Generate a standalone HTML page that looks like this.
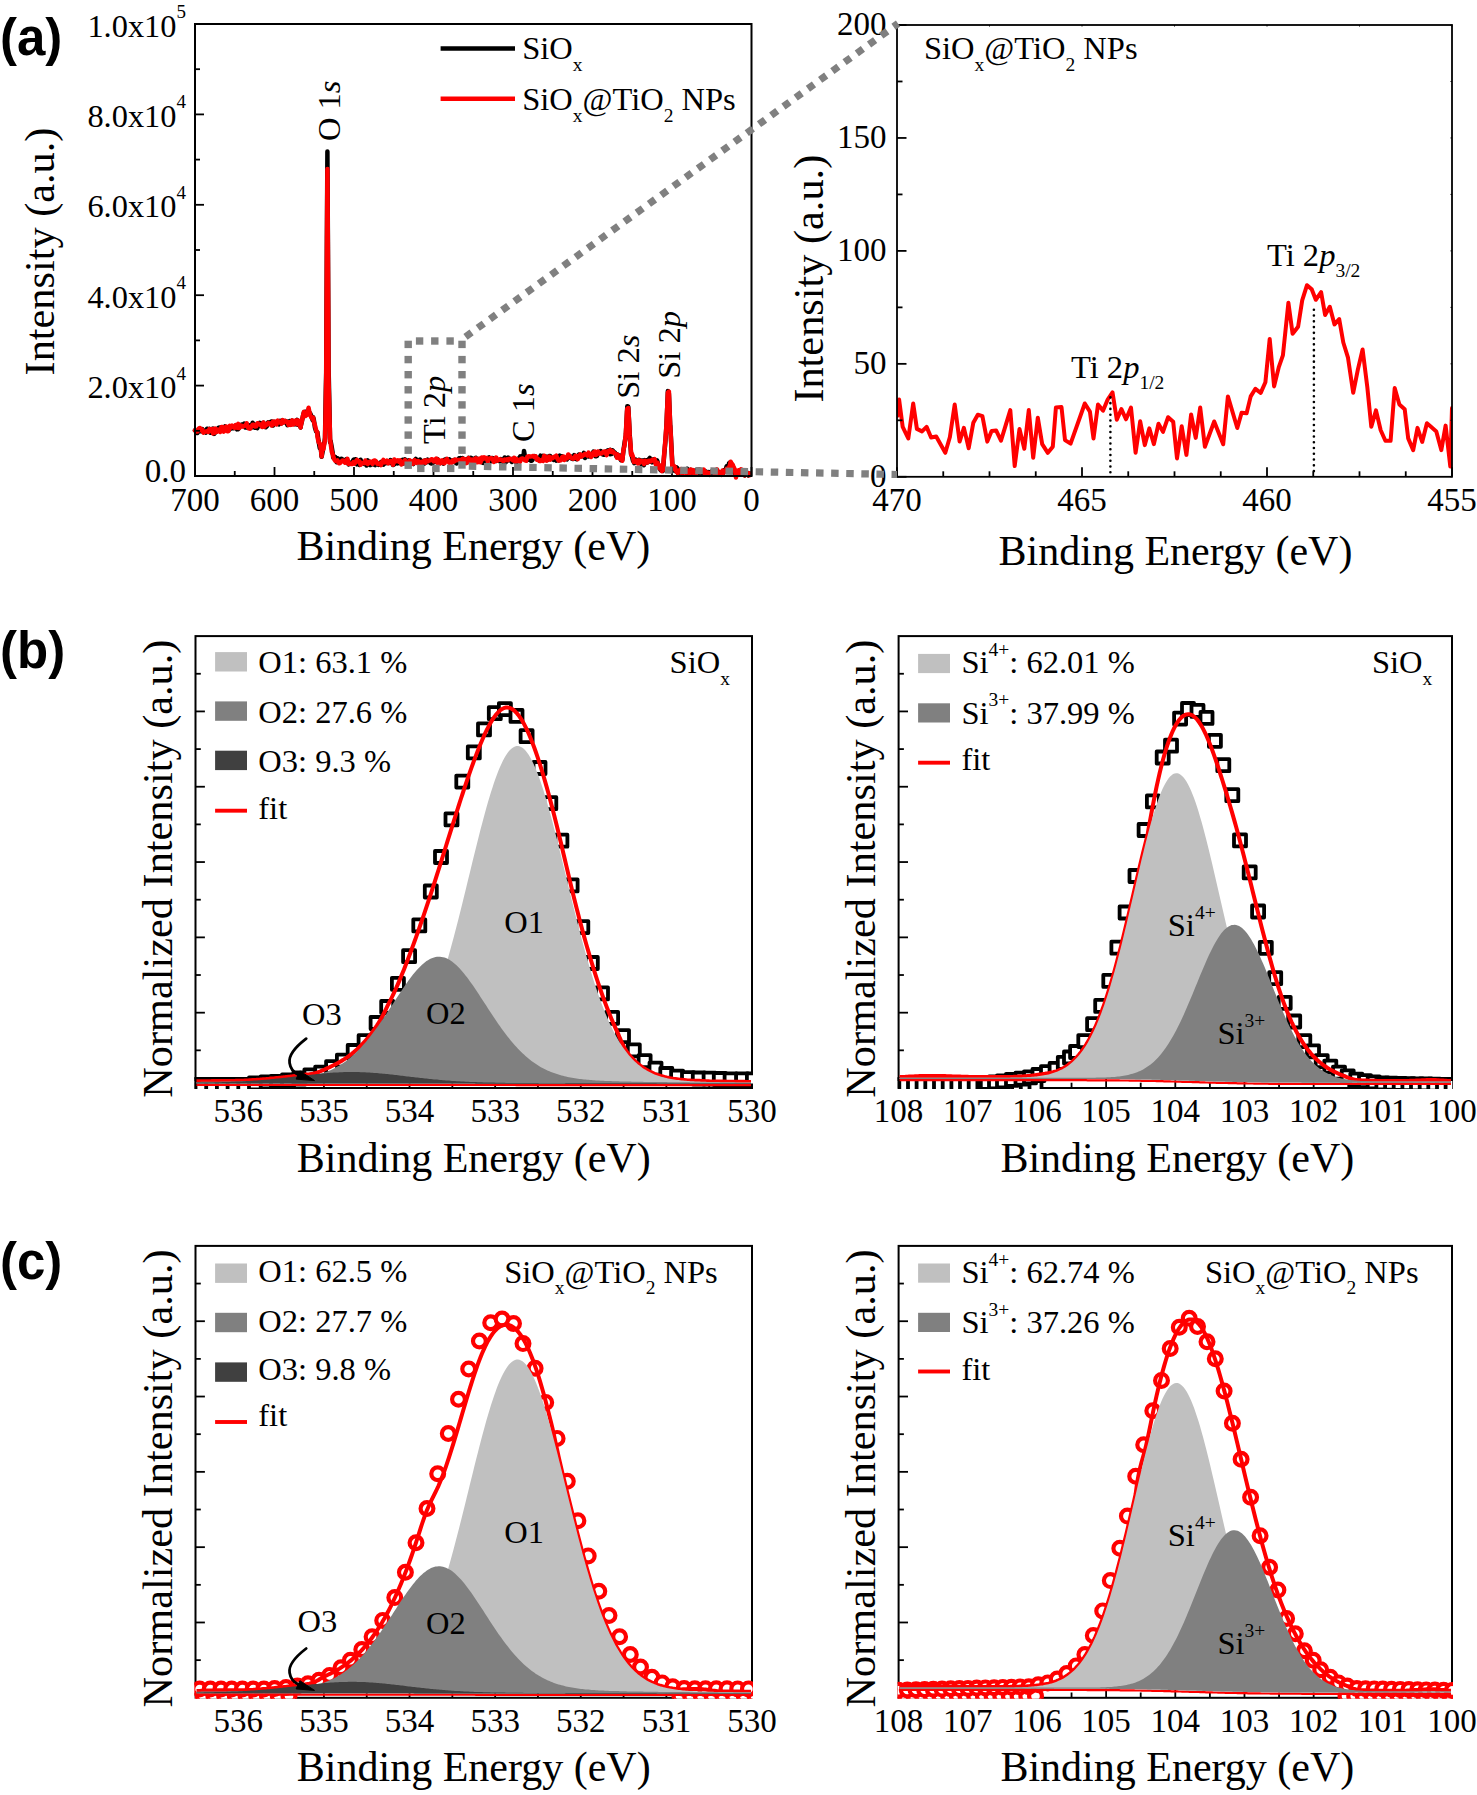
<!DOCTYPE html>
<html><head><meta charset="utf-8"><title>XPS figure</title>
<style>html,body{margin:0;padding:0;background:#fff;}svg{display:block;}.sq path{fill:#fff;stroke:#000;stroke-width:3.8px;stroke-linejoin:round}.ci circle{fill:#fff;stroke:#f00;stroke-width:4.2px}</style>
</head><body>
<svg xmlns="http://www.w3.org/2000/svg" width="1477" height="1795" viewBox="0 0 1477 1795" font-family="Liberation Serif" fill="#000">
<text x="0" y="54.6" font-family="Liberation Sans" font-weight="bold" font-size="51">(a)</text>
<text x="0" y="668.0" font-family="Liberation Sans" font-weight="bold" font-size="51">(b)</text>
<text x="0" y="1279.3" font-family="Liberation Sans" font-weight="bold" font-size="51">(c)</text>
<rect x="195.50" y="636.10" width="556.50" height="451.90" fill="none" stroke="#000" stroke-width="2"/>
<line x1="752.00" y1="1088.00" x2="752.00" y2="1078.60" stroke="#000" stroke-width="1.8" />
<line x1="709.19" y1="1088.00" x2="709.19" y2="1082.70" stroke="#000" stroke-width="1.8" />
<line x1="666.38" y1="1088.00" x2="666.38" y2="1078.60" stroke="#000" stroke-width="1.8" />
<line x1="623.58" y1="1088.00" x2="623.58" y2="1082.70" stroke="#000" stroke-width="1.8" />
<line x1="580.77" y1="1088.00" x2="580.77" y2="1078.60" stroke="#000" stroke-width="1.8" />
<line x1="537.96" y1="1088.00" x2="537.96" y2="1082.70" stroke="#000" stroke-width="1.8" />
<line x1="495.15" y1="1088.00" x2="495.15" y2="1078.60" stroke="#000" stroke-width="1.8" />
<line x1="452.35" y1="1088.00" x2="452.35" y2="1082.70" stroke="#000" stroke-width="1.8" />
<line x1="409.54" y1="1088.00" x2="409.54" y2="1078.60" stroke="#000" stroke-width="1.8" />
<line x1="366.73" y1="1088.00" x2="366.73" y2="1082.70" stroke="#000" stroke-width="1.8" />
<line x1="323.92" y1="1088.00" x2="323.92" y2="1078.60" stroke="#000" stroke-width="1.8" />
<line x1="281.12" y1="1088.00" x2="281.12" y2="1082.70" stroke="#000" stroke-width="1.8" />
<line x1="238.31" y1="1088.00" x2="238.31" y2="1078.60" stroke="#000" stroke-width="1.8" />
<line x1="195.50" y1="1088.00" x2="195.50" y2="1082.70" stroke="#000" stroke-width="1.8" />
<line x1="195.50" y1="1050.34" x2="200.80" y2="1050.34" stroke="#000" stroke-width="1.8" />
<line x1="195.50" y1="1012.68" x2="204.90" y2="1012.68" stroke="#000" stroke-width="1.8" />
<line x1="195.50" y1="975.02" x2="200.80" y2="975.02" stroke="#000" stroke-width="1.8" />
<line x1="195.50" y1="937.37" x2="204.90" y2="937.37" stroke="#000" stroke-width="1.8" />
<line x1="195.50" y1="899.71" x2="200.80" y2="899.71" stroke="#000" stroke-width="1.8" />
<line x1="195.50" y1="862.05" x2="204.90" y2="862.05" stroke="#000" stroke-width="1.8" />
<line x1="195.50" y1="824.39" x2="200.80" y2="824.39" stroke="#000" stroke-width="1.8" />
<line x1="195.50" y1="786.73" x2="204.90" y2="786.73" stroke="#000" stroke-width="1.8" />
<line x1="195.50" y1="749.08" x2="200.80" y2="749.08" stroke="#000" stroke-width="1.8" />
<line x1="195.50" y1="711.42" x2="204.90" y2="711.42" stroke="#000" stroke-width="1.8" />
<line x1="195.50" y1="673.76" x2="200.80" y2="673.76" stroke="#000" stroke-width="1.8" />
<rect x="898.60" y="636.10" width="553.40" height="451.90" fill="none" stroke="#000" stroke-width="2"/>
<line x1="1452.00" y1="1088.00" x2="1452.00" y2="1078.60" stroke="#000" stroke-width="1.8" />
<line x1="1417.41" y1="1088.00" x2="1417.41" y2="1082.70" stroke="#000" stroke-width="1.8" />
<line x1="1382.83" y1="1088.00" x2="1382.83" y2="1078.60" stroke="#000" stroke-width="1.8" />
<line x1="1348.24" y1="1088.00" x2="1348.24" y2="1082.70" stroke="#000" stroke-width="1.8" />
<line x1="1313.65" y1="1088.00" x2="1313.65" y2="1078.60" stroke="#000" stroke-width="1.8" />
<line x1="1279.06" y1="1088.00" x2="1279.06" y2="1082.70" stroke="#000" stroke-width="1.8" />
<line x1="1244.47" y1="1088.00" x2="1244.47" y2="1078.60" stroke="#000" stroke-width="1.8" />
<line x1="1209.89" y1="1088.00" x2="1209.89" y2="1082.70" stroke="#000" stroke-width="1.8" />
<line x1="1175.30" y1="1088.00" x2="1175.30" y2="1078.60" stroke="#000" stroke-width="1.8" />
<line x1="1140.71" y1="1088.00" x2="1140.71" y2="1082.70" stroke="#000" stroke-width="1.8" />
<line x1="1106.12" y1="1088.00" x2="1106.12" y2="1078.60" stroke="#000" stroke-width="1.8" />
<line x1="1071.54" y1="1088.00" x2="1071.54" y2="1082.70" stroke="#000" stroke-width="1.8" />
<line x1="1036.95" y1="1088.00" x2="1036.95" y2="1078.60" stroke="#000" stroke-width="1.8" />
<line x1="1002.36" y1="1088.00" x2="1002.36" y2="1082.70" stroke="#000" stroke-width="1.8" />
<line x1="967.77" y1="1088.00" x2="967.77" y2="1078.60" stroke="#000" stroke-width="1.8" />
<line x1="933.19" y1="1088.00" x2="933.19" y2="1082.70" stroke="#000" stroke-width="1.8" />
<line x1="898.60" y1="1088.00" x2="898.60" y2="1078.60" stroke="#000" stroke-width="1.8" />
<line x1="898.60" y1="1050.34" x2="903.90" y2="1050.34" stroke="#000" stroke-width="1.8" />
<line x1="898.60" y1="1012.68" x2="908.00" y2="1012.68" stroke="#000" stroke-width="1.8" />
<line x1="898.60" y1="975.02" x2="903.90" y2="975.02" stroke="#000" stroke-width="1.8" />
<line x1="898.60" y1="937.37" x2="908.00" y2="937.37" stroke="#000" stroke-width="1.8" />
<line x1="898.60" y1="899.71" x2="903.90" y2="899.71" stroke="#000" stroke-width="1.8" />
<line x1="898.60" y1="862.05" x2="908.00" y2="862.05" stroke="#000" stroke-width="1.8" />
<line x1="898.60" y1="824.39" x2="903.90" y2="824.39" stroke="#000" stroke-width="1.8" />
<line x1="898.60" y1="786.73" x2="908.00" y2="786.73" stroke="#000" stroke-width="1.8" />
<line x1="898.60" y1="749.08" x2="903.90" y2="749.08" stroke="#000" stroke-width="1.8" />
<line x1="898.60" y1="711.42" x2="908.00" y2="711.42" stroke="#000" stroke-width="1.8" />
<line x1="898.60" y1="673.76" x2="903.90" y2="673.76" stroke="#000" stroke-width="1.8" />
<rect x="195.50" y="1245.90" width="556.50" height="451.90" fill="none" stroke="#000" stroke-width="2"/>
<line x1="752.00" y1="1697.80" x2="752.00" y2="1688.40" stroke="#000" stroke-width="1.8" />
<line x1="709.19" y1="1697.80" x2="709.19" y2="1692.50" stroke="#000" stroke-width="1.8" />
<line x1="666.38" y1="1697.80" x2="666.38" y2="1688.40" stroke="#000" stroke-width="1.8" />
<line x1="623.58" y1="1697.80" x2="623.58" y2="1692.50" stroke="#000" stroke-width="1.8" />
<line x1="580.77" y1="1697.80" x2="580.77" y2="1688.40" stroke="#000" stroke-width="1.8" />
<line x1="537.96" y1="1697.80" x2="537.96" y2="1692.50" stroke="#000" stroke-width="1.8" />
<line x1="495.15" y1="1697.80" x2="495.15" y2="1688.40" stroke="#000" stroke-width="1.8" />
<line x1="452.35" y1="1697.80" x2="452.35" y2="1692.50" stroke="#000" stroke-width="1.8" />
<line x1="409.54" y1="1697.80" x2="409.54" y2="1688.40" stroke="#000" stroke-width="1.8" />
<line x1="366.73" y1="1697.80" x2="366.73" y2="1692.50" stroke="#000" stroke-width="1.8" />
<line x1="323.92" y1="1697.80" x2="323.92" y2="1688.40" stroke="#000" stroke-width="1.8" />
<line x1="281.12" y1="1697.80" x2="281.12" y2="1692.50" stroke="#000" stroke-width="1.8" />
<line x1="238.31" y1="1697.80" x2="238.31" y2="1688.40" stroke="#000" stroke-width="1.8" />
<line x1="195.50" y1="1697.80" x2="195.50" y2="1692.50" stroke="#000" stroke-width="1.8" />
<line x1="195.50" y1="1660.14" x2="200.80" y2="1660.14" stroke="#000" stroke-width="1.8" />
<line x1="195.50" y1="1622.48" x2="204.90" y2="1622.48" stroke="#000" stroke-width="1.8" />
<line x1="195.50" y1="1584.83" x2="200.80" y2="1584.83" stroke="#000" stroke-width="1.8" />
<line x1="195.50" y1="1547.17" x2="204.90" y2="1547.17" stroke="#000" stroke-width="1.8" />
<line x1="195.50" y1="1509.51" x2="200.80" y2="1509.51" stroke="#000" stroke-width="1.8" />
<line x1="195.50" y1="1471.85" x2="204.90" y2="1471.85" stroke="#000" stroke-width="1.8" />
<line x1="195.50" y1="1434.19" x2="200.80" y2="1434.19" stroke="#000" stroke-width="1.8" />
<line x1="195.50" y1="1396.53" x2="204.90" y2="1396.53" stroke="#000" stroke-width="1.8" />
<line x1="195.50" y1="1358.88" x2="200.80" y2="1358.88" stroke="#000" stroke-width="1.8" />
<line x1="195.50" y1="1321.22" x2="204.90" y2="1321.22" stroke="#000" stroke-width="1.8" />
<line x1="195.50" y1="1283.56" x2="200.80" y2="1283.56" stroke="#000" stroke-width="1.8" />
<rect x="898.60" y="1245.90" width="553.40" height="451.90" fill="none" stroke="#000" stroke-width="2"/>
<line x1="1452.00" y1="1697.80" x2="1452.00" y2="1688.40" stroke="#000" stroke-width="1.8" />
<line x1="1417.41" y1="1697.80" x2="1417.41" y2="1692.50" stroke="#000" stroke-width="1.8" />
<line x1="1382.83" y1="1697.80" x2="1382.83" y2="1688.40" stroke="#000" stroke-width="1.8" />
<line x1="1348.24" y1="1697.80" x2="1348.24" y2="1692.50" stroke="#000" stroke-width="1.8" />
<line x1="1313.65" y1="1697.80" x2="1313.65" y2="1688.40" stroke="#000" stroke-width="1.8" />
<line x1="1279.06" y1="1697.80" x2="1279.06" y2="1692.50" stroke="#000" stroke-width="1.8" />
<line x1="1244.47" y1="1697.80" x2="1244.47" y2="1688.40" stroke="#000" stroke-width="1.8" />
<line x1="1209.89" y1="1697.80" x2="1209.89" y2="1692.50" stroke="#000" stroke-width="1.8" />
<line x1="1175.30" y1="1697.80" x2="1175.30" y2="1688.40" stroke="#000" stroke-width="1.8" />
<line x1="1140.71" y1="1697.80" x2="1140.71" y2="1692.50" stroke="#000" stroke-width="1.8" />
<line x1="1106.12" y1="1697.80" x2="1106.12" y2="1688.40" stroke="#000" stroke-width="1.8" />
<line x1="1071.54" y1="1697.80" x2="1071.54" y2="1692.50" stroke="#000" stroke-width="1.8" />
<line x1="1036.95" y1="1697.80" x2="1036.95" y2="1688.40" stroke="#000" stroke-width="1.8" />
<line x1="1002.36" y1="1697.80" x2="1002.36" y2="1692.50" stroke="#000" stroke-width="1.8" />
<line x1="967.77" y1="1697.80" x2="967.77" y2="1688.40" stroke="#000" stroke-width="1.8" />
<line x1="933.19" y1="1697.80" x2="933.19" y2="1692.50" stroke="#000" stroke-width="1.8" />
<line x1="898.60" y1="1697.80" x2="898.60" y2="1688.40" stroke="#000" stroke-width="1.8" />
<line x1="898.60" y1="1660.14" x2="903.90" y2="1660.14" stroke="#000" stroke-width="1.8" />
<line x1="898.60" y1="1622.48" x2="908.00" y2="1622.48" stroke="#000" stroke-width="1.8" />
<line x1="898.60" y1="1584.83" x2="903.90" y2="1584.83" stroke="#000" stroke-width="1.8" />
<line x1="898.60" y1="1547.17" x2="908.00" y2="1547.17" stroke="#000" stroke-width="1.8" />
<line x1="898.60" y1="1509.51" x2="903.90" y2="1509.51" stroke="#000" stroke-width="1.8" />
<line x1="898.60" y1="1471.85" x2="908.00" y2="1471.85" stroke="#000" stroke-width="1.8" />
<line x1="898.60" y1="1434.19" x2="903.90" y2="1434.19" stroke="#000" stroke-width="1.8" />
<line x1="898.60" y1="1396.53" x2="908.00" y2="1396.53" stroke="#000" stroke-width="1.8" />
<line x1="898.60" y1="1358.88" x2="903.90" y2="1358.88" stroke="#000" stroke-width="1.8" />
<line x1="898.60" y1="1321.22" x2="908.00" y2="1321.22" stroke="#000" stroke-width="1.8" />
<line x1="898.60" y1="1283.56" x2="903.90" y2="1283.56" stroke="#000" stroke-width="1.8" />
<path d="M195.0,430.3 196.2,431.0 197.4,433.0 198.6,430.5 199.8,430.8 201.0,431.3 202.2,429.1 203.4,430.9 204.6,431.6 205.8,432.6 207.0,428.7 208.2,429.9 209.4,428.8 210.6,432.8 211.8,432.2 213.0,428.6 214.2,433.9 214.4,433.8 215.4,431.9 216.6,431.4 217.8,428.6 219.0,427.6 220.2,430.2 221.4,427.3 222.6,427.8 223.8,427.9 225.0,426.4 226.2,428.6 227.4,428.2 228.6,430.3 229.8,428.2 231.0,428.6 232.2,427.6 233.4,428.3 234.6,426.9 235.8,425.6 237.0,429.4 238.2,429.2 238.7,428.2 239.4,427.4 240.6,425.2 241.8,424.6 243.0,424.9 244.2,423.6 245.4,427.5 246.6,425.4 247.8,427.8 249.0,425.2 250.2,428.3 251.4,427.6 252.6,422.8 253.8,423.9 255.0,427.8 256.2,425.3 257.4,428.1 258.6,424.7 259.8,422.9 261.0,425.9 262.2,426.7 263.1,423.8 263.4,422.7 264.6,424.0 265.8,427.3 267.0,426.0 268.2,422.3 269.4,422.9 270.6,421.9 271.8,421.5 273.0,425.5 274.2,421.8 275.4,423.8 276.6,423.0 277.8,421.4 279.0,424.3 280.2,420.8 281.4,423.5 282.6,420.5 283.8,422.1 285.0,420.9 286.2,421.2 287.4,425.1 288.6,424.1 289.8,421.2 291.0,424.4 292.2,420.6 293.4,421.6 294.6,424.1 295.8,422.9 297.0,419.8 297.2,424.7 298.2,421.6 299.4,423.2 300.6,427.5 300.9,425.3 301.8,421.7 303.0,415.9 304.0,412.2 304.2,414.8 305.4,411.8 306.6,412.8 307.8,410.5 308.6,410.2 309.0,413.8 310.2,413.4 311.4,416.2 312.6,420.1 313.1,417.2 313.8,419.5 315.0,427.9 316.2,431.6 317.3,432.2 317.4,432.3 318.6,441.2 319.8,448.1 321.0,449.7 321.6,456.8 322.2,453.9 323.4,447.3 324.6,441.2 325.0,437.8 325.8,390.8 326.2,372.6 326.9,238.5 327.0,223.7 327.4,151.6 327.9,241.8 328.2,296.3 328.6,368.8 329.4,406.0 330.1,442.2 330.6,440.9 331.8,447.5 333.0,455.0 333.2,457.6 334.2,457.5 335.4,457.1 336.6,462.2 337.5,459.3 337.8,458.3 339.0,459.8 340.2,460.8 341.4,458.8 342.6,459.5 343.8,460.6 345.0,461.8 346.2,459.4 347.4,460.8 348.4,463.8 348.6,464.3 349.8,462.6 351.0,462.8 352.2,462.3 353.4,459.9 354.6,459.4 355.8,459.3 357.0,464.4 358.2,463.3 359.4,464.9 360.6,459.7 361.8,463.2 363.0,462.4 364.2,463.8 365.4,461.6 366.6,465.5 367.8,460.4 369.0,463.1 370.0,464.2 370.2,465.1 371.4,464.2 372.6,464.0 373.8,464.4 375.0,465.1 376.2,461.9 377.4,463.7 378.6,464.9 379.8,464.7 381.0,462.1 382.2,464.2 383.4,464.6 384.6,462.9 385.8,463.2 387.0,461.8 388.2,462.9 389.4,463.0 390.6,460.0 391.8,463.1 393.0,465.0 394.2,464.3 395.4,463.5 396.6,461.5 397.8,463.4 399.0,462.5 400.2,461.7 401.4,463.9 402.6,459.7 403.8,463.4 405.0,459.3 406.2,462.5 407.4,461.7 408.6,460.3 409.8,462.9 411.0,461.7 412.2,462.4 413.4,464.0 414.6,460.3 415.8,458.9 417.0,460.5 418.2,462.5 419.4,459.9 420.0,459.6 420.6,463.8 421.8,462.4 423.0,461.1 424.2,463.6 425.4,460.4 426.6,462.3 427.8,459.7 429.0,460.9 430.2,463.0 431.4,463.6 432.6,463.4 433.8,460.6 435.0,461.7 436.2,460.1 437.4,459.1 438.6,461.1 439.8,463.0 441.0,463.0 442.2,462.2 443.4,463.6 444.6,459.8 445.8,459.1 447.0,460.7 448.2,459.7 449.4,459.3 450.6,460.4 451.8,461.6 453.0,460.8 454.2,459.8 455.4,462.7 456.6,463.5 457.8,460.5 459.0,458.3 460.2,458.1 461.4,462.8 462.6,458.1 463.8,461.8 465.0,461.0 466.2,459.5 467.4,462.2 468.6,457.8 469.8,458.5 470.0,460.2 471.0,457.8 472.2,462.3 473.4,459.0 474.6,458.4 475.8,457.8 477.0,461.1 478.2,460.0 479.4,461.0 480.6,461.1 481.8,462.0 483.0,462.8 484.2,461.2 485.4,458.5 486.6,460.0 487.8,458.3 489.0,457.4 490.2,459.9 491.4,461.2 492.6,458.2 493.8,458.7 495.0,459.1 496.2,461.0 497.4,460.0 498.6,460.5 499.8,461.3 501.0,459.2 502.2,461.4 503.4,462.1 504.6,457.5 505.8,462.2 507.0,461.0 508.2,457.6 509.4,459.4 510.6,460.3 511.8,461.9 513.0,458.9 514.2,459.9 515.4,461.7 516.6,461.2 517.0,462.0 517.8,458.9 519.0,459.5 520.2,456.4 521.4,458.8 521.5,459.3 522.6,456.1 523.8,454.1 524.0,450.9 525.0,456.7 526.2,459.6 526.5,460.2 527.4,457.9 528.6,459.6 529.8,457.2 531.0,460.8 532.2,460.5 533.4,457.6 534.6,456.1 535.8,458.1 537.0,458.7 538.2,459.9 539.4,458.3 540.6,455.7 541.8,460.0 543.0,455.8 544.2,459.9 545.4,456.4 546.6,457.3 547.8,459.8 549.0,456.1 550.2,456.1 551.4,458.2 552.6,459.3 553.8,459.9 555.0,459.1 556.2,460.5 557.4,457.9 558.6,460.4 559.8,455.6 560.0,456.3 561.0,458.0 562.2,456.5 563.4,458.9 564.6,458.3 565.8,457.6 567.0,459.3 568.2,457.6 569.4,456.1 570.6,456.4 571.8,458.9 573.0,459.1 574.2,455.1 575.4,458.6 576.6,459.2 577.6,456.6 577.8,456.9 579.0,454.6 580.2,456.3 581.4,455.9 582.6,456.3 583.8,452.9 585.0,458.0 586.2,455.3 587.4,454.4 588.6,456.5 589.8,455.0 591.0,454.4 592.2,455.3 593.4,451.6 594.6,454.1 595.2,453.3 595.8,456.3 597.0,455.9 598.2,452.1 599.4,453.1 600.6,451.0 601.8,452.5 603.0,454.5 604.2,454.8 605.4,452.3 606.6,451.2 607.8,450.4 609.0,452.6 610.1,454.2 610.2,449.8 611.4,454.0 612.6,450.4 613.8,451.9 615.0,452.7 616.2,455.9 616.9,454.2 617.4,454.8 618.6,457.4 619.8,455.5 621.0,460.1 622.2,457.7 622.3,460.0 623.4,451.0 624.6,442.5 625.8,436.2 627.0,412.4 627.3,406.3 628.2,406.5 628.3,407.2 629.4,427.9 629.7,434.3 630.6,447.7 631.1,453.9 631.8,455.4 633.0,460.8 633.8,461.8 634.2,463.1 635.4,459.5 636.6,462.2 637.8,462.4 638.5,462.9 639.0,459.8 640.2,460.2 641.4,464.0 642.6,460.5 643.8,465.3 644.0,464.8 645.0,460.1 646.2,460.3 647.4,462.5 648.6,459.4 649.8,458.0 650.7,461.8 651.0,459.6 652.2,462.3 653.4,459.2 654.6,461.3 655.8,463.5 657.0,460.3 657.5,461.6 658.2,465.3 659.4,468.2 660.6,470.2 661.8,467.0 662.9,470.7 663.0,470.9 664.2,454.9 665.4,441.4 666.5,425.3 666.6,422.2 667.8,393.7 667.9,390.9 668.9,393.8 669.0,396.0 670.2,425.0 670.3,425.0 671.4,446.0 672.4,465.0 672.6,468.8 673.8,470.5 675.0,471.0 676.2,467.2 677.4,468.0 677.8,473.2 678.6,470.6 679.8,472.3 681.0,470.0 682.2,470.9 683.4,471.2 684.6,470.8 685.8,471.9 687.0,468.7 688.2,472.7 689.4,473.6 690.6,469.9 691.8,471.6 693.0,473.2 694.2,471.5 695.4,470.4 696.6,470.2 697.8,472.2 699.0,469.4 700.2,474.3 701.4,473.8 702.6,473.2 703.8,474.1 705.0,472.8 706.2,471.6 707.4,472.7 708.6,472.1 709.8,474.8 711.0,473.8 712.2,470.7 713.4,474.4 714.6,473.5 715.8,473.7 717.0,473.9 718.2,471.6 719.4,474.3 720.6,474.2 721.8,473.2 722.5,473.6 723.0,473.2 724.2,470.1 725.4,470.9 726.6,466.2 727.8,466.7 728.5,466.8 729.0,463.2 730.2,462.5 730.6,463.3 731.4,465.0 732.6,465.5 733.8,472.2 735.0,473.4 736.0,473.9 736.2,475.5 737.4,473.8 738.6,472.4 739.8,470.4 740.1,473.5 741.0,471.9 742.2,472.7 743.4,473.6 744.6,475.3 745.8,470.5 747.0,474.3 748.2,475.5 749.4,473.4 749.6,474.2" fill="none" stroke="#000" stroke-width="4.5" stroke-linejoin="round" stroke-linecap="round" />
<path d="M195.0,430.5 196.2,431.5 197.4,431.6 198.6,428.7 199.8,428.0 201.0,430.1 202.2,429.6 203.4,432.6 204.6,432.0 205.8,431.5 207.0,431.3 208.2,431.9 209.4,429.1 210.6,430.7 211.8,429.2 213.0,433.4 214.2,428.7 214.4,433.0 215.4,428.6 216.6,431.8 217.8,429.6 219.0,429.7 220.2,431.9 221.4,427.1 222.6,427.1 223.8,431.6 225.0,429.1 226.2,426.5 227.4,431.3 228.6,430.8 229.8,425.9 231.0,427.4 232.2,425.6 233.4,426.3 234.6,427.8 235.8,425.0 237.0,427.7 238.2,423.9 238.7,424.5 239.4,428.0 240.6,425.6 241.8,425.7 243.0,426.6 244.2,425.9 245.4,425.3 246.6,423.3 247.8,427.1 249.0,428.4 250.2,428.4 251.4,426.6 252.6,424.8 253.8,424.8 255.0,426.6 256.2,426.4 257.4,423.2 258.6,423.8 259.8,424.5 261.0,425.3 262.2,426.9 263.1,425.1 263.4,422.4 264.6,426.7 265.8,424.4 267.0,424.7 268.2,422.9 269.4,423.9 270.6,423.5 271.8,425.5 273.0,421.6 274.2,423.9 275.4,421.7 276.6,424.4 277.8,420.6 279.0,421.8 280.2,422.0 281.4,423.5 282.6,420.1 283.8,422.4 285.0,420.9 286.2,421.3 287.4,422.3 288.6,425.0 289.8,422.2 291.0,424.8 292.2,420.4 293.4,424.5 294.6,421.4 295.8,420.3 297.0,423.4 297.2,424.3 298.2,420.4 299.4,423.3 300.6,427.5 300.9,425.4 301.8,421.4 303.0,415.6 304.0,411.9 304.2,415.0 305.4,416.0 306.6,415.0 307.8,411.2 308.6,407.8 309.0,410.3 310.2,415.1 311.4,417.6 312.6,418.8 313.1,417.5 313.8,421.6 315.0,425.5 316.2,430.5 317.3,432.3 317.4,436.6 318.6,442.1 319.8,443.7 321.0,450.2 321.6,456.4 322.2,450.5 323.4,449.2 324.6,441.8 325.0,441.1 325.8,401.1 326.2,378.4 326.9,248.8 327.0,232.2 327.4,169.0 327.9,251.1 328.2,303.7 328.6,382.2 329.4,412.1 330.1,439.6 330.6,443.0 331.8,451.7 333.0,455.0 333.2,456.3 334.2,459.2 335.4,460.9 336.6,461.3 337.5,460.5 337.8,461.5 339.0,463.3 340.2,462.8 341.4,461.7 342.6,460.4 343.8,460.6 345.0,462.7 346.2,461.8 347.4,458.8 348.4,462.8 348.6,463.9 349.8,463.4 351.0,464.0 352.2,464.1 353.4,462.1 354.6,463.6 355.8,461.4 357.0,459.9 358.2,461.4 359.4,461.2 360.6,464.8 361.8,463.5 363.0,462.7 364.2,463.2 365.4,460.5 366.6,462.9 367.8,463.9 369.0,462.2 370.0,461.5 370.2,462.4 371.4,461.9 372.6,463.9 373.8,460.8 375.0,460.5 376.2,461.7 377.4,463.8 378.6,464.1 379.8,463.5 381.0,465.0 382.2,461.8 383.4,459.9 384.6,462.4 385.8,462.1 387.0,460.6 388.2,463.3 389.4,461.5 390.6,460.9 391.8,461.3 393.0,464.7 394.2,459.5 395.4,461.4 396.6,460.9 397.8,460.4 399.0,461.7 400.2,460.5 401.4,464.4 402.6,462.0 403.8,463.1 405.0,460.0 406.2,461.7 407.4,462.4 408.6,463.7 409.8,460.4 411.0,461.5 412.2,463.7 413.4,463.5 414.6,460.1 415.8,461.8 417.0,463.0 418.2,461.0 419.4,462.5 420.0,462.4 420.6,464.1 421.8,461.8 423.0,462.5 424.2,460.6 425.4,462.7 426.6,460.4 427.8,461.3 429.0,460.5 430.2,460.2 431.4,459.2 432.6,459.7 433.8,461.5 435.0,459.8 436.2,458.6 437.4,462.9 438.6,459.9 439.8,463.5 441.0,461.6 442.2,460.4 443.4,463.1 444.6,463.2 445.8,460.0 447.0,458.9 448.2,461.7 449.4,462.8 450.6,461.5 451.8,462.5 453.0,460.3 454.2,461.5 455.4,459.5 456.6,460.2 457.8,460.1 459.0,460.1 460.2,460.1 461.4,462.4 462.6,458.8 463.8,459.0 465.0,459.2 466.2,463.2 467.4,460.7 468.6,458.0 469.8,462.4 470.0,462.6 471.0,462.3 472.2,459.6 473.4,461.7 474.6,459.3 475.8,458.3 477.0,462.3 478.2,462.1 479.4,458.6 480.6,462.3 481.8,457.5 483.0,459.0 484.2,457.3 485.4,458.2 486.6,458.1 487.8,461.2 489.0,458.8 490.2,458.2 491.4,458.1 492.6,458.8 493.8,461.8 495.0,460.3 496.2,457.5 497.4,460.7 498.6,459.8 499.8,459.3 501.0,459.7 502.2,460.4 503.4,461.2 504.6,459.5 505.8,460.2 507.0,459.2 508.2,460.1 509.4,458.7 510.6,458.8 511.8,459.3 513.0,460.4 514.2,457.9 515.4,461.5 516.6,459.1 517.8,461.1 519.0,460.1 520.0,461.6 520.2,460.0 521.4,458.6 522.6,458.4 523.8,459.5 525.0,460.3 526.2,460.7 527.4,456.7 528.6,456.3 529.8,456.5 531.0,456.4 532.2,456.2 533.4,455.9 534.6,457.2 535.8,456.4 537.0,459.6 538.2,459.1 539.4,461.1 540.6,461.0 541.8,459.8 543.0,460.9 544.2,455.7 545.4,456.8 546.6,460.7 547.8,458.1 549.0,456.6 550.2,459.6 551.4,457.7 552.6,458.3 553.8,457.0 555.0,456.6 556.2,455.7 557.4,458.6 558.6,460.5 559.8,460.6 560.0,459.4 561.0,460.2 562.2,457.0 563.4,456.5 564.6,459.9 565.8,458.0 567.0,458.3 568.2,454.5 569.4,455.6 570.6,457.0 571.8,458.3 573.0,458.7 574.2,458.2 575.4,455.8 576.6,455.9 577.6,458.5 577.8,459.2 579.0,456.2 580.2,454.4 581.4,456.6 582.6,455.9 583.8,454.8 585.0,453.9 586.2,454.5 587.4,455.6 588.6,452.7 589.8,454.9 591.0,457.0 592.2,455.6 593.4,452.7 594.6,453.4 595.2,451.6 595.8,455.0 597.0,454.3 598.2,451.6 599.4,453.5 600.6,453.6 601.8,453.3 603.0,452.1 604.2,451.5 605.4,451.6 606.6,455.1 607.8,451.2 609.0,452.0 610.1,451.6 610.2,450.0 611.4,451.9 612.6,451.4 613.8,452.7 615.0,453.5 616.2,454.0 616.9,457.7 617.4,454.5 618.6,455.7 619.8,458.6 621.0,458.2 622.2,459.9 622.3,460.7 623.4,450.0 624.6,445.2 625.8,433.8 627.0,411.4 627.3,408.7 628.2,409.7 628.3,408.0 629.4,427.9 629.7,435.7 630.6,445.8 631.1,455.0 631.8,453.7 633.0,457.1 633.8,462.0 634.2,461.9 635.4,461.5 636.6,460.7 637.8,463.3 638.5,460.4 639.0,463.2 640.2,460.6 641.4,461.5 642.6,461.3 643.8,463.7 644.0,464.0 645.0,460.7 646.2,461.9 647.4,462.5 648.6,460.8 649.8,461.2 650.7,460.6 651.0,461.3 652.2,459.8 653.4,460.2 654.6,459.2 655.8,464.6 657.0,464.7 657.5,462.7 658.2,466.9 659.4,468.2 660.6,465.6 661.8,471.1 662.9,470.3 663.0,468.4 664.2,453.6 665.4,439.9 666.5,424.5 666.6,422.1 667.8,393.7 667.9,392.4 668.9,391.6 669.0,393.8 670.2,426.5 670.3,426.3 671.4,447.7 672.4,467.3 672.6,469.3 673.8,465.8 675.0,467.1 676.2,471.5 677.4,472.7 677.8,473.1 678.6,470.9 679.8,470.1 681.0,469.2 682.2,473.3 683.4,472.6 684.6,471.5 685.8,473.0 687.0,470.1 688.2,471.7 689.4,473.9 690.6,469.5 691.8,472.5 693.0,470.1 694.2,473.9 695.4,474.0 696.6,472.9 697.8,471.7 699.0,469.4 700.2,472.1 701.4,471.3 702.6,471.5 703.8,469.7 705.0,474.5 706.2,472.2 707.4,472.4 708.6,474.0 709.8,474.3 711.0,472.4 712.2,472.3 713.4,474.0 714.6,471.4 715.8,474.3 717.0,469.4 718.2,473.8 719.4,472.3 720.6,472.8 721.8,474.8 722.5,470.5 723.0,471.2 724.2,472.3 725.4,471.0 726.6,468.8 727.8,469.1 728.5,468.0 729.0,468.0 730.2,464.2 730.6,461.7 731.4,463.1 732.6,464.7 733.8,467.6 735.0,469.9 736.0,477.5 736.2,472.6 737.4,474.0 738.6,470.2 739.8,473.6 740.1,470.9 741.0,469.3 742.2,473.4 743.4,474.1 744.6,475.3 745.8,471.6 747.0,473.1 748.2,475.1 749.4,473.5 749.6,475.2" fill="none" stroke="#f00" stroke-width="4.5" stroke-linejoin="round" stroke-linecap="round" />
<clipPath id="cR"><rect x="897.00" y="25.00" width="555.00" height="451.80"/></clipPath>
<path d="M897.5,415.7 899.1,399.5 902.7,426.9 908.3,438.5 913.2,403.5 916.9,428.9 922.0,431.4 926.6,426.9 931.1,437.5 936.2,436.5 945.3,452.8 949.9,437.0 954.7,404.5 959.6,441.6 963.9,427.9 968.7,448.2 973.3,422.8 977.8,414.7 982.4,416.2 987.3,441.6 991.6,430.9 996.1,430.4 1001.0,440.6 1005.8,424.8 1010.3,410.1 1014.7,466.0 1019.5,428.9 1024.3,448.7 1028.8,410.1 1033.2,457.8 1037.8,417.7 1042.2,444.1 1047.8,452.8 1052.8,446.7 1055.9,407.6 1061.5,407.1 1065.0,440.1 1070.6,443.6 1084.8,403.5 1089.9,411.6 1093.5,438.5 1098.0,404.5 1103.1,410.6 1107.7,399.5 1112.5,392.3 1116.8,419.8 1121.4,409.1 1126.0,419.3 1131.0,407.6 1135.6,452.8 1140.2,421.3 1144.8,445.1 1149.3,428.4 1153.9,444.1 1158.5,423.8 1163.0,431.9 1168.1,417.2 1173.2,421.8 1177.0,458.4 1181.7,426.2 1186.4,454.9 1191.1,414.5 1195.7,437.9 1200.2,407.5 1204.9,446.7 1214.2,421.5 1223.2,444.3 1227.9,396.4 1237.3,428.0 1241.6,412.7 1246.6,413.3 1250.7,396.4 1255.4,388.8 1260.7,392.9 1265.4,382.3 1269.7,339.0 1274.1,386.4 1278.8,367.1 1282.9,355.4 1288.4,302.8 1292.6,333.8 1298.1,326.7 1302.2,300.4 1307.0,285.2 1311.7,289.3 1315.8,299.8 1321.1,292.2 1325.1,315.0 1329.8,306.8 1334.5,324.4 1339.2,319.1 1343.3,342.5 1348.0,357.7 1353.2,392.8 1357.9,369.4 1362.6,349.5 1367.3,387.0 1371.3,426.7 1376.0,410.4 1380.7,430.2 1385.4,440.8 1390.6,440.8 1394.7,388.1 1399.4,404.5 1404.7,409.2 1408.2,438.4 1413.2,450.1 1417.5,427.9 1422.2,441.9 1426.9,423.2 1431.0,426.7 1436.3,431.4 1441.3,450.1 1445.6,425.6 1450.3,466.5 1452.0,408.0" fill="none" stroke="#f00" stroke-width="4.0" stroke-linejoin="round" stroke-linecap="round" clip-path="url(#cR)"/>
<line x1="1110.4" y1="397.4" x2="1110.4" y2="473" stroke="#000" stroke-width="2.6" stroke-dasharray="0.01 5.75" stroke-linecap="round"/>
<line x1="1313.9" y1="309.8" x2="1313.9" y2="476" stroke="#000" stroke-width="2.6" stroke-dasharray="0.01 5.75" stroke-linecap="round"/>
<clipPath id="cbO"><rect x="196.50" y="637.10" width="554.50" height="449.90"/></clipPath>
<clipPath id="cbOo"><rect x="194.50" y="635.10" width="558.50" height="453.90"/></clipPath>
<g class="sq" clip-path="url(#cbOo)">
<path d="M184.8,1079.0h12.0v12.0h-12.0z"/>
<path d="M195.5,1079.0h12.0v12.0h-12.0z"/>
<path d="M206.2,1079.0h12.0v12.0h-12.0z"/>
<path d="M216.9,1079.0h12.0v12.0h-12.0z"/>
<path d="M227.6,1079.0h12.0v12.0h-12.0z"/>
<path d="M238.3,1079.0h12.0v12.0h-12.0z"/>
<path d="M249.0,1077.4h12.0v12.0h-12.0z"/>
<path d="M260.7,1076.5h12.0v12.0h-12.0z"/>
<path d="M271.0,1076.0h12.0v12.0h-12.0z"/>
<path d="M282.0,1074.5h12.0v12.0h-12.0z"/>
<path d="M293.4,1072.5h12.0v12.0h-12.0z"/>
<path d="M304.4,1069.3h12.0v12.0h-12.0z"/>
<path d="M315.2,1066.6h12.0v12.0h-12.0z"/>
<path d="M326.1,1061.2h12.0v12.0h-12.0z"/>
<path d="M336.9,1054.7h12.0v12.0h-12.0z"/>
<path d="M347.7,1045.0h12.0v12.0h-12.0z"/>
<path d="M358.6,1035.2h12.0v12.0h-12.0z"/>
<path d="M370.6,1017.0h12.0v12.0h-12.0z"/>
<path d="M381.2,1001.0h12.0v12.0h-12.0z"/>
<path d="M391.9,977.8h12.0v12.0h-12.0z"/>
<path d="M403.1,950.2h12.0v12.0h-12.0z"/>
<path d="M413.3,919.4h12.0v12.0h-12.0z"/>
<path d="M424.8,885.5h12.0v12.0h-12.0z"/>
<path d="M435.0,851.0h12.0v12.0h-12.0z"/>
<path d="M445.5,813.4h12.0v12.0h-12.0z"/>
<path d="M456.3,775.6h12.0v12.0h-12.0z"/>
<path d="M467.8,746.4h12.0v12.0h-12.0z"/>
<path d="M478.0,723.4h12.0v12.0h-12.0z"/>
<path d="M488.8,707.2h12.0v12.0h-12.0z"/>
<path d="M498.9,703.1h12.0v12.0h-12.0z"/>
<path d="M510.5,709.9h12.0v12.0h-12.0z"/>
<path d="M520.6,730.2h12.0v12.0h-12.0z"/>
<path d="M533.5,762.0h12.0v12.0h-12.0z"/>
<path d="M544.3,797.2h12.0v12.0h-12.0z"/>
<path d="M555.4,834.7h12.0v12.0h-12.0z"/>
<path d="M565.6,879.4h12.0v12.0h-12.0z"/>
<path d="M576.3,921.1h12.0v12.0h-12.0z"/>
<path d="M585.8,957.0h12.0v12.0h-12.0z"/>
<path d="M596.0,987.4h12.0v12.0h-12.0z"/>
<path d="M606.1,1011.8h12.0v12.0h-12.0z"/>
<path d="M617.0,1030.1h12.0v12.0h-12.0z"/>
<path d="M627.8,1044.3h12.0v12.0h-12.0z"/>
<path d="M638.6,1055.1h12.0v12.0h-12.0z"/>
<path d="M649.5,1062.6h12.0v12.0h-12.0z"/>
<path d="M660.3,1068.0h12.0v12.0h-12.0z"/>
<path d="M671.1,1070.7h12.0v12.0h-12.0z"/>
<path d="M682.0,1072.1h12.0v12.0h-12.0z"/>
<path d="M692.8,1072.5h12.0v12.0h-12.0z"/>
<path d="M703.6,1072.7h12.0v12.0h-12.0z"/>
<path d="M713.8,1073.0h12.0v12.0h-12.0z"/>
<path d="M724.6,1073.4h12.0v12.0h-12.0z"/>
<path d="M736.1,1073.4h12.0v12.0h-12.0z"/>
<path d="M746.9,1073.4h12.0v12.0h-12.0z"/>
</g>
<path d="M195.5,1084.8 197.0,1084.8 198.5,1084.8 200.0,1084.8 201.5,1084.8 203.0,1084.8 204.5,1084.8 206.0,1084.8 207.5,1084.8 209.0,1084.8 210.5,1084.8 212.0,1084.8 213.5,1084.8 215.0,1084.8 216.5,1084.8 218.0,1084.8 219.5,1084.8 221.0,1084.8 222.5,1084.8 224.0,1084.8 225.5,1084.8 227.0,1084.8 228.5,1084.8 230.0,1084.8 231.5,1084.8 233.0,1084.8 234.5,1084.8 236.0,1084.8 237.5,1084.8 239.0,1084.8 240.5,1084.8 242.0,1084.8 243.5,1084.8 245.0,1084.8 246.5,1084.8 248.0,1084.8 249.5,1084.8 251.0,1084.8 252.5,1084.8 254.0,1084.8 255.5,1084.8 257.0,1084.8 258.5,1084.8 260.0,1084.8 261.5,1084.8 263.0,1084.8 264.5,1084.8 266.0,1084.8 267.5,1084.8 269.0,1084.8 270.5,1084.8 272.0,1084.8 273.5,1084.8 275.0,1084.8 276.5,1084.8 278.0,1084.8 279.5,1084.8 281.0,1084.8 282.5,1084.8 284.0,1084.8 285.5,1084.8 287.0,1084.8 288.5,1084.8 290.0,1084.8 291.5,1084.8 293.0,1084.8 294.5,1084.8 296.0,1084.8 297.5,1084.8 299.0,1084.8 300.5,1084.8 302.0,1084.8 303.5,1084.8 305.0,1084.8 306.5,1084.8 308.0,1084.8 309.5,1084.8 311.0,1084.8 312.5,1084.8 314.0,1084.8 315.5,1084.8 317.0,1084.8 318.5,1084.8 320.0,1084.8 321.5,1084.8 323.0,1084.8 324.5,1084.8 326.0,1084.8 327.5,1084.8 329.0,1084.8 330.5,1084.8 332.0,1084.8 333.5,1084.8 335.0,1084.8 336.5,1084.8 338.0,1084.8 339.5,1084.8 341.0,1084.8 342.5,1084.8 344.0,1084.8 345.5,1084.8 347.0,1084.8 348.5,1084.8 350.0,1084.8 351.5,1084.8 353.0,1084.8 354.5,1084.8 356.0,1084.8 357.5,1084.8 359.0,1084.8 360.5,1084.8 362.0,1084.8 363.5,1084.8 365.0,1084.8 366.5,1084.8 368.0,1084.8 369.5,1084.8 371.0,1084.8 372.5,1084.8 374.0,1084.8 375.5,1084.8 377.0,1084.8 378.5,1084.8 380.0,1084.8 381.5,1084.8 383.0,1084.8 384.5,1084.8 386.0,1084.8 387.5,1084.8 389.0,1084.8 390.5,1084.8 392.0,1084.8 393.5,1084.8 395.0,1084.8 396.5,1084.8 398.0,1084.8 399.5,1084.8 401.0,1084.8 402.5,1084.8 404.0,1084.8 405.5,1084.8 407.0,1084.8 408.5,1084.8 410.0,1084.8 411.5,1084.8 413.0,1084.8 414.5,1084.9 416.0,1084.9 417.5,1084.9 419.0,1084.9 420.5,1084.9 422.0,1084.9 423.5,1084.9 425.0,1084.9 426.5,1084.9 428.0,1084.9 429.5,1084.9 431.0,1084.9 432.5,1084.9 434.0,1084.9 435.5,1084.9 437.0,1084.9 438.5,1084.9 440.0,1084.9 441.5,1084.9 443.0,1084.9 444.5,1084.9 446.0,1084.9 447.5,1084.9 449.0,1084.9 450.5,1084.9 452.0,1084.9 453.5,1084.9 455.0,1084.9 456.5,1084.9 458.0,1084.9 459.5,1084.9 461.0,1084.9 462.5,1084.9 464.0,1084.9 465.5,1084.9 467.0,1084.9 468.5,1084.9 470.0,1084.9 471.5,1084.9 473.0,1084.9 474.5,1084.9 476.0,1085.0 477.5,1085.0 479.0,1085.0 480.5,1085.0 482.0,1085.0 483.5,1085.0 485.0,1085.0 486.5,1085.0 488.0,1085.0 489.5,1085.0 491.0,1085.0 492.5,1085.0 494.0,1085.0 495.5,1085.0 497.0,1085.0 498.5,1085.0 500.0,1085.0 501.5,1085.0 503.0,1085.0 504.5,1085.0 506.0,1085.0 507.5,1085.0 509.0,1085.0 510.5,1085.0 512.0,1085.0 513.5,1085.0 515.0,1085.0 516.5,1085.1 518.0,1085.1 519.5,1085.1 521.0,1085.1 522.5,1085.1 524.0,1085.1 525.5,1085.1 527.0,1085.1 528.5,1085.1 530.0,1085.1 531.5,1085.1 533.0,1085.1 534.5,1085.1 536.0,1085.1 537.5,1085.1 539.0,1085.1 540.5,1085.1 542.0,1085.1 543.5,1085.1 545.0,1085.1 546.5,1085.1 548.0,1085.1 549.5,1085.1 551.0,1085.1 552.5,1085.1 554.0,1085.1 555.5,1085.1 557.0,1085.1 558.5,1085.1 560.0,1085.1 561.5,1085.1 563.0,1085.1 564.5,1085.1 566.0,1085.2 567.5,1085.2 569.0,1085.2 570.5,1085.2 572.0,1085.2 573.5,1085.2 575.0,1085.2 576.5,1085.2 578.0,1085.2 579.5,1085.2 581.0,1085.2 582.5,1085.2 584.0,1085.2 585.5,1085.2 587.0,1085.2 588.5,1085.2 590.0,1085.2 591.5,1085.2 593.0,1085.2 594.5,1085.2 596.0,1085.2 597.5,1085.2 599.0,1085.2 600.5,1085.2 602.0,1085.2 603.5,1085.2 605.0,1085.2 606.5,1085.2 608.0,1085.2 609.5,1085.2 611.0,1085.2 612.5,1085.2 614.0,1085.2 615.5,1085.2 617.0,1085.2 618.5,1085.2 620.0,1085.2 621.5,1085.2 623.0,1085.2 624.5,1085.2 626.0,1085.2 627.5,1085.2 629.0,1085.2 630.5,1085.2 632.0,1085.2 633.5,1085.2 635.0,1085.2 636.5,1085.2 638.0,1085.2 639.5,1085.2 641.0,1085.2 642.5,1085.2 644.0,1085.2 645.5,1085.2 647.0,1085.2 648.5,1085.2 650.0,1085.2 651.5,1085.2 653.0,1085.2 654.5,1085.2 656.0,1085.2 657.5,1085.2 659.0,1085.2 660.5,1085.2 662.0,1085.2 663.5,1085.2 665.0,1085.2 666.5,1085.2 668.0,1085.2 669.5,1085.2 671.0,1085.2 672.5,1085.2 674.0,1085.2 675.5,1085.2 677.0,1085.2 678.5,1085.2 680.0,1085.2 681.5,1085.2 683.0,1085.2 684.5,1085.2 686.0,1085.2 687.5,1085.2 689.0,1085.2 690.5,1085.2 692.0,1085.2 693.5,1085.2 695.0,1085.2 696.5,1085.2 698.0,1085.2 699.5,1085.2 701.0,1085.2 702.5,1085.2 704.0,1085.2 705.5,1085.2 707.0,1085.2 708.5,1085.2 710.0,1085.2 711.5,1085.2 713.0,1085.2 714.5,1085.2 716.0,1085.2 717.5,1085.2 719.0,1085.2 720.5,1085.2 722.0,1085.2 723.5,1085.2 725.0,1085.2 726.5,1085.2 728.0,1085.2 729.5,1085.2 731.0,1085.2 732.5,1085.2 734.0,1085.2 735.5,1085.2 737.0,1085.2 738.5,1085.2 740.0,1085.2 741.5,1085.2 743.0,1085.2 744.5,1085.2 746.0,1085.2 747.5,1085.2 749.0,1085.2 750.5,1085.2 752.0,1085.2" fill="none" stroke="#f00" stroke-width="2.2" stroke-linejoin="round" stroke-linecap="round" clip-path="url(#cbO)"/>
<path d="M195.5,1081.3 197.0,1081.3 198.5,1081.3 200.0,1081.3 201.5,1081.2 203.0,1081.2 204.5,1081.2 206.0,1081.2 207.5,1081.2 209.0,1081.2 210.5,1081.2 212.0,1081.1 213.5,1081.1 215.0,1081.1 216.5,1081.1 218.0,1081.1 219.5,1081.1 221.0,1081.0 222.5,1081.0 224.0,1081.0 225.5,1081.0 227.0,1081.0 228.5,1080.9 230.0,1080.9 231.5,1080.9 233.0,1080.9 234.5,1080.9 236.0,1080.8 237.5,1080.8 239.0,1080.8 240.5,1080.8 242.0,1080.7 243.5,1080.7 245.0,1080.6 246.5,1080.5 248.0,1080.4 249.5,1080.3 251.0,1080.2 252.5,1080.1 254.0,1080.0 255.5,1079.9 257.0,1079.8 258.5,1079.7 260.0,1079.6 261.5,1079.4 263.0,1079.3 264.5,1079.2 266.0,1079.1 267.5,1078.9 269.0,1078.8 270.5,1078.6 272.0,1078.5 273.5,1078.4 275.0,1078.2 276.5,1078.0 278.0,1077.9 279.5,1077.7 281.0,1077.6 282.5,1077.4 284.0,1077.2 285.5,1077.1 287.0,1076.9 288.5,1076.7 290.0,1076.6 291.5,1076.4 293.0,1076.2 294.5,1076.0 296.0,1075.9 297.5,1075.7 299.0,1075.5 300.5,1075.3 302.0,1075.1 303.5,1075.0 305.0,1074.8 306.5,1074.6 308.0,1074.4 309.5,1074.3 311.0,1074.1 312.5,1073.8 314.0,1073.5 315.5,1073.1 317.0,1072.7 318.5,1072.1 320.0,1071.5 321.5,1070.8 323.0,1070.1 324.5,1069.5 326.0,1068.8 327.5,1068.1 329.0,1067.5 330.5,1066.7 332.0,1066.0 333.5,1065.3 335.0,1064.5 336.5,1063.7 338.0,1062.9 339.5,1062.1 341.0,1061.2 342.5,1060.3 344.0,1059.4 345.5,1058.4 347.0,1057.4 348.5,1056.3 350.0,1055.2 351.5,1054.1 353.0,1052.9 354.5,1051.6 356.0,1050.3 357.5,1049.0 359.0,1047.5 360.5,1046.0 362.0,1044.5 363.5,1042.9 365.0,1041.2 366.5,1039.5 368.0,1037.7 369.5,1035.8 371.0,1033.9 372.5,1031.9 374.0,1029.8 375.5,1027.6 377.0,1025.4 378.5,1023.0 380.0,1020.5 381.5,1017.9 383.0,1015.2 384.5,1012.2 386.0,1009.1 387.5,1005.9 389.0,1003.0 390.5,1000.1 392.0,997.0 393.5,993.9 395.0,990.7 396.5,987.3 398.0,983.9 399.5,980.4 401.0,976.8 402.5,973.1 404.0,969.4 405.5,965.6 407.0,961.7 408.5,957.8 410.0,953.8 411.5,949.7 413.0,945.6 414.5,941.5 416.0,937.3 417.5,933.0 419.0,928.8 420.5,924.5 422.0,920.1 423.5,915.8 425.0,911.4 426.5,906.9 428.0,902.4 429.5,897.9 431.0,893.3 432.5,888.7 434.0,884.1 435.5,879.4 437.0,874.7 438.5,870.0 440.0,865.2 441.5,860.4 443.0,855.6 444.5,850.8 446.0,846.0 447.5,841.2 449.0,836.4 450.5,831.6 452.0,826.8 453.5,822.0 455.0,817.3 456.5,812.5 458.0,807.8 459.5,803.2 461.0,798.5 462.5,794.0 464.0,789.4 465.5,784.9 467.0,780.5 468.5,776.1 470.0,771.8 471.5,767.6 473.0,763.5 474.5,759.4 476.0,755.4 477.5,751.5 479.0,747.7 480.5,744.0 482.0,740.4 483.5,737.0 485.0,733.7 486.5,730.5 488.0,727.6 489.5,724.7 491.0,722.1 492.5,719.6 494.0,717.4 495.5,715.3 497.0,713.5 498.5,711.9 500.0,710.5 501.5,709.4 503.0,708.5 504.5,707.9 506.0,707.5 507.5,707.5 509.0,707.7 510.5,708.2 512.0,709.0 513.5,710.0 515.0,711.3 516.5,712.8 518.0,714.6 519.5,716.6 521.0,718.8 522.5,721.2 524.0,723.9 525.5,726.8 527.0,729.9 528.5,733.2 530.0,736.7 531.5,740.4 533.0,744.3 534.5,748.3 536.0,752.5 537.5,756.9 539.0,761.4 540.5,766.2 542.0,771.0 543.5,776.0 545.0,781.1 546.5,786.4 548.0,791.8 549.5,797.3 551.0,803.0 552.5,808.7 554.0,814.6 555.5,820.6 557.0,826.6 558.5,832.8 560.0,839.0 561.5,845.3 563.0,851.7 564.5,858.0 566.0,864.4 567.5,870.8 569.0,877.1 570.5,883.4 572.0,889.7 573.5,895.8 575.0,901.8 576.5,907.8 578.0,913.6 579.5,919.4 581.0,925.1 582.5,930.6 584.0,936.1 585.5,941.5 587.0,946.8 588.5,951.9 590.0,957.0 591.5,962.0 593.0,966.9 594.5,971.7 596.0,976.4 597.5,981.0 599.0,985.5 600.5,989.9 602.0,994.1 603.5,998.3 605.0,1002.4 606.5,1006.4 608.0,1010.3 609.5,1014.1 611.0,1017.7 612.5,1021.3 614.0,1024.8 615.5,1028.1 617.0,1031.4 618.5,1034.7 620.0,1038.4 621.5,1041.8 623.0,1045.0 624.5,1047.9 626.0,1050.5 627.5,1052.8 629.0,1054.8 630.5,1056.5 632.0,1058.1 633.5,1059.7 635.0,1061.1 636.5,1062.5 638.0,1063.8 639.5,1065.0 641.0,1066.2 642.5,1067.3 644.0,1068.3 645.5,1069.2 647.0,1070.1 648.5,1070.9 650.0,1071.7 651.5,1072.4 653.0,1073.1 654.5,1073.8 656.0,1074.4 657.5,1074.9 659.0,1075.4 660.5,1075.9 662.0,1076.3 663.5,1076.7 665.0,1077.1 666.5,1077.5 668.0,1077.8 669.5,1078.1 671.0,1078.4 672.5,1078.6 674.0,1078.9 675.5,1079.1 677.0,1079.3 678.5,1079.5 680.0,1079.7 681.5,1079.8 683.0,1080.0 684.5,1080.1 686.0,1080.2 687.5,1080.4 689.0,1080.5 690.5,1080.6 692.0,1080.7 693.5,1080.7 695.0,1080.7 696.5,1080.7 698.0,1080.8 699.5,1080.8 701.0,1080.9 702.5,1081.0 704.0,1081.1 705.5,1081.2 707.0,1081.3 708.5,1081.3 710.0,1081.4 711.5,1081.4 713.0,1081.4 714.5,1081.5 716.0,1081.5 717.5,1081.5 719.0,1081.5 720.5,1081.6 722.0,1081.6 723.5,1081.6 725.0,1081.6 726.5,1081.7 728.0,1081.7 729.5,1081.7 731.0,1081.7 732.5,1081.7 734.0,1081.7 735.5,1081.8 737.0,1081.8 738.5,1081.8 740.0,1081.8 741.5,1081.8 743.0,1081.8 744.5,1081.8 746.0,1081.9 747.5,1081.9 749.0,1081.9 750.5,1081.9 752.0,1081.9" fill="none" stroke="#f00" stroke-width="4.0" stroke-linejoin="round" stroke-linecap="round" clip-path="url(#cbO)"/>
<g clip-path="url(#cbO)">
<path d="M195.5,1082.5 197.0,1082.5 198.5,1082.5 200.0,1082.5 201.5,1082.5 203.0,1082.5 204.5,1082.5 206.0,1082.5 207.5,1082.5 209.0,1082.5 210.5,1082.5 212.0,1082.5 213.5,1082.5 215.0,1082.5 216.5,1082.4 218.0,1082.4 219.5,1082.4 221.0,1082.4 222.5,1082.4 224.0,1082.4 225.5,1082.4 227.0,1082.4 228.5,1082.4 230.0,1082.4 231.5,1082.4 233.0,1082.4 234.5,1082.4 236.0,1082.4 237.5,1082.4 239.0,1082.4 240.5,1082.4 242.0,1082.3 243.5,1082.3 245.0,1082.3 246.5,1082.3 248.0,1082.3 249.5,1082.3 251.0,1082.3 252.5,1082.3 254.0,1082.3 255.5,1082.3 257.0,1082.3 258.5,1082.3 260.0,1082.3 261.5,1082.2 263.0,1082.2 264.5,1082.2 266.0,1082.2 267.5,1082.2 269.0,1082.2 270.5,1082.2 272.0,1082.2 273.5,1082.2 275.0,1082.2 276.5,1082.2 278.0,1082.1 279.5,1082.1 281.0,1082.1 282.5,1082.1 284.0,1082.1 285.5,1082.1 287.0,1082.1 288.5,1082.1 290.0,1082.1 291.5,1082.0 293.0,1082.0 294.5,1082.0 296.0,1082.0 297.5,1082.0 299.0,1082.0 300.5,1082.0 302.0,1081.9 303.5,1081.9 305.0,1081.9 306.5,1081.9 308.0,1081.9 309.5,1081.8 311.0,1081.8 312.5,1081.8 314.0,1081.8 315.5,1081.8 317.0,1081.7 318.5,1081.7 320.0,1081.7 321.5,1081.6 323.0,1081.6 324.5,1081.6 326.0,1081.5 327.5,1081.5 329.0,1081.5 330.5,1081.4 332.0,1081.4 333.5,1081.3 335.0,1081.3 336.5,1081.2 338.0,1081.1 339.5,1081.1 341.0,1081.0 342.5,1080.9 344.0,1080.8 345.5,1080.7 347.0,1080.6 348.5,1080.5 350.0,1080.4 351.5,1080.2 353.0,1080.1 354.5,1079.9 356.0,1079.8 357.5,1079.6 359.0,1079.4 360.5,1079.2 362.0,1078.9 363.5,1078.7 365.0,1078.4 366.5,1078.1 368.0,1077.8 369.5,1077.5 371.0,1077.1 372.5,1076.7 374.0,1076.3 375.5,1075.8 377.0,1075.3 378.5,1074.8 380.0,1074.2 381.5,1073.6 383.0,1072.9 384.5,1072.2 386.0,1071.4 387.5,1070.6 389.0,1069.8 390.5,1068.8 392.0,1067.8 393.5,1066.8 395.0,1065.7 396.5,1064.5 398.0,1063.2 399.5,1061.9 401.0,1060.4 402.5,1058.9 404.0,1057.3 405.5,1055.6 407.0,1053.8 408.5,1051.9 410.0,1049.9 411.5,1047.8 413.0,1045.6 414.5,1043.3 416.0,1040.9 417.5,1038.3 419.0,1035.6 420.5,1032.8 422.0,1029.9 423.5,1026.9 425.0,1023.7 426.5,1020.4 428.0,1016.9 429.5,1013.3 431.0,1009.6 432.5,1005.7 434.0,1001.7 435.5,997.6 437.0,993.3 438.5,988.9 440.0,984.4 441.5,979.7 443.0,974.9 444.5,970.0 446.0,965.0 447.5,959.8 449.0,954.5 450.5,949.1 452.0,943.6 453.5,938.0 455.0,932.3 456.5,926.5 458.0,920.7 459.5,914.7 461.0,908.7 462.5,902.7 464.0,896.6 465.5,890.4 467.0,884.3 468.5,878.1 470.0,871.9 471.5,865.8 473.0,859.6 474.5,853.5 476.0,847.4 477.5,841.4 479.0,835.5 480.5,829.6 482.0,823.9 483.5,818.2 485.0,812.7 486.5,807.3 488.0,802.1 489.5,797.0 491.0,792.1 492.5,787.4 494.0,782.8 495.5,778.5 497.0,774.5 498.5,770.6 500.0,767.0 501.5,763.7 503.0,760.6 504.5,757.8 506.0,755.3 507.5,753.0 509.0,751.1 510.5,749.5 512.0,748.2 513.5,747.2 515.0,746.5 516.5,746.1 518.0,746.1 519.5,746.3 521.0,746.9 522.5,747.8 524.0,749.1 525.5,750.6 527.0,752.4 528.5,754.6 530.0,757.0 531.5,759.7 533.0,762.7 534.5,766.0 536.0,769.5 537.5,773.2 539.0,777.3 540.5,781.5 542.0,785.9 543.5,790.6 545.0,795.5 546.5,800.5 548.0,805.7 549.5,811.0 551.0,816.5 552.5,822.1 554.0,827.9 555.5,833.7 557.0,839.6 558.5,845.6 560.0,851.7 561.5,857.8 563.0,863.9 564.5,870.1 566.0,876.3 567.5,882.4 569.0,888.6 570.5,894.8 572.0,900.9 573.5,906.9 575.0,913.0 576.5,918.9 578.0,924.8 579.5,930.6 581.0,936.4 582.5,942.0 584.0,947.5 585.5,953.0 587.0,958.3 588.5,963.5 590.0,968.6 591.5,973.6 593.0,978.4 594.5,983.2 596.0,987.7 597.5,992.2 599.0,996.5 600.5,1000.7 602.0,1004.7 603.5,1008.6 605.0,1012.4 606.5,1016.1 608.0,1019.5 609.5,1022.9 611.0,1026.1 612.5,1029.2 614.0,1032.2 615.5,1035.1 617.0,1037.8 618.5,1040.4 620.0,1042.9 621.5,1045.2 623.0,1047.5 624.5,1049.6 626.0,1051.6 627.5,1053.6 629.0,1055.4 630.5,1057.1 632.0,1058.7 633.5,1060.3 635.0,1061.7 636.5,1063.1 638.0,1064.4 639.5,1065.6 641.0,1066.8 642.5,1067.9 644.0,1068.9 645.5,1069.8 647.0,1070.7 648.5,1071.5 650.0,1072.3 651.5,1073.0 653.0,1073.7 654.5,1074.4 656.0,1075.0 657.5,1075.5 659.0,1076.0 660.5,1076.5 662.0,1076.9 663.5,1077.3 665.0,1077.7 666.5,1078.1 668.0,1078.4 669.5,1078.7 671.0,1079.0 672.5,1079.2 674.0,1079.5 675.5,1079.7 677.0,1079.9 678.5,1080.1 680.0,1080.3 681.5,1080.4 683.0,1080.6 684.5,1080.7 686.0,1080.8 687.5,1081.0 689.0,1081.1 690.5,1081.2 692.0,1081.3 693.5,1081.3 695.0,1081.4 696.5,1081.5 698.0,1081.6 699.5,1081.6 701.0,1081.7 702.5,1081.7 704.0,1081.8 705.5,1081.8 707.0,1081.9 708.5,1081.9 710.0,1082.0 711.5,1082.0 713.0,1082.0 714.5,1082.1 716.0,1082.1 717.5,1082.1 719.0,1082.1 720.5,1082.2 722.0,1082.2 723.5,1082.2 725.0,1082.2 726.5,1082.3 728.0,1082.3 729.5,1082.3 731.0,1082.3 732.5,1082.3 734.0,1082.3 735.5,1082.4 737.0,1082.4 738.5,1082.4 740.0,1082.4 741.5,1082.4 743.0,1082.4 744.5,1082.4 746.0,1082.5 747.5,1082.5 749.0,1082.5 750.5,1082.5 752.0,1082.5 752.0,1083.9 750.5,1083.9 749.0,1083.9 747.5,1083.9 746.0,1083.9 744.5,1083.9 743.0,1083.9 741.5,1083.9 740.0,1083.9 738.5,1083.9 737.0,1083.9 735.5,1083.9 734.0,1083.9 732.5,1083.9 731.0,1083.9 729.5,1083.9 728.0,1083.9 726.5,1083.9 725.0,1083.9 723.5,1083.9 722.0,1083.9 720.5,1083.9 719.0,1083.9 717.5,1083.9 716.0,1083.9 714.5,1083.9 713.0,1083.9 711.5,1083.9 710.0,1083.9 708.5,1083.9 707.0,1083.9 705.5,1083.9 704.0,1083.9 702.5,1083.9 701.0,1083.9 699.5,1083.9 698.0,1083.9 696.5,1083.9 695.0,1083.9 693.5,1083.9 692.0,1083.9 690.5,1083.9 689.0,1083.9 687.5,1083.9 686.0,1083.9 684.5,1083.9 683.0,1083.9 681.5,1083.9 680.0,1083.9 678.5,1083.9 677.0,1083.9 675.5,1083.9 674.0,1083.9 672.5,1083.9 671.0,1083.9 669.5,1083.9 668.0,1083.9 666.5,1083.9 665.0,1083.9 663.5,1083.9 662.0,1083.9 660.5,1083.9 659.0,1083.9 657.5,1083.9 656.0,1083.9 654.5,1083.9 653.0,1083.9 651.5,1083.9 650.0,1083.9 648.5,1083.9 647.0,1083.9 645.5,1083.9 644.0,1083.9 642.5,1083.9 641.0,1083.9 639.5,1083.9 638.0,1083.9 636.5,1083.9 635.0,1083.9 633.5,1083.9 632.0,1083.9 630.5,1083.9 629.0,1083.9 627.5,1083.9 626.0,1083.9 624.5,1083.9 623.0,1083.9 621.5,1083.9 620.0,1083.9 618.5,1083.9 617.0,1083.9 615.5,1083.9 614.0,1083.9 612.5,1083.9 611.0,1083.9 609.5,1083.9 608.0,1083.9 606.5,1083.9 605.0,1083.9 603.5,1083.9 602.0,1083.9 600.5,1083.9 599.0,1083.9 597.5,1083.9 596.0,1083.9 594.5,1083.9 593.0,1083.9 591.5,1083.9 590.0,1083.9 588.5,1083.9 587.0,1083.9 585.5,1083.9 584.0,1083.9 582.5,1083.9 581.0,1083.9 579.5,1083.9 578.0,1083.9 576.5,1083.9 575.0,1083.9 573.5,1083.9 572.0,1083.9 570.5,1083.9 569.0,1083.9 567.5,1083.9 566.0,1083.9 564.5,1083.8 563.0,1083.8 561.5,1083.8 560.0,1083.8 558.5,1083.8 557.0,1083.8 555.5,1083.8 554.0,1083.8 552.5,1083.8 551.0,1083.8 549.5,1083.8 548.0,1083.8 546.5,1083.8 545.0,1083.8 543.5,1083.8 542.0,1083.8 540.5,1083.8 539.0,1083.8 537.5,1083.8 536.0,1083.8 534.5,1083.8 533.0,1083.8 531.5,1083.8 530.0,1083.8 528.5,1083.8 527.0,1083.8 525.5,1083.8 524.0,1083.8 522.5,1083.8 521.0,1083.8 519.5,1083.8 518.0,1083.8 516.5,1083.8 515.0,1083.7 513.5,1083.7 512.0,1083.7 510.5,1083.7 509.0,1083.7 507.5,1083.7 506.0,1083.7 504.5,1083.7 503.0,1083.7 501.5,1083.7 500.0,1083.7 498.5,1083.7 497.0,1083.7 495.5,1083.7 494.0,1083.7 492.5,1083.7 491.0,1083.7 489.5,1083.7 488.0,1083.7 486.5,1083.7 485.0,1083.7 483.5,1083.7 482.0,1083.7 480.5,1083.7 479.0,1083.7 477.5,1083.7 476.0,1083.7 474.5,1083.6 473.0,1083.6 471.5,1083.6 470.0,1083.6 468.5,1083.6 467.0,1083.6 465.5,1083.6 464.0,1083.6 462.5,1083.6 461.0,1083.6 459.5,1083.6 458.0,1083.6 456.5,1083.6 455.0,1083.6 453.5,1083.6 452.0,1083.6 450.5,1083.6 449.0,1083.6 447.5,1083.6 446.0,1083.6 444.5,1083.6 443.0,1083.6 441.5,1083.6 440.0,1083.6 438.5,1083.6 437.0,1083.6 435.5,1083.6 434.0,1083.6 432.5,1083.6 431.0,1083.6 429.5,1083.6 428.0,1083.6 426.5,1083.6 425.0,1083.6 423.5,1083.6 422.0,1083.6 420.5,1083.6 419.0,1083.6 417.5,1083.6 416.0,1083.6 414.5,1083.6 413.0,1083.5 411.5,1083.5 410.0,1083.5 408.5,1083.5 407.0,1083.5 405.5,1083.5 404.0,1083.5 402.5,1083.5 401.0,1083.5 399.5,1083.5 398.0,1083.5 396.5,1083.5 395.0,1083.5 393.5,1083.5 392.0,1083.5 390.5,1083.5 389.0,1083.5 387.5,1083.5 386.0,1083.5 384.5,1083.5 383.0,1083.5 381.5,1083.5 380.0,1083.5 378.5,1083.5 377.0,1083.5 375.5,1083.5 374.0,1083.5 372.5,1083.5 371.0,1083.5 369.5,1083.5 368.0,1083.5 366.5,1083.5 365.0,1083.5 363.5,1083.5 362.0,1083.5 360.5,1083.5 359.0,1083.5 357.5,1083.5 356.0,1083.5 354.5,1083.5 353.0,1083.5 351.5,1083.5 350.0,1083.5 348.5,1083.5 347.0,1083.5 345.5,1083.5 344.0,1083.5 342.5,1083.5 341.0,1083.5 339.5,1083.5 338.0,1083.5 336.5,1083.5 335.0,1083.5 333.5,1083.5 332.0,1083.5 330.5,1083.5 329.0,1083.5 327.5,1083.5 326.0,1083.5 324.5,1083.5 323.0,1083.5 321.5,1083.5 320.0,1083.5 318.5,1083.5 317.0,1083.5 315.5,1083.5 314.0,1083.5 312.5,1083.5 311.0,1083.5 309.5,1083.5 308.0,1083.5 306.5,1083.5 305.0,1083.5 303.5,1083.5 302.0,1083.5 300.5,1083.5 299.0,1083.5 297.5,1083.5 296.0,1083.5 294.5,1083.5 293.0,1083.5 291.5,1083.5 290.0,1083.5 288.5,1083.5 287.0,1083.5 285.5,1083.5 284.0,1083.5 282.5,1083.5 281.0,1083.5 279.5,1083.5 278.0,1083.5 276.5,1083.5 275.0,1083.5 273.5,1083.5 272.0,1083.5 270.5,1083.5 269.0,1083.5 267.5,1083.5 266.0,1083.5 264.5,1083.5 263.0,1083.5 261.5,1083.5 260.0,1083.5 258.5,1083.5 257.0,1083.5 255.5,1083.5 254.0,1083.5 252.5,1083.5 251.0,1083.5 249.5,1083.5 248.0,1083.5 246.5,1083.5 245.0,1083.5 243.5,1083.5 242.0,1083.5 240.5,1083.5 239.0,1083.5 237.5,1083.5 236.0,1083.5 234.5,1083.5 233.0,1083.5 231.5,1083.5 230.0,1083.5 228.5,1083.5 227.0,1083.5 225.5,1083.5 224.0,1083.5 222.5,1083.5 221.0,1083.5 219.5,1083.5 218.0,1083.5 216.5,1083.5 215.0,1083.5 213.5,1083.5 212.0,1083.5 210.5,1083.5 209.0,1083.5 207.5,1083.5 206.0,1083.5 204.5,1083.5 203.0,1083.5 201.5,1083.5 200.0,1083.5 198.5,1083.5 197.0,1083.5 195.5,1083.5Z" fill="#c0c0c0"/>
<path d="M195.5,1081.9 197.0,1081.9 198.5,1081.9 200.0,1081.9 201.5,1081.8 203.0,1081.8 204.5,1081.8 206.0,1081.8 207.5,1081.8 209.0,1081.8 210.5,1081.8 212.0,1081.7 213.5,1081.7 215.0,1081.7 216.5,1081.7 218.0,1081.7 219.5,1081.7 221.0,1081.6 222.5,1081.6 224.0,1081.6 225.5,1081.6 227.0,1081.6 228.5,1081.5 230.0,1081.5 231.5,1081.5 233.0,1081.5 234.5,1081.5 236.0,1081.4 237.5,1081.4 239.0,1081.4 240.5,1081.4 242.0,1081.3 243.5,1081.3 245.0,1081.3 246.5,1081.3 248.0,1081.2 249.5,1081.2 251.0,1081.2 252.5,1081.1 254.0,1081.1 255.5,1081.1 257.0,1081.0 258.5,1081.0 260.0,1080.9 261.5,1080.9 263.0,1080.9 264.5,1080.8 266.0,1080.8 267.5,1080.7 269.0,1080.7 270.5,1080.6 272.0,1080.5 273.5,1080.5 275.0,1080.4 276.5,1080.3 278.0,1080.2 279.5,1080.2 281.0,1080.1 282.5,1080.0 284.0,1079.9 285.5,1079.8 287.0,1079.7 288.5,1079.5 290.0,1079.4 291.5,1079.3 293.0,1079.1 294.5,1079.0 296.0,1078.8 297.5,1078.6 299.0,1078.5 300.5,1078.3 302.0,1078.0 303.5,1077.8 305.0,1077.6 306.5,1077.3 308.0,1077.0 309.5,1076.7 311.0,1076.4 312.5,1076.1 314.0,1075.8 315.5,1075.4 317.0,1075.0 318.5,1074.6 320.0,1074.1 321.5,1073.6 323.0,1073.1 324.5,1072.6 326.0,1072.0 327.5,1071.4 329.0,1070.8 330.5,1070.2 332.0,1069.5 333.5,1068.7 335.0,1067.9 336.5,1067.1 338.0,1066.3 339.5,1065.4 341.0,1064.4 342.5,1063.5 344.0,1062.4 345.5,1061.4 347.0,1060.2 348.5,1059.1 350.0,1057.9 351.5,1056.6 353.0,1055.3 354.5,1053.9 356.0,1052.5 357.5,1051.0 359.0,1049.5 360.5,1047.9 362.0,1046.3 363.5,1044.6 365.0,1042.9 366.5,1041.2 368.0,1039.3 369.5,1037.5 371.0,1035.6 372.5,1033.6 374.0,1031.6 375.5,1029.6 377.0,1027.5 378.5,1025.4 380.0,1023.3 381.5,1021.1 383.0,1018.9 384.5,1016.6 386.0,1014.4 387.5,1012.1 389.0,1009.8 390.5,1007.5 392.0,1005.2 393.5,1002.9 395.0,1000.6 396.5,998.3 398.0,996.0 399.5,993.7 401.0,991.4 402.5,989.2 404.0,987.0 405.5,984.8 407.0,982.7 408.5,980.6 410.0,978.5 411.5,976.6 413.0,974.6 414.5,972.8 416.0,971.0 417.5,969.3 419.0,967.7 420.5,966.2 422.0,964.8 423.5,963.5 425.0,962.2 426.5,961.1 428.0,960.2 429.5,959.3 431.0,958.5 432.5,957.9 434.0,957.4 435.5,957.0 437.0,956.8 438.5,956.7 440.0,956.7 441.5,956.9 443.0,957.2 444.5,957.6 446.0,958.1 447.5,958.8 449.0,959.6 450.5,960.5 452.0,961.5 453.5,962.7 455.0,963.9 456.5,965.3 458.0,966.8 459.5,968.3 461.0,969.9 462.5,971.7 464.0,973.5 465.5,975.4 467.0,977.3 468.5,979.3 470.0,981.4 471.5,983.5 473.0,985.6 474.5,987.8 476.0,990.0 477.5,992.3 479.0,994.6 480.5,996.9 482.0,999.2 483.5,1001.5 485.0,1003.8 486.5,1006.1 488.0,1008.4 489.5,1010.7 491.0,1013.0 492.5,1015.3 494.0,1017.5 495.5,1019.8 497.0,1022.0 498.5,1024.2 500.0,1026.3 501.5,1028.4 503.0,1030.5 504.5,1032.5 506.0,1034.5 507.5,1036.4 509.0,1038.3 510.5,1040.2 512.0,1042.0 513.5,1043.7 515.0,1045.4 516.5,1047.1 518.0,1048.7 519.5,1050.3 521.0,1051.8 522.5,1053.2 524.0,1054.6 525.5,1056.0 527.0,1057.3 528.5,1058.5 530.0,1059.7 531.5,1060.9 533.0,1062.0 534.5,1063.1 536.0,1064.1 537.5,1065.1 539.0,1066.0 540.5,1066.9 542.0,1067.7 543.5,1068.5 545.0,1069.3 546.5,1070.0 548.0,1070.7 549.5,1071.3 551.0,1072.0 552.5,1072.6 554.0,1073.1 555.5,1073.6 557.0,1074.1 558.5,1074.6 560.0,1075.0 561.5,1075.5 563.0,1075.8 564.5,1076.2 566.0,1076.6 567.5,1076.9 569.0,1077.2 570.5,1077.5 572.0,1077.8 573.5,1078.0 575.0,1078.3 576.5,1078.5 578.0,1078.7 579.5,1078.9 581.0,1079.1 582.5,1079.2 584.0,1079.4 585.5,1079.6 587.0,1079.7 588.5,1079.8 590.0,1080.0 591.5,1080.1 593.0,1080.2 594.5,1080.3 596.0,1080.4 597.5,1080.5 599.0,1080.6 600.5,1080.7 602.0,1080.7 603.5,1080.8 605.0,1080.9 606.5,1080.9 608.0,1081.0 609.5,1081.1 611.0,1081.1 612.5,1081.2 614.0,1081.2 615.5,1081.3 617.0,1081.3 618.5,1081.3 620.0,1081.4 621.5,1081.4 623.0,1081.5 624.5,1081.5 626.0,1081.5 627.5,1081.6 629.0,1081.6 630.5,1081.6 632.0,1081.7 633.5,1081.7 635.0,1081.7 636.5,1081.7 638.0,1081.8 639.5,1081.8 641.0,1081.8 642.5,1081.8 644.0,1081.9 645.5,1081.9 647.0,1081.9 648.5,1081.9 650.0,1081.9 651.5,1082.0 653.0,1082.0 654.5,1082.0 656.0,1082.0 657.5,1082.0 659.0,1082.1 660.5,1082.1 662.0,1082.1 663.5,1082.1 665.0,1082.1 666.5,1082.1 668.0,1082.2 669.5,1082.2 671.0,1082.2 672.5,1082.2 674.0,1082.2 675.5,1082.2 677.0,1082.2 678.5,1082.3 680.0,1082.3 681.5,1082.3 683.0,1082.3 684.5,1082.3 686.0,1082.3 687.5,1082.3 689.0,1082.3 690.5,1082.4 692.0,1082.4 693.5,1082.4 695.0,1082.4 696.5,1082.4 698.0,1082.4 699.5,1082.4 701.0,1082.4 702.5,1082.4 704.0,1082.5 705.5,1082.5 707.0,1082.5 708.5,1082.5 710.0,1082.5 711.5,1082.5 713.0,1082.5 714.5,1082.5 716.0,1082.5 717.5,1082.5 719.0,1082.6 720.5,1082.6 722.0,1082.6 723.5,1082.6 725.0,1082.6 726.5,1082.6 728.0,1082.6 729.5,1082.6 731.0,1082.6 732.5,1082.6 734.0,1082.6 735.5,1082.6 737.0,1082.7 738.5,1082.7 740.0,1082.7 741.5,1082.7 743.0,1082.7 744.5,1082.7 746.0,1082.7 747.5,1082.7 749.0,1082.7 750.5,1082.7 752.0,1082.7 752.0,1083.9 750.5,1083.9 749.0,1083.9 747.5,1083.9 746.0,1083.9 744.5,1083.9 743.0,1083.9 741.5,1083.9 740.0,1083.9 738.5,1083.9 737.0,1083.9 735.5,1083.9 734.0,1083.9 732.5,1083.9 731.0,1083.9 729.5,1083.9 728.0,1083.9 726.5,1083.9 725.0,1083.9 723.5,1083.9 722.0,1083.9 720.5,1083.9 719.0,1083.9 717.5,1083.9 716.0,1083.9 714.5,1083.9 713.0,1083.9 711.5,1083.9 710.0,1083.9 708.5,1083.9 707.0,1083.9 705.5,1083.9 704.0,1083.9 702.5,1083.9 701.0,1083.9 699.5,1083.9 698.0,1083.9 696.5,1083.9 695.0,1083.9 693.5,1083.9 692.0,1083.9 690.5,1083.9 689.0,1083.9 687.5,1083.9 686.0,1083.9 684.5,1083.9 683.0,1083.9 681.5,1083.9 680.0,1083.9 678.5,1083.9 677.0,1083.9 675.5,1083.9 674.0,1083.9 672.5,1083.9 671.0,1083.9 669.5,1083.9 668.0,1083.9 666.5,1083.9 665.0,1083.9 663.5,1083.9 662.0,1083.9 660.5,1083.9 659.0,1083.9 657.5,1083.9 656.0,1083.9 654.5,1083.9 653.0,1083.9 651.5,1083.9 650.0,1083.9 648.5,1083.9 647.0,1083.9 645.5,1083.9 644.0,1083.9 642.5,1083.9 641.0,1083.9 639.5,1083.9 638.0,1083.9 636.5,1083.9 635.0,1083.9 633.5,1083.9 632.0,1083.9 630.5,1083.9 629.0,1083.9 627.5,1083.9 626.0,1083.9 624.5,1083.9 623.0,1083.9 621.5,1083.9 620.0,1083.9 618.5,1083.9 617.0,1083.9 615.5,1083.9 614.0,1083.9 612.5,1083.9 611.0,1083.9 609.5,1083.9 608.0,1083.9 606.5,1083.9 605.0,1083.9 603.5,1083.9 602.0,1083.9 600.5,1083.9 599.0,1083.9 597.5,1083.9 596.0,1083.9 594.5,1083.9 593.0,1083.9 591.5,1083.9 590.0,1083.9 588.5,1083.9 587.0,1083.9 585.5,1083.9 584.0,1083.9 582.5,1083.9 581.0,1083.9 579.5,1083.9 578.0,1083.9 576.5,1083.9 575.0,1083.9 573.5,1083.9 572.0,1083.9 570.5,1083.9 569.0,1083.9 567.5,1083.9 566.0,1083.9 564.5,1083.8 563.0,1083.8 561.5,1083.8 560.0,1083.8 558.5,1083.8 557.0,1083.8 555.5,1083.8 554.0,1083.8 552.5,1083.8 551.0,1083.8 549.5,1083.8 548.0,1083.8 546.5,1083.8 545.0,1083.8 543.5,1083.8 542.0,1083.8 540.5,1083.8 539.0,1083.8 537.5,1083.8 536.0,1083.8 534.5,1083.8 533.0,1083.8 531.5,1083.8 530.0,1083.8 528.5,1083.8 527.0,1083.8 525.5,1083.8 524.0,1083.8 522.5,1083.8 521.0,1083.8 519.5,1083.8 518.0,1083.8 516.5,1083.8 515.0,1083.7 513.5,1083.7 512.0,1083.7 510.5,1083.7 509.0,1083.7 507.5,1083.7 506.0,1083.7 504.5,1083.7 503.0,1083.7 501.5,1083.7 500.0,1083.7 498.5,1083.7 497.0,1083.7 495.5,1083.7 494.0,1083.7 492.5,1083.7 491.0,1083.7 489.5,1083.7 488.0,1083.7 486.5,1083.7 485.0,1083.7 483.5,1083.7 482.0,1083.7 480.5,1083.7 479.0,1083.7 477.5,1083.7 476.0,1083.7 474.5,1083.6 473.0,1083.6 471.5,1083.6 470.0,1083.6 468.5,1083.6 467.0,1083.6 465.5,1083.6 464.0,1083.6 462.5,1083.6 461.0,1083.6 459.5,1083.6 458.0,1083.6 456.5,1083.6 455.0,1083.6 453.5,1083.6 452.0,1083.6 450.5,1083.6 449.0,1083.6 447.5,1083.6 446.0,1083.6 444.5,1083.6 443.0,1083.6 441.5,1083.6 440.0,1083.6 438.5,1083.6 437.0,1083.6 435.5,1083.6 434.0,1083.6 432.5,1083.6 431.0,1083.6 429.5,1083.6 428.0,1083.6 426.5,1083.6 425.0,1083.6 423.5,1083.6 422.0,1083.6 420.5,1083.6 419.0,1083.6 417.5,1083.6 416.0,1083.6 414.5,1083.6 413.0,1083.5 411.5,1083.5 410.0,1083.5 408.5,1083.5 407.0,1083.5 405.5,1083.5 404.0,1083.5 402.5,1083.5 401.0,1083.5 399.5,1083.5 398.0,1083.5 396.5,1083.5 395.0,1083.5 393.5,1083.5 392.0,1083.5 390.5,1083.5 389.0,1083.5 387.5,1083.5 386.0,1083.5 384.5,1083.5 383.0,1083.5 381.5,1083.5 380.0,1083.5 378.5,1083.5 377.0,1083.5 375.5,1083.5 374.0,1083.5 372.5,1083.5 371.0,1083.5 369.5,1083.5 368.0,1083.5 366.5,1083.5 365.0,1083.5 363.5,1083.5 362.0,1083.5 360.5,1083.5 359.0,1083.5 357.5,1083.5 356.0,1083.5 354.5,1083.5 353.0,1083.5 351.5,1083.5 350.0,1083.5 348.5,1083.5 347.0,1083.5 345.5,1083.5 344.0,1083.5 342.5,1083.5 341.0,1083.5 339.5,1083.5 338.0,1083.5 336.5,1083.5 335.0,1083.5 333.5,1083.5 332.0,1083.5 330.5,1083.5 329.0,1083.5 327.5,1083.5 326.0,1083.5 324.5,1083.5 323.0,1083.5 321.5,1083.5 320.0,1083.5 318.5,1083.5 317.0,1083.5 315.5,1083.5 314.0,1083.5 312.5,1083.5 311.0,1083.5 309.5,1083.5 308.0,1083.5 306.5,1083.5 305.0,1083.5 303.5,1083.5 302.0,1083.5 300.5,1083.5 299.0,1083.5 297.5,1083.5 296.0,1083.5 294.5,1083.5 293.0,1083.5 291.5,1083.5 290.0,1083.5 288.5,1083.5 287.0,1083.5 285.5,1083.5 284.0,1083.5 282.5,1083.5 281.0,1083.5 279.5,1083.5 278.0,1083.5 276.5,1083.5 275.0,1083.5 273.5,1083.5 272.0,1083.5 270.5,1083.5 269.0,1083.5 267.5,1083.5 266.0,1083.5 264.5,1083.5 263.0,1083.5 261.5,1083.5 260.0,1083.5 258.5,1083.5 257.0,1083.5 255.5,1083.5 254.0,1083.5 252.5,1083.5 251.0,1083.5 249.5,1083.5 248.0,1083.5 246.5,1083.5 245.0,1083.5 243.5,1083.5 242.0,1083.5 240.5,1083.5 239.0,1083.5 237.5,1083.5 236.0,1083.5 234.5,1083.5 233.0,1083.5 231.5,1083.5 230.0,1083.5 228.5,1083.5 227.0,1083.5 225.5,1083.5 224.0,1083.5 222.5,1083.5 221.0,1083.5 219.5,1083.5 218.0,1083.5 216.5,1083.5 215.0,1083.5 213.5,1083.5 212.0,1083.5 210.5,1083.5 209.0,1083.5 207.5,1083.5 206.0,1083.5 204.5,1083.5 203.0,1083.5 201.5,1083.5 200.0,1083.5 198.5,1083.5 197.0,1083.5 195.5,1083.5Z" fill="#808080"/>
<path d="M195.5,1082.7 197.0,1082.6 198.5,1082.6 200.0,1082.6 201.5,1082.6 203.0,1082.6 204.5,1082.5 206.0,1082.5 207.5,1082.5 209.0,1082.5 210.5,1082.4 212.0,1082.4 213.5,1082.4 215.0,1082.3 216.5,1082.3 218.0,1082.3 219.5,1082.2 221.0,1082.2 222.5,1082.1 224.0,1082.1 225.5,1082.1 227.0,1082.0 228.5,1082.0 230.0,1081.9 231.5,1081.8 233.0,1081.8 234.5,1081.7 236.0,1081.6 237.5,1081.6 239.0,1081.5 240.5,1081.4 242.0,1081.4 243.5,1081.3 245.0,1081.2 246.5,1081.1 248.0,1081.0 249.5,1080.9 251.0,1080.8 252.5,1080.7 254.0,1080.6 255.5,1080.5 257.0,1080.4 258.5,1080.3 260.0,1080.2 261.5,1080.0 263.0,1079.9 264.5,1079.8 266.0,1079.7 267.5,1079.5 269.0,1079.4 270.5,1079.2 272.0,1079.1 273.5,1079.0 275.0,1078.8 276.5,1078.6 278.0,1078.5 279.5,1078.3 281.0,1078.2 282.5,1078.0 284.0,1077.8 285.5,1077.7 287.0,1077.5 288.5,1077.3 290.0,1077.2 291.5,1077.0 293.0,1076.8 294.5,1076.6 296.0,1076.5 297.5,1076.3 299.0,1076.1 300.5,1075.9 302.0,1075.7 303.5,1075.6 305.0,1075.4 306.5,1075.2 308.0,1075.0 309.5,1074.9 311.0,1074.7 312.5,1074.5 314.0,1074.4 315.5,1074.2 317.0,1074.1 318.5,1073.9 320.0,1073.8 321.5,1073.6 323.0,1073.5 324.5,1073.3 326.0,1073.2 327.5,1073.1 329.0,1073.0 330.5,1072.8 332.0,1072.7 333.5,1072.6 335.0,1072.5 336.5,1072.5 338.0,1072.4 339.5,1072.3 341.0,1072.2 342.5,1072.2 344.0,1072.1 345.5,1072.1 347.0,1072.1 348.5,1072.0 350.0,1072.0 351.5,1072.0 353.0,1072.0 354.5,1072.0 356.0,1072.0 357.5,1072.1 359.0,1072.1 360.5,1072.2 362.0,1072.2 363.5,1072.3 365.0,1072.3 366.5,1072.4 368.0,1072.5 369.5,1072.6 371.0,1072.7 372.5,1072.8 374.0,1072.9 375.5,1073.0 377.0,1073.1 378.5,1073.3 380.0,1073.4 381.5,1073.5 383.0,1073.7 384.5,1073.8 386.0,1074.0 387.5,1074.1 389.0,1074.3 390.5,1074.5 392.0,1074.6 393.5,1074.8 395.0,1075.0 396.5,1075.1 398.0,1075.3 399.5,1075.5 401.0,1075.7 402.5,1075.8 404.0,1076.0 405.5,1076.2 407.0,1076.4 408.5,1076.6 410.0,1076.7 411.5,1076.9 413.0,1077.1 414.5,1077.3 416.0,1077.4 417.5,1077.6 419.0,1077.8 420.5,1078.0 422.0,1078.1 423.5,1078.3 425.0,1078.4 426.5,1078.6 428.0,1078.8 429.5,1078.9 431.0,1079.1 432.5,1079.2 434.0,1079.4 435.5,1079.5 437.0,1079.6 438.5,1079.8 440.0,1079.9 441.5,1080.0 443.0,1080.2 444.5,1080.3 446.0,1080.4 447.5,1080.5 449.0,1080.6 450.5,1080.8 452.0,1080.9 453.5,1081.0 455.0,1081.1 456.5,1081.2 458.0,1081.2 459.5,1081.3 461.0,1081.4 462.5,1081.5 464.0,1081.6 465.5,1081.7 467.0,1081.7 468.5,1081.8 470.0,1081.9 471.5,1081.9 473.0,1082.0 474.5,1082.1 476.0,1082.1 477.5,1082.2 479.0,1082.2 480.5,1082.3 482.0,1082.3 483.5,1082.4 485.0,1082.4 486.5,1082.5 488.0,1082.5 489.5,1082.5 491.0,1082.6 492.5,1082.6 494.0,1082.6 495.5,1082.7 497.0,1082.7 498.5,1082.7 500.0,1082.8 501.5,1082.8 503.0,1082.8 504.5,1082.8 506.0,1082.9 507.5,1082.9 509.0,1082.9 510.5,1082.9 512.0,1082.9 513.5,1083.0 515.0,1083.0 516.5,1083.0 518.0,1083.0 519.5,1083.0 521.0,1083.0 522.5,1083.0 524.0,1083.1 525.5,1083.1 527.0,1083.1 528.5,1083.1 530.0,1083.1 531.5,1083.1 533.0,1083.1 534.5,1083.1 536.0,1083.1 537.5,1083.1 539.0,1083.2 540.5,1083.2 542.0,1083.2 543.5,1083.2 545.0,1083.2 546.5,1083.2 548.0,1083.2 549.5,1083.2 551.0,1083.2 552.5,1083.2 554.0,1083.2 555.5,1083.2 557.0,1083.2 558.5,1083.2 560.0,1083.2 561.5,1083.2 563.0,1083.2 564.5,1083.2 566.0,1083.3 567.5,1083.3 569.0,1083.3 570.5,1083.3 572.0,1083.3 573.5,1083.3 575.0,1083.3 576.5,1083.3 578.0,1083.3 579.5,1083.3 581.0,1083.3 582.5,1083.3 584.0,1083.3 585.5,1083.3 587.0,1083.3 588.5,1083.3 590.0,1083.3 591.5,1083.3 593.0,1083.3 594.5,1083.3 596.0,1083.3 597.5,1083.3 599.0,1083.3 600.5,1083.3 602.0,1083.3 603.5,1083.3 605.0,1083.3 606.5,1083.3 608.0,1083.3 609.5,1083.3 611.0,1083.3 612.5,1083.3 614.0,1083.3 615.5,1083.3 617.0,1083.3 618.5,1083.3 620.0,1083.3 621.5,1083.3 623.0,1083.3 624.5,1083.3 626.0,1083.3 627.5,1083.3 629.0,1083.3 630.5,1083.3 632.0,1083.3 633.5,1083.3 635.0,1083.3 636.5,1083.3 638.0,1083.3 639.5,1083.3 641.0,1083.3 642.5,1083.3 644.0,1083.3 645.5,1083.3 647.0,1083.3 648.5,1083.3 650.0,1083.3 651.5,1083.3 653.0,1083.3 654.5,1083.3 656.0,1083.3 657.5,1083.4 659.0,1083.4 660.5,1083.4 662.0,1083.4 663.5,1083.4 665.0,1083.4 666.5,1083.4 668.0,1083.4 669.5,1083.4 671.0,1083.4 672.5,1083.4 674.0,1083.4 675.5,1083.4 677.0,1083.4 678.5,1083.4 680.0,1083.4 681.5,1083.4 683.0,1083.4 684.5,1083.4 686.0,1083.4 687.5,1083.4 689.0,1083.4 690.5,1083.4 692.0,1083.4 693.5,1083.4 695.0,1083.4 696.5,1083.4 698.0,1083.4 699.5,1083.4 701.0,1083.4 702.5,1083.4 704.0,1083.4 705.5,1083.4 707.0,1083.4 708.5,1083.4 710.0,1083.4 711.5,1083.4 713.0,1083.4 714.5,1083.4 716.0,1083.4 717.5,1083.4 719.0,1083.4 720.5,1083.4 722.0,1083.4 723.5,1083.4 725.0,1083.4 726.5,1083.4 728.0,1083.4 729.5,1083.4 731.0,1083.4 732.5,1083.4 734.0,1083.4 735.5,1083.4 737.0,1083.4 738.5,1083.4 740.0,1083.4 741.5,1083.4 743.0,1083.4 744.5,1083.4 746.0,1083.4 747.5,1083.4 749.0,1083.4 750.5,1083.4 752.0,1083.4 752.0,1083.9 750.5,1083.9 749.0,1083.9 747.5,1083.9 746.0,1083.9 744.5,1083.9 743.0,1083.9 741.5,1083.9 740.0,1083.9 738.5,1083.9 737.0,1083.9 735.5,1083.9 734.0,1083.9 732.5,1083.9 731.0,1083.9 729.5,1083.9 728.0,1083.9 726.5,1083.9 725.0,1083.9 723.5,1083.9 722.0,1083.9 720.5,1083.9 719.0,1083.9 717.5,1083.9 716.0,1083.9 714.5,1083.9 713.0,1083.9 711.5,1083.9 710.0,1083.9 708.5,1083.9 707.0,1083.9 705.5,1083.9 704.0,1083.9 702.5,1083.9 701.0,1083.9 699.5,1083.9 698.0,1083.9 696.5,1083.9 695.0,1083.9 693.5,1083.9 692.0,1083.9 690.5,1083.9 689.0,1083.9 687.5,1083.9 686.0,1083.9 684.5,1083.9 683.0,1083.9 681.5,1083.9 680.0,1083.9 678.5,1083.9 677.0,1083.9 675.5,1083.9 674.0,1083.9 672.5,1083.9 671.0,1083.9 669.5,1083.9 668.0,1083.9 666.5,1083.9 665.0,1083.9 663.5,1083.9 662.0,1083.9 660.5,1083.9 659.0,1083.9 657.5,1083.9 656.0,1083.9 654.5,1083.9 653.0,1083.9 651.5,1083.9 650.0,1083.9 648.5,1083.9 647.0,1083.9 645.5,1083.9 644.0,1083.9 642.5,1083.9 641.0,1083.9 639.5,1083.9 638.0,1083.9 636.5,1083.9 635.0,1083.9 633.5,1083.9 632.0,1083.9 630.5,1083.9 629.0,1083.9 627.5,1083.9 626.0,1083.9 624.5,1083.9 623.0,1083.9 621.5,1083.9 620.0,1083.9 618.5,1083.9 617.0,1083.9 615.5,1083.9 614.0,1083.9 612.5,1083.9 611.0,1083.9 609.5,1083.9 608.0,1083.9 606.5,1083.9 605.0,1083.9 603.5,1083.9 602.0,1083.9 600.5,1083.9 599.0,1083.9 597.5,1083.9 596.0,1083.9 594.5,1083.9 593.0,1083.9 591.5,1083.9 590.0,1083.9 588.5,1083.9 587.0,1083.9 585.5,1083.9 584.0,1083.9 582.5,1083.9 581.0,1083.9 579.5,1083.9 578.0,1083.9 576.5,1083.9 575.0,1083.9 573.5,1083.9 572.0,1083.9 570.5,1083.9 569.0,1083.9 567.5,1083.9 566.0,1083.9 564.5,1083.8 563.0,1083.8 561.5,1083.8 560.0,1083.8 558.5,1083.8 557.0,1083.8 555.5,1083.8 554.0,1083.8 552.5,1083.8 551.0,1083.8 549.5,1083.8 548.0,1083.8 546.5,1083.8 545.0,1083.8 543.5,1083.8 542.0,1083.8 540.5,1083.8 539.0,1083.8 537.5,1083.8 536.0,1083.8 534.5,1083.8 533.0,1083.8 531.5,1083.8 530.0,1083.8 528.5,1083.8 527.0,1083.8 525.5,1083.8 524.0,1083.8 522.5,1083.8 521.0,1083.8 519.5,1083.8 518.0,1083.8 516.5,1083.8 515.0,1083.7 513.5,1083.7 512.0,1083.7 510.5,1083.7 509.0,1083.7 507.5,1083.7 506.0,1083.7 504.5,1083.7 503.0,1083.7 501.5,1083.7 500.0,1083.7 498.5,1083.7 497.0,1083.7 495.5,1083.7 494.0,1083.7 492.5,1083.7 491.0,1083.7 489.5,1083.7 488.0,1083.7 486.5,1083.7 485.0,1083.7 483.5,1083.7 482.0,1083.7 480.5,1083.7 479.0,1083.7 477.5,1083.7 476.0,1083.7 474.5,1083.6 473.0,1083.6 471.5,1083.6 470.0,1083.6 468.5,1083.6 467.0,1083.6 465.5,1083.6 464.0,1083.6 462.5,1083.6 461.0,1083.6 459.5,1083.6 458.0,1083.6 456.5,1083.6 455.0,1083.6 453.5,1083.6 452.0,1083.6 450.5,1083.6 449.0,1083.6 447.5,1083.6 446.0,1083.6 444.5,1083.6 443.0,1083.6 441.5,1083.6 440.0,1083.6 438.5,1083.6 437.0,1083.6 435.5,1083.6 434.0,1083.6 432.5,1083.6 431.0,1083.6 429.5,1083.6 428.0,1083.6 426.5,1083.6 425.0,1083.6 423.5,1083.6 422.0,1083.6 420.5,1083.6 419.0,1083.6 417.5,1083.6 416.0,1083.6 414.5,1083.6 413.0,1083.5 411.5,1083.5 410.0,1083.5 408.5,1083.5 407.0,1083.5 405.5,1083.5 404.0,1083.5 402.5,1083.5 401.0,1083.5 399.5,1083.5 398.0,1083.5 396.5,1083.5 395.0,1083.5 393.5,1083.5 392.0,1083.5 390.5,1083.5 389.0,1083.5 387.5,1083.5 386.0,1083.5 384.5,1083.5 383.0,1083.5 381.5,1083.5 380.0,1083.5 378.5,1083.5 377.0,1083.5 375.5,1083.5 374.0,1083.5 372.5,1083.5 371.0,1083.5 369.5,1083.5 368.0,1083.5 366.5,1083.5 365.0,1083.5 363.5,1083.5 362.0,1083.5 360.5,1083.5 359.0,1083.5 357.5,1083.5 356.0,1083.5 354.5,1083.5 353.0,1083.5 351.5,1083.5 350.0,1083.5 348.5,1083.5 347.0,1083.5 345.5,1083.5 344.0,1083.5 342.5,1083.5 341.0,1083.5 339.5,1083.5 338.0,1083.5 336.5,1083.5 335.0,1083.5 333.5,1083.5 332.0,1083.5 330.5,1083.5 329.0,1083.5 327.5,1083.5 326.0,1083.5 324.5,1083.5 323.0,1083.5 321.5,1083.5 320.0,1083.5 318.5,1083.5 317.0,1083.5 315.5,1083.5 314.0,1083.5 312.5,1083.5 311.0,1083.5 309.5,1083.5 308.0,1083.5 306.5,1083.5 305.0,1083.5 303.5,1083.5 302.0,1083.5 300.5,1083.5 299.0,1083.5 297.5,1083.5 296.0,1083.5 294.5,1083.5 293.0,1083.5 291.5,1083.5 290.0,1083.5 288.5,1083.5 287.0,1083.5 285.5,1083.5 284.0,1083.5 282.5,1083.5 281.0,1083.5 279.5,1083.5 278.0,1083.5 276.5,1083.5 275.0,1083.5 273.5,1083.5 272.0,1083.5 270.5,1083.5 269.0,1083.5 267.5,1083.5 266.0,1083.5 264.5,1083.5 263.0,1083.5 261.5,1083.5 260.0,1083.5 258.5,1083.5 257.0,1083.5 255.5,1083.5 254.0,1083.5 252.5,1083.5 251.0,1083.5 249.5,1083.5 248.0,1083.5 246.5,1083.5 245.0,1083.5 243.5,1083.5 242.0,1083.5 240.5,1083.5 239.0,1083.5 237.5,1083.5 236.0,1083.5 234.5,1083.5 233.0,1083.5 231.5,1083.5 230.0,1083.5 228.5,1083.5 227.0,1083.5 225.5,1083.5 224.0,1083.5 222.5,1083.5 221.0,1083.5 219.5,1083.5 218.0,1083.5 216.5,1083.5 215.0,1083.5 213.5,1083.5 212.0,1083.5 210.5,1083.5 209.0,1083.5 207.5,1083.5 206.0,1083.5 204.5,1083.5 203.0,1083.5 201.5,1083.5 200.0,1083.5 198.5,1083.5 197.0,1083.5 195.5,1083.5Z" fill="#404040"/>
</g>
<clipPath id="cbS"><rect x="899.60" y="637.10" width="551.40" height="449.90"/></clipPath>
<clipPath id="cbSo"><rect x="897.60" y="635.10" width="555.40" height="453.90"/></clipPath>
<g class="sq" clip-path="url(#cbSo)">
<path d="M890.6,1079.0h12.0v12.0h-12.0z"/>
<path d="M899.3,1079.0h12.0v12.0h-12.0z"/>
<path d="M908.0,1079.0h12.0v12.0h-12.0z"/>
<path d="M916.6,1079.0h12.0v12.0h-12.0z"/>
<path d="M925.3,1079.0h12.0v12.0h-12.0z"/>
<path d="M934.0,1079.0h12.0v12.0h-12.0z"/>
<path d="M942.7,1079.0h12.0v12.0h-12.0z"/>
<path d="M951.4,1079.0h12.0v12.0h-12.0z"/>
<path d="M960.0,1079.0h12.0v12.0h-12.0z"/>
<path d="M968.7,1079.0h12.0v12.0h-12.0z"/>
<path d="M977.4,1079.0h12.0v12.0h-12.0z"/>
<path d="M986.1,1079.0h12.0v12.0h-12.0z"/>
<path d="M994.8,1079.0h12.0v12.0h-12.0z"/>
<path d="M1003.4,1079.0h12.0v12.0h-12.0z"/>
<path d="M1012.1,1079.0h12.0v12.0h-12.0z"/>
<path d="M1020.8,1079.0h12.0v12.0h-12.0z"/>
<path d="M1029.5,1079.0h12.0v12.0h-12.0z"/>
</g>
<g class="sq" clip-path="url(#cbSo)">
<path d="M980.8,1077.0h12.0v12.0h-12.0z"/>
<path d="M989.0,1076.3h12.0v12.0h-12.0z"/>
<path d="M997.0,1075.5h12.0v12.0h-12.0z"/>
<path d="M1006.0,1073.8h12.0v12.0h-12.0z"/>
<path d="M1015.5,1072.6h12.0v12.0h-12.0z"/>
<path d="M1024.0,1071.4h12.0v12.0h-12.0z"/>
<path d="M1032.5,1069.0h12.0v12.0h-12.0z"/>
<path d="M1041.0,1066.1h12.0v12.0h-12.0z"/>
<path d="M1049.6,1062.9h12.0v12.0h-12.0z"/>
<path d="M1057.8,1056.8h12.0v12.0h-12.0z"/>
<path d="M1064.0,1051.5h12.0v12.0h-12.0z"/>
<path d="M1070.1,1046.0h12.0v12.0h-12.0z"/>
<path d="M1078.3,1035.1h12.0v12.0h-12.0z"/>
<path d="M1087.1,1018.2h12.0v12.0h-12.0z"/>
<path d="M1095.2,999.9h12.0v12.0h-12.0z"/>
<path d="M1103.3,974.9h12.0v12.0h-12.0z"/>
<path d="M1111.4,941.7h12.0v12.0h-12.0z"/>
<path d="M1119.6,906.5h12.0v12.0h-12.0z"/>
<path d="M1129.5,870.0h12.0v12.0h-12.0z"/>
<path d="M1138.6,824.0h12.0v12.0h-12.0z"/>
<path d="M1146.9,795.4h12.0v12.0h-12.0z"/>
<path d="M1156.7,751.5h12.0v12.0h-12.0z"/>
<path d="M1165.0,739.7h12.0v12.0h-12.0z"/>
<path d="M1174.1,712.6h12.0v12.0h-12.0z"/>
<path d="M1182.0,703.0h12.0v12.0h-12.0z"/>
<path d="M1191.5,704.9h12.0v12.0h-12.0z"/>
<path d="M1200.5,711.9h12.0v12.0h-12.0z"/>
<path d="M1208.9,734.8h12.0v12.0h-12.0z"/>
<path d="M1217.3,759.2h12.0v12.0h-12.0z"/>
<path d="M1226.3,789.2h12.0v12.0h-12.0z"/>
<path d="M1234.0,834.4h12.0v12.0h-12.0z"/>
<path d="M1243.7,866.4h12.0v12.0h-12.0z"/>
<path d="M1252.1,905.5h12.0v12.0h-12.0z"/>
<path d="M1259.8,941.8h12.0v12.0h-12.0z"/>
<path d="M1269.2,972.2h12.0v12.0h-12.0z"/>
<path d="M1278.7,996.8h12.0v12.0h-12.0z"/>
<path d="M1288.2,1015.5h12.0v12.0h-12.0z"/>
<path d="M1298.3,1035.2h12.0v12.0h-12.0z"/>
<path d="M1307.0,1045.4h12.0v12.0h-12.0z"/>
<path d="M1315.7,1055.2h12.0v12.0h-12.0z"/>
<path d="M1324.3,1060.6h12.0v12.0h-12.0z"/>
<path d="M1333.0,1066.6h12.0v12.0h-12.0z"/>
<path d="M1341.7,1070.4h12.0v12.0h-12.0z"/>
<path d="M1350.3,1073.6h12.0v12.0h-12.0z"/>
<path d="M1359.0,1075.2h12.0v12.0h-12.0z"/>
<path d="M1367.7,1076.3h12.0v12.0h-12.0z"/>
<path d="M1376.4,1077.3h12.0v12.0h-12.0z"/>
<path d="M1385.1,1077.6h12.0v12.0h-12.0z"/>
<path d="M1393.7,1078.0h12.0v12.0h-12.0z"/>
<path d="M1402.4,1078.2h12.0v12.0h-12.0z"/>
<path d="M1411.0,1078.3h12.0v12.0h-12.0z"/>
<path d="M1419.7,1078.5h12.0v12.0h-12.0z"/>
<path d="M1428.3,1078.7h12.0v12.0h-12.0z"/>
<path d="M1437.0,1078.9h12.0v12.0h-12.0z"/>
<path d="M1445.6,1079.0h12.0v12.0h-12.0z"/>
<path d="M1454.2,1079.2h12.0v12.0h-12.0z"/>
</g>
<path d="M898.6,1080.2 900.1,1080.2 901.6,1080.2 903.1,1080.2 904.6,1080.2 906.1,1080.2 907.6,1080.2 909.1,1080.2 910.6,1080.2 912.1,1080.2 913.6,1080.2 915.1,1080.2 916.6,1080.2 918.1,1080.2 919.6,1080.2 921.1,1080.2 922.6,1080.2 924.1,1080.2 925.6,1080.2 927.1,1080.2 928.6,1080.2 930.1,1080.2 931.6,1080.2 933.1,1080.2 934.6,1080.2 936.1,1080.2 937.6,1080.2 939.1,1080.2 940.6,1080.2 942.1,1080.2 943.6,1080.2 945.1,1080.2 946.6,1080.2 948.1,1080.2 949.6,1080.2 951.1,1080.2 952.6,1080.2 954.1,1080.2 955.6,1080.2 957.1,1080.2 958.6,1080.2 960.1,1080.2 961.6,1080.2 963.1,1080.2 964.6,1080.2 966.1,1080.2 967.6,1080.2 969.1,1080.2 970.6,1080.2 972.1,1080.2 973.6,1080.2 975.1,1080.2 976.6,1080.2 978.1,1080.2 979.6,1080.2 981.1,1080.2 982.6,1080.2 984.1,1080.2 985.6,1080.2 987.1,1080.2 988.6,1080.2 990.1,1080.2 991.6,1080.2 993.1,1080.2 994.6,1080.2 996.1,1080.2 997.6,1080.2 999.1,1080.2 1000.6,1080.2 1002.1,1080.2 1003.6,1080.2 1005.1,1080.2 1006.6,1080.2 1008.1,1080.2 1009.6,1080.2 1011.1,1080.2 1012.6,1080.2 1014.1,1080.2 1015.6,1080.2 1017.1,1080.2 1018.6,1080.2 1020.1,1080.2 1021.6,1080.2 1023.1,1080.2 1024.6,1080.2 1026.1,1080.2 1027.6,1080.2 1029.1,1080.2 1030.6,1080.2 1032.1,1080.2 1033.6,1080.2 1035.1,1080.2 1036.6,1080.2 1038.1,1080.2 1039.6,1080.2 1041.1,1080.2 1042.6,1080.2 1044.1,1080.2 1045.6,1080.2 1047.1,1080.2 1048.6,1080.2 1050.1,1080.2 1051.6,1080.2 1053.1,1080.2 1054.6,1080.2 1056.1,1080.2 1057.6,1080.2 1059.1,1080.2 1060.6,1080.2 1062.1,1080.2 1063.6,1080.2 1065.1,1080.2 1066.6,1080.2 1068.1,1080.2 1069.6,1080.2 1071.1,1080.2 1072.6,1080.2 1074.1,1080.2 1075.6,1080.2 1077.1,1080.2 1078.6,1080.2 1080.1,1080.2 1081.6,1080.2 1083.1,1080.2 1084.6,1080.2 1086.1,1080.2 1087.6,1080.3 1089.1,1080.3 1090.6,1080.3 1092.1,1080.3 1093.6,1080.3 1095.1,1080.3 1096.6,1080.3 1098.1,1080.3 1099.6,1080.3 1101.1,1080.3 1102.6,1080.3 1104.1,1080.3 1105.6,1080.3 1107.1,1080.3 1108.6,1080.4 1110.1,1080.4 1111.6,1080.4 1113.1,1080.4 1114.6,1080.4 1116.1,1080.4 1117.6,1080.4 1119.1,1080.4 1120.6,1080.5 1122.1,1080.5 1123.6,1080.5 1125.1,1080.5 1126.6,1080.5 1128.1,1080.5 1129.6,1080.6 1131.1,1080.6 1132.6,1080.6 1134.1,1080.6 1135.6,1080.7 1137.1,1080.7 1138.6,1080.7 1140.1,1080.7 1141.6,1080.8 1143.1,1080.8 1144.6,1080.8 1146.1,1080.8 1147.6,1080.9 1149.1,1080.9 1150.6,1080.9 1152.1,1081.0 1153.6,1081.0 1155.1,1081.0 1156.6,1081.1 1158.1,1081.1 1159.6,1081.1 1161.1,1081.2 1162.6,1081.2 1164.1,1081.3 1165.6,1081.3 1167.1,1081.3 1168.6,1081.4 1170.1,1081.4 1171.6,1081.5 1173.1,1081.5 1174.6,1081.5 1176.1,1081.6 1177.6,1081.6 1179.1,1081.7 1180.6,1081.7 1182.1,1081.8 1183.6,1081.8 1185.1,1081.8 1186.6,1081.9 1188.1,1081.9 1189.6,1082.0 1191.1,1082.0 1192.6,1082.1 1194.1,1082.1 1195.6,1082.2 1197.1,1082.2 1198.6,1082.2 1200.1,1082.3 1201.6,1082.3 1203.1,1082.4 1204.6,1082.4 1206.1,1082.5 1207.6,1082.5 1209.1,1082.6 1210.6,1082.6 1212.1,1082.6 1213.6,1082.7 1215.1,1082.7 1216.6,1082.8 1218.1,1082.8 1219.6,1082.8 1221.1,1082.9 1222.6,1082.9 1224.1,1082.9 1225.6,1083.0 1227.1,1083.0 1228.6,1083.1 1230.1,1083.1 1231.6,1083.1 1233.1,1083.2 1234.6,1083.2 1236.1,1083.2 1237.6,1083.3 1239.1,1083.3 1240.6,1083.3 1242.1,1083.4 1243.6,1083.4 1245.1,1083.4 1246.6,1083.4 1248.1,1083.5 1249.6,1083.5 1251.1,1083.5 1252.6,1083.5 1254.1,1083.6 1255.6,1083.6 1257.1,1083.6 1258.6,1083.6 1260.1,1083.6 1261.6,1083.7 1263.1,1083.7 1264.6,1083.7 1266.1,1083.7 1267.6,1083.7 1269.1,1083.8 1270.6,1083.8 1272.1,1083.8 1273.6,1083.8 1275.1,1083.8 1276.6,1083.8 1278.1,1083.8 1279.6,1083.8 1281.1,1083.9 1282.6,1083.9 1284.1,1083.9 1285.6,1083.9 1287.1,1083.9 1288.6,1083.9 1290.1,1083.9 1291.6,1083.9 1293.1,1083.9 1294.6,1083.9 1296.1,1083.9 1297.6,1083.9 1299.1,1083.9 1300.6,1083.9 1302.1,1084.0 1303.6,1084.0 1305.1,1084.0 1306.6,1084.0 1308.1,1084.0 1309.6,1084.0 1311.1,1084.0 1312.6,1084.0 1314.1,1084.0 1315.6,1084.0 1317.1,1084.0 1318.6,1084.0 1320.1,1084.0 1321.6,1084.0 1323.1,1084.0 1324.6,1084.0 1326.1,1084.0 1327.6,1084.0 1329.1,1084.0 1330.6,1084.0 1332.1,1084.0 1333.6,1084.0 1335.1,1084.0 1336.6,1084.0 1338.1,1084.0 1339.6,1084.0 1341.1,1084.0 1342.6,1084.0 1344.1,1084.0 1345.6,1084.0 1347.1,1084.0 1348.6,1084.0 1350.1,1084.0 1351.6,1084.0 1353.1,1084.0 1354.6,1084.0 1356.1,1084.0 1357.6,1084.0 1359.1,1084.0 1360.6,1084.0 1362.1,1084.0 1363.6,1084.0 1365.1,1084.0 1366.6,1084.0 1368.1,1084.0 1369.6,1084.0 1371.1,1084.0 1372.6,1084.0 1374.1,1084.0 1375.6,1084.0 1377.1,1084.0 1378.6,1084.0 1380.1,1084.0 1381.6,1084.0 1383.1,1084.0 1384.6,1084.0 1386.1,1084.0 1387.6,1084.0 1389.1,1084.0 1390.6,1084.0 1392.1,1084.0 1393.6,1084.0 1395.1,1084.0 1396.6,1084.0 1398.1,1084.0 1399.6,1084.0 1401.1,1084.0 1402.6,1084.0 1404.1,1084.0 1405.6,1084.0 1407.1,1084.0 1408.6,1084.0 1410.1,1084.0 1411.6,1084.0 1413.1,1084.0 1414.6,1084.0 1416.1,1084.0 1417.6,1084.0 1419.1,1084.0 1420.6,1084.0 1422.1,1084.0 1423.6,1084.0 1425.1,1084.0 1426.6,1084.0 1428.1,1084.0 1429.6,1084.0 1431.1,1084.0 1432.6,1084.0 1434.1,1084.0 1435.6,1084.0 1437.1,1084.0 1438.6,1084.0 1440.1,1084.0 1441.6,1084.0 1443.1,1084.0 1444.6,1084.0 1446.1,1084.0 1447.6,1084.0 1449.1,1084.0 1450.6,1084.0 1452.0,1084.0" fill="none" stroke="#f00" stroke-width="2.2" stroke-linejoin="round" stroke-linecap="round" clip-path="url(#cbS)"/>
<path d="M898.6,1077.1 900.1,1077.1 901.6,1077.0 903.1,1077.0 904.6,1076.9 906.1,1076.8 907.6,1076.7 909.1,1076.6 910.6,1076.5 912.1,1076.4 913.6,1076.4 915.1,1076.3 916.6,1076.2 918.1,1076.2 919.6,1076.1 921.1,1076.0 922.6,1076.0 924.1,1076.0 925.6,1075.9 927.1,1075.9 928.6,1075.9 930.1,1075.9 931.6,1075.9 933.1,1075.9 934.6,1075.9 936.1,1075.9 937.6,1076.0 939.1,1076.0 940.6,1076.0 942.1,1076.0 943.6,1076.1 945.1,1076.1 946.6,1076.2 948.1,1076.2 949.6,1076.3 951.1,1076.3 952.6,1076.4 954.1,1076.4 955.6,1076.5 957.1,1076.5 958.6,1076.6 960.1,1076.6 961.6,1076.7 963.1,1076.7 964.6,1076.8 966.1,1076.8 967.6,1076.8 969.1,1076.9 970.6,1076.9 972.1,1076.9 973.6,1077.0 975.1,1077.0 976.6,1077.0 978.1,1077.0 979.6,1077.0 981.1,1077.1 982.6,1077.1 984.1,1077.1 985.6,1077.1 987.1,1077.1 988.6,1077.1 990.1,1077.1 991.6,1077.1 993.1,1077.1 994.6,1077.1 996.1,1077.1 997.6,1077.1 999.1,1077.1 1000.6,1077.1 1002.1,1077.1 1003.6,1077.1 1005.1,1077.0 1006.6,1077.0 1008.1,1077.0 1009.6,1077.0 1011.1,1076.9 1012.6,1076.9 1014.1,1076.8 1015.6,1076.8 1017.1,1076.7 1018.6,1076.6 1020.1,1076.6 1021.6,1076.5 1023.1,1076.4 1024.6,1076.3 1026.1,1076.2 1027.6,1076.0 1029.1,1075.9 1030.6,1075.7 1032.1,1075.6 1033.6,1075.4 1035.1,1075.2 1036.6,1075.0 1038.1,1074.8 1039.6,1074.6 1041.1,1074.4 1042.6,1074.1 1044.1,1073.9 1045.6,1073.6 1047.1,1073.4 1048.6,1073.1 1050.1,1072.8 1051.6,1072.5 1053.1,1072.2 1054.6,1071.8 1056.1,1071.4 1057.6,1070.9 1059.1,1070.2 1060.6,1069.5 1062.1,1068.8 1063.6,1068.0 1065.1,1067.1 1066.6,1066.1 1068.1,1065.1 1069.6,1063.9 1071.1,1062.7 1072.6,1061.4 1074.1,1060.0 1075.6,1058.5 1077.1,1056.9 1078.6,1055.2 1080.1,1053.4 1081.6,1051.4 1083.1,1049.3 1084.6,1047.1 1086.1,1044.8 1087.6,1042.3 1089.1,1039.7 1090.6,1036.9 1092.1,1034.0 1093.6,1030.9 1095.1,1027.7 1096.6,1024.3 1098.1,1020.7 1099.6,1017.0 1101.1,1013.1 1102.6,1009.0 1104.1,1004.8 1105.6,1000.4 1107.1,995.9 1108.6,991.1 1110.1,986.3 1111.6,981.2 1113.1,976.0 1114.6,970.7 1116.1,965.2 1117.6,959.5 1119.1,953.7 1120.6,947.9 1122.1,941.9 1123.6,935.7 1125.1,929.5 1126.6,923.3 1128.1,916.9 1129.6,910.5 1131.1,904.0 1132.6,897.6 1134.1,891.1 1135.6,884.6 1137.1,878.1 1138.6,871.7 1140.1,865.3 1141.6,859.0 1143.1,852.8 1144.6,846.7 1146.1,840.7 1147.6,834.5 1149.1,825.6 1150.6,817.5 1152.1,809.4 1153.6,801.6 1155.1,794.0 1156.6,786.7 1158.1,779.8 1159.6,773.3 1161.1,767.1 1162.6,761.3 1164.1,755.8 1165.6,750.7 1167.1,745.9 1168.6,741.5 1170.1,737.4 1171.6,733.7 1173.1,730.3 1174.6,727.2 1176.1,724.5 1177.6,722.1 1179.1,720.0 1180.6,718.2 1182.1,716.8 1183.6,715.7 1185.1,714.9 1186.6,714.4 1188.1,714.2 1189.6,714.3 1191.1,714.8 1192.6,715.5 1194.1,716.6 1195.6,717.9 1197.1,719.5 1198.6,721.5 1200.1,723.7 1201.6,726.1 1203.1,728.9 1204.6,731.8 1206.1,735.0 1207.6,738.4 1209.1,742.0 1210.6,745.8 1212.1,749.8 1213.6,753.9 1215.1,758.1 1216.6,762.5 1218.1,767.0 1219.6,771.6 1221.1,776.3 1222.6,781.0 1224.1,785.8 1225.6,790.7 1227.1,795.6 1228.6,800.7 1230.1,805.7 1231.6,810.9 1233.1,816.1 1234.6,821.4 1236.1,826.8 1237.6,832.3 1239.1,837.8 1240.6,843.5 1242.1,849.2 1243.6,855.0 1245.1,860.9 1246.6,866.8 1248.1,872.8 1249.6,878.8 1251.1,884.8 1252.6,890.9 1254.1,896.9 1255.6,902.9 1257.1,909.0 1258.6,915.0 1260.1,920.9 1261.6,926.9 1263.1,932.7 1264.6,938.5 1266.1,944.3 1267.6,949.9 1269.1,955.5 1270.6,960.9 1272.1,966.2 1273.6,971.5 1275.1,976.5 1276.6,981.5 1278.1,986.3 1279.6,990.9 1281.1,995.4 1282.6,999.6 1284.1,1003.8 1285.6,1007.7 1287.1,1011.5 1288.6,1015.1 1290.1,1018.6 1291.6,1022.0 1293.1,1025.2 1294.6,1028.2 1296.1,1031.1 1297.6,1033.9 1299.1,1036.6 1300.6,1039.1 1302.1,1041.5 1303.6,1043.8 1305.1,1046.0 1306.6,1048.1 1308.1,1050.1 1309.6,1051.9 1311.1,1053.7 1312.6,1055.4 1314.1,1057.0 1315.6,1058.5 1317.1,1059.9 1318.6,1061.3 1320.1,1062.5 1321.6,1063.7 1323.1,1064.9 1324.6,1066.0 1326.1,1067.0 1327.6,1068.0 1329.1,1068.9 1330.6,1069.7 1332.1,1070.6 1333.6,1071.4 1335.1,1072.1 1336.6,1072.8 1338.1,1073.5 1339.6,1074.2 1341.1,1074.8 1342.6,1075.4 1344.1,1075.9 1345.6,1076.6 1347.1,1077.3 1348.6,1077.9 1350.1,1078.5 1351.6,1078.9 1353.1,1079.3 1354.6,1079.6 1356.1,1079.9 1357.6,1080.1 1359.1,1080.2 1360.6,1080.3 1362.1,1080.4 1363.6,1080.5 1365.1,1080.5 1366.6,1080.6 1368.1,1080.7 1369.6,1080.7 1371.1,1080.7 1372.6,1080.8 1374.1,1080.8 1375.6,1080.8 1377.1,1080.9 1378.6,1080.9 1380.1,1080.9 1381.6,1080.9 1383.1,1080.9 1384.6,1080.9 1386.1,1080.9 1387.6,1080.9 1389.1,1081.0 1390.6,1081.0 1392.1,1081.0 1393.6,1081.0 1395.1,1081.0 1396.6,1081.0 1398.1,1081.0 1399.6,1081.0 1401.1,1081.0 1402.6,1081.0 1404.1,1081.0 1405.6,1081.0 1407.1,1080.9 1408.6,1080.9 1410.1,1080.8 1411.6,1080.8 1413.1,1080.7 1414.6,1080.7 1416.1,1080.6 1417.6,1080.5 1419.1,1080.4 1420.6,1080.4 1422.1,1080.3 1423.6,1080.2 1425.1,1080.2 1426.6,1080.1 1428.1,1080.1 1429.6,1080.1 1431.1,1080.1 1432.6,1080.1 1434.1,1080.1 1435.6,1080.1 1437.1,1080.2 1438.6,1080.3 1440.1,1080.4 1441.6,1080.5 1443.1,1080.6 1444.6,1080.7 1446.1,1080.8 1447.6,1080.9 1449.1,1081.0 1450.6,1081.0 1452.0,1081.0" fill="none" stroke="#f00" stroke-width="4.0" stroke-linejoin="round" stroke-linecap="round" clip-path="url(#cbS)"/>
<g clip-path="url(#cbS)">
<path d="M898.6,1077.8 900.1,1077.8 901.6,1077.8 903.1,1077.8 904.6,1077.8 906.1,1077.8 907.6,1077.8 909.1,1077.8 910.6,1077.8 912.1,1077.8 913.6,1077.8 915.1,1077.8 916.6,1077.8 918.1,1077.8 919.6,1077.8 921.1,1077.8 922.6,1077.8 924.1,1077.8 925.6,1077.8 927.1,1077.8 928.6,1077.8 930.1,1077.8 931.6,1077.8 933.1,1077.8 934.6,1077.8 936.1,1077.8 937.6,1077.8 939.1,1077.8 940.6,1077.8 942.1,1077.8 943.6,1077.8 945.1,1077.8 946.6,1077.8 948.1,1077.8 949.6,1077.8 951.1,1077.8 952.6,1077.8 954.1,1077.8 955.6,1077.8 957.1,1077.8 958.6,1077.8 960.1,1077.8 961.6,1077.8 963.1,1077.8 964.6,1077.8 966.1,1077.8 967.6,1077.8 969.1,1077.8 970.6,1077.8 972.1,1077.8 973.6,1077.8 975.1,1077.8 976.6,1077.8 978.1,1077.8 979.6,1077.8 981.1,1077.8 982.6,1077.8 984.1,1077.8 985.6,1077.8 987.1,1077.8 988.6,1077.8 990.1,1077.8 991.6,1077.8 993.1,1077.8 994.6,1077.8 996.1,1077.8 997.6,1077.8 999.1,1077.7 1000.6,1077.7 1002.1,1077.7 1003.6,1077.7 1005.1,1077.7 1006.6,1077.7 1008.1,1077.7 1009.6,1077.7 1011.1,1077.6 1012.6,1077.6 1014.1,1077.6 1015.6,1077.5 1017.1,1077.5 1018.6,1077.5 1020.1,1077.4 1021.6,1077.4 1023.1,1077.3 1024.6,1077.3 1026.1,1077.2 1027.6,1077.1 1029.1,1077.0 1030.6,1076.9 1032.1,1076.8 1033.6,1076.7 1035.1,1076.5 1036.6,1076.4 1038.1,1076.2 1039.6,1076.0 1041.1,1075.8 1042.6,1075.6 1044.1,1075.3 1045.6,1075.0 1047.1,1074.7 1048.6,1074.4 1050.1,1074.0 1051.6,1073.6 1053.1,1073.1 1054.6,1072.6 1056.1,1072.1 1057.6,1071.5 1059.1,1070.8 1060.6,1070.1 1062.1,1069.4 1063.6,1068.6 1065.1,1067.7 1066.6,1066.7 1068.1,1065.7 1069.6,1064.5 1071.1,1063.3 1072.6,1062.0 1074.1,1060.6 1075.6,1059.1 1077.1,1057.5 1078.6,1055.8 1080.1,1054.0 1081.6,1052.0 1083.1,1049.9 1084.6,1047.7 1086.1,1045.4 1087.6,1042.9 1089.1,1040.3 1090.6,1037.5 1092.1,1034.6 1093.6,1031.5 1095.1,1028.3 1096.6,1024.9 1098.1,1021.3 1099.6,1017.6 1101.1,1013.7 1102.6,1009.6 1104.1,1005.4 1105.6,1001.0 1107.1,996.5 1108.6,991.7 1110.1,986.9 1111.6,981.8 1113.1,976.6 1114.6,971.3 1116.1,965.8 1117.6,960.1 1119.1,954.3 1120.6,948.5 1122.1,942.5 1123.6,936.3 1125.1,930.1 1126.6,923.9 1128.1,917.5 1129.6,911.1 1131.1,904.6 1132.6,898.2 1134.1,891.7 1135.6,885.2 1137.1,878.7 1138.6,872.3 1140.1,865.9 1141.6,859.6 1143.1,853.4 1144.6,847.3 1146.1,841.3 1147.6,835.4 1149.1,829.8 1150.6,824.3 1152.1,819.0 1153.6,813.9 1155.1,809.0 1156.6,804.4 1158.1,800.1 1159.6,796.0 1161.1,792.3 1162.6,788.8 1164.1,785.7 1165.6,782.9 1167.1,780.4 1168.6,778.3 1170.1,776.5 1171.6,775.2 1173.1,774.1 1174.6,773.5 1176.1,773.2 1177.6,773.3 1179.1,773.8 1180.6,774.7 1182.1,775.9 1183.6,777.5 1185.1,779.4 1186.6,781.8 1188.1,784.4 1189.6,787.4 1191.1,790.8 1192.6,794.4 1194.1,798.3 1195.6,802.6 1197.1,807.1 1198.6,811.8 1200.1,816.9 1201.6,822.1 1203.1,827.5 1204.6,833.2 1206.1,839.0 1207.6,844.9 1209.1,851.0 1210.6,857.3 1212.1,863.6 1213.6,870.0 1215.1,876.4 1216.6,883.0 1218.1,889.5 1219.6,896.0 1221.1,902.6 1222.6,909.1 1224.1,915.6 1225.6,922.1 1227.1,928.5 1228.6,934.8 1230.1,941.0 1231.6,947.1 1233.1,953.1 1234.6,959.0 1236.1,964.8 1237.6,970.5 1239.1,975.9 1240.6,981.3 1242.1,986.5 1243.6,991.5 1245.1,996.4 1246.6,1001.1 1248.1,1005.6 1249.6,1010.0 1251.1,1014.2 1252.6,1018.3 1254.1,1022.1 1255.6,1025.8 1257.1,1029.4 1258.6,1032.7 1260.1,1035.9 1261.6,1039.0 1263.1,1041.9 1264.6,1044.6 1266.1,1047.2 1267.6,1049.7 1269.1,1052.0 1270.6,1054.2 1272.1,1056.2 1273.6,1058.2 1275.1,1060.0 1276.6,1061.7 1278.1,1063.2 1279.6,1064.7 1281.1,1066.1 1282.6,1067.4 1284.1,1068.6 1285.6,1069.7 1287.1,1070.7 1288.6,1071.7 1290.1,1072.5 1291.6,1073.3 1293.1,1074.1 1294.6,1074.8 1296.1,1075.4 1297.6,1076.0 1299.1,1076.5 1300.6,1077.0 1302.1,1077.5 1303.6,1077.9 1305.1,1078.2 1306.6,1078.6 1308.1,1078.9 1309.6,1079.2 1311.1,1079.4 1312.6,1079.6 1314.1,1079.9 1315.6,1080.0 1317.1,1080.2 1318.6,1080.4 1320.1,1080.5 1321.6,1080.6 1323.1,1080.7 1324.6,1080.8 1326.1,1080.9 1327.6,1081.0 1329.1,1081.1 1330.6,1081.1 1332.1,1081.2 1333.6,1081.2 1335.1,1081.3 1336.6,1081.3 1338.1,1081.4 1339.6,1081.4 1341.1,1081.4 1342.6,1081.4 1344.1,1081.5 1345.6,1081.5 1347.1,1081.5 1348.6,1081.5 1350.1,1081.5 1351.6,1081.5 1353.1,1081.5 1354.6,1081.5 1356.1,1081.6 1357.6,1081.6 1359.1,1081.6 1360.6,1081.6 1362.1,1081.6 1363.6,1081.6 1365.1,1081.6 1366.6,1081.6 1368.1,1081.6 1369.6,1081.6 1371.1,1081.6 1372.6,1081.6 1374.1,1081.6 1375.6,1081.6 1377.1,1081.6 1378.6,1081.6 1380.1,1081.6 1381.6,1081.6 1383.1,1081.6 1384.6,1081.6 1386.1,1081.6 1387.6,1081.6 1389.1,1081.6 1390.6,1081.6 1392.1,1081.6 1393.6,1081.6 1395.1,1081.6 1396.6,1081.6 1398.1,1081.6 1399.6,1081.6 1401.1,1081.6 1402.6,1081.6 1404.1,1081.6 1405.6,1081.6 1407.1,1081.6 1408.6,1081.6 1410.1,1081.6 1411.6,1081.6 1413.1,1081.6 1414.6,1081.6 1416.1,1081.6 1417.6,1081.6 1419.1,1081.6 1420.6,1081.6 1422.1,1081.6 1423.6,1081.6 1425.1,1081.6 1426.6,1081.6 1428.1,1081.6 1429.6,1081.6 1431.1,1081.6 1432.6,1081.6 1434.1,1081.6 1435.6,1081.6 1437.1,1081.6 1438.6,1081.6 1440.1,1081.6 1441.6,1081.6 1443.1,1081.6 1444.6,1081.6 1446.1,1081.6 1447.6,1081.6 1449.1,1081.6 1450.6,1081.6 1452.0,1081.6 1452.0,1082.7 1450.6,1082.7 1449.1,1082.7 1447.6,1082.7 1446.1,1082.7 1444.6,1082.7 1443.1,1082.7 1441.6,1082.7 1440.1,1082.7 1438.6,1082.7 1437.1,1082.7 1435.6,1082.7 1434.1,1082.7 1432.6,1082.7 1431.1,1082.7 1429.6,1082.7 1428.1,1082.7 1426.6,1082.7 1425.1,1082.7 1423.6,1082.7 1422.1,1082.7 1420.6,1082.7 1419.1,1082.7 1417.6,1082.7 1416.1,1082.7 1414.6,1082.7 1413.1,1082.7 1411.6,1082.7 1410.1,1082.7 1408.6,1082.7 1407.1,1082.7 1405.6,1082.7 1404.1,1082.7 1402.6,1082.7 1401.1,1082.7 1399.6,1082.7 1398.1,1082.7 1396.6,1082.7 1395.1,1082.7 1393.6,1082.7 1392.1,1082.7 1390.6,1082.7 1389.1,1082.7 1387.6,1082.7 1386.1,1082.7 1384.6,1082.7 1383.1,1082.7 1381.6,1082.7 1380.1,1082.7 1378.6,1082.7 1377.1,1082.7 1375.6,1082.7 1374.1,1082.7 1372.6,1082.7 1371.1,1082.7 1369.6,1082.7 1368.1,1082.7 1366.6,1082.7 1365.1,1082.7 1363.6,1082.7 1362.1,1082.7 1360.6,1082.7 1359.1,1082.7 1357.6,1082.7 1356.1,1082.7 1354.6,1082.7 1353.1,1082.7 1351.6,1082.7 1350.1,1082.7 1348.6,1082.7 1347.1,1082.7 1345.6,1082.7 1344.1,1082.7 1342.6,1082.7 1341.1,1082.7 1339.6,1082.7 1338.1,1082.7 1336.6,1082.7 1335.1,1082.7 1333.6,1082.7 1332.1,1082.7 1330.6,1082.7 1329.1,1082.7 1327.6,1082.7 1326.1,1082.7 1324.6,1082.7 1323.1,1082.7 1321.6,1082.7 1320.1,1082.7 1318.6,1082.7 1317.1,1082.7 1315.6,1082.7 1314.1,1082.7 1312.6,1082.7 1311.1,1082.7 1309.6,1082.7 1308.1,1082.7 1306.6,1082.7 1305.1,1082.7 1303.6,1082.7 1302.1,1082.7 1300.6,1082.6 1299.1,1082.6 1297.6,1082.6 1296.1,1082.6 1294.6,1082.6 1293.1,1082.6 1291.6,1082.6 1290.1,1082.6 1288.6,1082.6 1287.1,1082.6 1285.6,1082.6 1284.1,1082.6 1282.6,1082.6 1281.1,1082.6 1279.6,1082.5 1278.1,1082.5 1276.6,1082.5 1275.1,1082.5 1273.6,1082.5 1272.1,1082.5 1270.6,1082.5 1269.1,1082.5 1267.6,1082.4 1266.1,1082.4 1264.6,1082.4 1263.1,1082.4 1261.6,1082.4 1260.1,1082.3 1258.6,1082.3 1257.1,1082.3 1255.6,1082.3 1254.1,1082.3 1252.6,1082.2 1251.1,1082.2 1249.6,1082.2 1248.1,1082.2 1246.6,1082.1 1245.1,1082.1 1243.6,1082.1 1242.1,1082.1 1240.6,1082.0 1239.1,1082.0 1237.6,1082.0 1236.1,1081.9 1234.6,1081.9 1233.1,1081.9 1231.6,1081.8 1230.1,1081.8 1228.6,1081.8 1227.1,1081.7 1225.6,1081.7 1224.1,1081.6 1222.6,1081.6 1221.1,1081.6 1219.6,1081.5 1218.1,1081.5 1216.6,1081.5 1215.1,1081.4 1213.6,1081.4 1212.1,1081.3 1210.6,1081.3 1209.1,1081.3 1207.6,1081.2 1206.1,1081.2 1204.6,1081.1 1203.1,1081.1 1201.6,1081.0 1200.1,1081.0 1198.6,1080.9 1197.1,1080.9 1195.6,1080.9 1194.1,1080.8 1192.6,1080.8 1191.1,1080.7 1189.6,1080.7 1188.1,1080.6 1186.6,1080.6 1185.1,1080.5 1183.6,1080.5 1182.1,1080.5 1180.6,1080.4 1179.1,1080.4 1177.6,1080.3 1176.1,1080.3 1174.6,1080.2 1173.1,1080.2 1171.6,1080.2 1170.1,1080.1 1168.6,1080.1 1167.1,1080.0 1165.6,1080.0 1164.1,1080.0 1162.6,1079.9 1161.1,1079.9 1159.6,1079.8 1158.1,1079.8 1156.6,1079.8 1155.1,1079.7 1153.6,1079.7 1152.1,1079.7 1150.6,1079.6 1149.1,1079.6 1147.6,1079.6 1146.1,1079.5 1144.6,1079.5 1143.1,1079.5 1141.6,1079.5 1140.1,1079.4 1138.6,1079.4 1137.1,1079.4 1135.6,1079.4 1134.1,1079.3 1132.6,1079.3 1131.1,1079.3 1129.6,1079.3 1128.1,1079.2 1126.6,1079.2 1125.1,1079.2 1123.6,1079.2 1122.1,1079.2 1120.6,1079.2 1119.1,1079.1 1117.6,1079.1 1116.1,1079.1 1114.6,1079.1 1113.1,1079.1 1111.6,1079.1 1110.1,1079.1 1108.6,1079.1 1107.1,1079.0 1105.6,1079.0 1104.1,1079.0 1102.6,1079.0 1101.1,1079.0 1099.6,1079.0 1098.1,1079.0 1096.6,1079.0 1095.1,1079.0 1093.6,1079.0 1092.1,1079.0 1090.6,1079.0 1089.1,1079.0 1087.6,1079.0 1086.1,1078.9 1084.6,1078.9 1083.1,1078.9 1081.6,1078.9 1080.1,1078.9 1078.6,1078.9 1077.1,1078.9 1075.6,1078.9 1074.1,1078.9 1072.6,1078.9 1071.1,1078.9 1069.6,1078.9 1068.1,1078.9 1066.6,1078.9 1065.1,1078.9 1063.6,1078.9 1062.1,1078.9 1060.6,1078.9 1059.1,1078.9 1057.6,1078.9 1056.1,1078.9 1054.6,1078.9 1053.1,1078.9 1051.6,1078.9 1050.1,1078.9 1048.6,1078.9 1047.1,1078.9 1045.6,1078.9 1044.1,1078.9 1042.6,1078.9 1041.1,1078.9 1039.6,1078.9 1038.1,1078.9 1036.6,1078.9 1035.1,1078.9 1033.6,1078.9 1032.1,1078.9 1030.6,1078.9 1029.1,1078.9 1027.6,1078.9 1026.1,1078.9 1024.6,1078.9 1023.1,1078.9 1021.6,1078.9 1020.1,1078.9 1018.6,1078.9 1017.1,1078.9 1015.6,1078.9 1014.1,1078.9 1012.6,1078.9 1011.1,1078.9 1009.6,1078.9 1008.1,1078.9 1006.6,1078.9 1005.1,1078.9 1003.6,1078.9 1002.1,1078.9 1000.6,1078.9 999.1,1078.9 997.6,1078.9 996.1,1078.9 994.6,1078.9 993.1,1078.9 991.6,1078.9 990.1,1078.9 988.6,1078.9 987.1,1078.9 985.6,1078.9 984.1,1078.9 982.6,1078.9 981.1,1078.9 979.6,1078.9 978.1,1078.9 976.6,1078.9 975.1,1078.9 973.6,1078.9 972.1,1078.9 970.6,1078.9 969.1,1078.9 967.6,1078.9 966.1,1078.9 964.6,1078.9 963.1,1078.9 961.6,1078.9 960.1,1078.9 958.6,1078.9 957.1,1078.9 955.6,1078.9 954.1,1078.9 952.6,1078.9 951.1,1078.9 949.6,1078.9 948.1,1078.9 946.6,1078.9 945.1,1078.9 943.6,1078.9 942.1,1078.9 940.6,1078.9 939.1,1078.9 937.6,1078.9 936.1,1078.9 934.6,1078.9 933.1,1078.9 931.6,1078.9 930.1,1078.9 928.6,1078.9 927.1,1078.9 925.6,1078.9 924.1,1078.9 922.6,1078.9 921.1,1078.9 919.6,1078.9 918.1,1078.9 916.6,1078.9 915.1,1078.9 913.6,1078.9 912.1,1078.9 910.6,1078.9 909.1,1078.9 907.6,1078.9 906.1,1078.9 904.6,1078.9 903.1,1078.9 901.6,1078.9 900.1,1078.9 898.6,1078.9Z" fill="#c0c0c0"/>
<path d="M898.6,1077.8 900.1,1077.8 901.6,1077.8 903.1,1077.8 904.6,1077.8 906.1,1077.8 907.6,1077.8 909.1,1077.8 910.6,1077.8 912.1,1077.8 913.6,1077.8 915.1,1077.8 916.6,1077.8 918.1,1077.8 919.6,1077.8 921.1,1077.8 922.6,1077.8 924.1,1077.8 925.6,1077.8 927.1,1077.8 928.6,1077.8 930.1,1077.8 931.6,1077.8 933.1,1077.8 934.6,1077.8 936.1,1077.8 937.6,1077.8 939.1,1077.8 940.6,1077.8 942.1,1077.8 943.6,1077.8 945.1,1077.8 946.6,1077.8 948.1,1077.8 949.6,1077.8 951.1,1077.8 952.6,1077.8 954.1,1077.8 955.6,1077.8 957.1,1077.8 958.6,1077.8 960.1,1077.8 961.6,1077.8 963.1,1077.8 964.6,1077.8 966.1,1077.8 967.6,1077.8 969.1,1077.8 970.6,1077.8 972.1,1077.8 973.6,1077.8 975.1,1077.8 976.6,1077.8 978.1,1077.8 979.6,1077.8 981.1,1077.8 982.6,1077.8 984.1,1077.8 985.6,1077.8 987.1,1077.8 988.6,1077.8 990.1,1077.8 991.6,1077.8 993.1,1077.8 994.6,1077.8 996.1,1077.8 997.6,1077.8 999.1,1077.8 1000.6,1077.8 1002.1,1077.8 1003.6,1077.8 1005.1,1077.8 1006.6,1077.8 1008.1,1077.8 1009.6,1077.8 1011.1,1077.8 1012.6,1077.8 1014.1,1077.8 1015.6,1077.8 1017.1,1077.8 1018.6,1077.8 1020.1,1077.8 1021.6,1077.8 1023.1,1077.8 1024.6,1077.8 1026.1,1077.8 1027.6,1077.8 1029.1,1077.8 1030.6,1077.8 1032.1,1077.8 1033.6,1077.8 1035.1,1077.8 1036.6,1077.8 1038.1,1077.8 1039.6,1077.8 1041.1,1077.8 1042.6,1077.8 1044.1,1077.8 1045.6,1077.8 1047.1,1077.8 1048.6,1077.8 1050.1,1077.8 1051.6,1077.8 1053.1,1077.8 1054.6,1077.8 1056.1,1077.8 1057.6,1077.8 1059.1,1077.8 1060.6,1077.8 1062.1,1077.8 1063.6,1077.8 1065.1,1077.8 1066.6,1077.8 1068.1,1077.8 1069.6,1077.8 1071.1,1077.8 1072.6,1077.8 1074.1,1077.8 1075.6,1077.8 1077.1,1077.8 1078.6,1077.8 1080.1,1077.8 1081.6,1077.8 1083.1,1077.8 1084.6,1077.8 1086.1,1077.8 1087.6,1077.8 1089.1,1077.7 1090.6,1077.7 1092.1,1077.7 1093.6,1077.7 1095.1,1077.7 1096.6,1077.6 1098.1,1077.6 1099.6,1077.6 1101.1,1077.5 1102.6,1077.5 1104.1,1077.5 1105.6,1077.4 1107.1,1077.3 1108.6,1077.3 1110.1,1077.2 1111.6,1077.1 1113.1,1077.0 1114.6,1076.9 1116.1,1076.7 1117.6,1076.6 1119.1,1076.4 1120.6,1076.2 1122.1,1076.0 1123.6,1075.8 1125.1,1075.5 1126.6,1075.2 1128.1,1074.9 1129.6,1074.5 1131.1,1074.1 1132.6,1073.7 1134.1,1073.2 1135.6,1072.7 1137.1,1072.2 1138.6,1071.6 1140.1,1070.9 1141.6,1070.2 1143.1,1069.4 1144.6,1068.5 1146.1,1067.6 1147.6,1066.6 1149.1,1065.6 1150.6,1064.4 1152.1,1063.2 1153.6,1061.9 1155.1,1060.5 1156.6,1059.0 1158.1,1057.4 1159.6,1055.8 1161.1,1054.0 1162.6,1052.1 1164.1,1050.1 1165.6,1048.0 1167.1,1045.8 1168.6,1043.5 1170.1,1041.1 1171.6,1038.6 1173.1,1036.0 1174.6,1033.3 1176.1,1030.5 1177.6,1027.5 1179.1,1024.5 1180.6,1021.4 1182.1,1018.2 1183.6,1014.9 1185.1,1011.6 1186.6,1008.1 1188.1,1004.6 1189.6,1001.1 1191.1,997.5 1192.6,993.9 1194.1,990.2 1195.6,986.6 1197.1,982.9 1198.6,979.2 1200.1,975.6 1201.6,972.0 1203.1,968.4 1204.6,964.9 1206.1,961.5 1207.6,958.1 1209.1,954.8 1210.6,951.7 1212.1,948.7 1213.6,945.7 1215.1,943.0 1216.6,940.4 1218.1,938.0 1219.6,935.7 1221.1,933.6 1222.6,931.8 1224.1,930.1 1225.6,928.7 1227.1,927.4 1228.6,926.4 1230.1,925.7 1231.6,925.1 1233.1,924.9 1234.6,924.8 1236.1,925.0 1237.6,925.4 1239.1,926.1 1240.6,927.0 1242.1,928.1 1243.6,929.4 1245.1,931.0 1246.6,932.8 1248.1,934.8 1249.6,936.9 1251.1,939.3 1252.6,941.9 1254.1,944.6 1255.6,947.4 1257.1,950.4 1258.6,953.6 1260.1,956.8 1261.6,960.2 1263.1,963.6 1264.6,967.1 1266.1,970.7 1267.6,974.4 1269.1,978.0 1270.6,981.8 1272.1,985.5 1273.6,989.2 1275.1,992.9 1276.6,996.6 1278.1,1000.3 1279.6,1003.9 1281.1,1007.5 1282.6,1011.0 1284.1,1014.5 1285.6,1017.9 1287.1,1021.2 1288.6,1024.4 1290.1,1027.6 1291.6,1030.6 1293.1,1033.6 1294.6,1036.4 1296.1,1039.1 1297.6,1041.8 1299.1,1044.3 1300.6,1046.7 1302.1,1049.1 1303.6,1051.3 1305.1,1053.4 1306.6,1055.4 1308.1,1057.3 1309.6,1059.1 1311.1,1060.7 1312.6,1062.3 1314.1,1063.8 1315.6,1065.3 1317.1,1066.6 1318.6,1067.8 1320.1,1069.0 1321.6,1070.0 1323.1,1071.0 1324.6,1072.0 1326.1,1072.8 1327.6,1073.6 1329.1,1074.3 1330.6,1075.0 1332.1,1075.6 1333.6,1076.2 1335.1,1076.7 1336.6,1077.2 1338.1,1077.7 1339.6,1078.1 1341.1,1078.4 1342.6,1078.8 1344.1,1079.1 1345.6,1079.3 1347.1,1079.6 1348.6,1079.8 1350.1,1080.0 1351.6,1080.2 1353.1,1080.3 1354.6,1080.5 1356.1,1080.6 1357.6,1080.7 1359.1,1080.8 1360.6,1080.9 1362.1,1081.0 1363.6,1081.1 1365.1,1081.1 1366.6,1081.2 1368.1,1081.3 1369.6,1081.3 1371.1,1081.3 1372.6,1081.4 1374.1,1081.4 1375.6,1081.4 1377.1,1081.5 1378.6,1081.5 1380.1,1081.5 1381.6,1081.5 1383.1,1081.5 1384.6,1081.5 1386.1,1081.5 1387.6,1081.5 1389.1,1081.6 1390.6,1081.6 1392.1,1081.6 1393.6,1081.6 1395.1,1081.6 1396.6,1081.6 1398.1,1081.6 1399.6,1081.6 1401.1,1081.6 1402.6,1081.6 1404.1,1081.6 1405.6,1081.6 1407.1,1081.6 1408.6,1081.6 1410.1,1081.6 1411.6,1081.6 1413.1,1081.6 1414.6,1081.6 1416.1,1081.6 1417.6,1081.6 1419.1,1081.6 1420.6,1081.6 1422.1,1081.6 1423.6,1081.6 1425.1,1081.6 1426.6,1081.6 1428.1,1081.6 1429.6,1081.6 1431.1,1081.6 1432.6,1081.6 1434.1,1081.6 1435.6,1081.6 1437.1,1081.6 1438.6,1081.6 1440.1,1081.6 1441.6,1081.6 1443.1,1081.6 1444.6,1081.6 1446.1,1081.6 1447.6,1081.6 1449.1,1081.6 1450.6,1081.6 1452.0,1081.6 1452.0,1082.7 1450.6,1082.7 1449.1,1082.7 1447.6,1082.7 1446.1,1082.7 1444.6,1082.7 1443.1,1082.7 1441.6,1082.7 1440.1,1082.7 1438.6,1082.7 1437.1,1082.7 1435.6,1082.7 1434.1,1082.7 1432.6,1082.7 1431.1,1082.7 1429.6,1082.7 1428.1,1082.7 1426.6,1082.7 1425.1,1082.7 1423.6,1082.7 1422.1,1082.7 1420.6,1082.7 1419.1,1082.7 1417.6,1082.7 1416.1,1082.7 1414.6,1082.7 1413.1,1082.7 1411.6,1082.7 1410.1,1082.7 1408.6,1082.7 1407.1,1082.7 1405.6,1082.7 1404.1,1082.7 1402.6,1082.7 1401.1,1082.7 1399.6,1082.7 1398.1,1082.7 1396.6,1082.7 1395.1,1082.7 1393.6,1082.7 1392.1,1082.7 1390.6,1082.7 1389.1,1082.7 1387.6,1082.7 1386.1,1082.7 1384.6,1082.7 1383.1,1082.7 1381.6,1082.7 1380.1,1082.7 1378.6,1082.7 1377.1,1082.7 1375.6,1082.7 1374.1,1082.7 1372.6,1082.7 1371.1,1082.7 1369.6,1082.7 1368.1,1082.7 1366.6,1082.7 1365.1,1082.7 1363.6,1082.7 1362.1,1082.7 1360.6,1082.7 1359.1,1082.7 1357.6,1082.7 1356.1,1082.7 1354.6,1082.7 1353.1,1082.7 1351.6,1082.7 1350.1,1082.7 1348.6,1082.7 1347.1,1082.7 1345.6,1082.7 1344.1,1082.7 1342.6,1082.7 1341.1,1082.7 1339.6,1082.7 1338.1,1082.7 1336.6,1082.7 1335.1,1082.7 1333.6,1082.7 1332.1,1082.7 1330.6,1082.7 1329.1,1082.7 1327.6,1082.7 1326.1,1082.7 1324.6,1082.7 1323.1,1082.7 1321.6,1082.7 1320.1,1082.7 1318.6,1082.7 1317.1,1082.7 1315.6,1082.7 1314.1,1082.7 1312.6,1082.7 1311.1,1082.7 1309.6,1082.7 1308.1,1082.7 1306.6,1082.7 1305.1,1082.7 1303.6,1082.7 1302.1,1082.7 1300.6,1082.6 1299.1,1082.6 1297.6,1082.6 1296.1,1082.6 1294.6,1082.6 1293.1,1082.6 1291.6,1082.6 1290.1,1082.6 1288.6,1082.6 1287.1,1082.6 1285.6,1082.6 1284.1,1082.6 1282.6,1082.6 1281.1,1082.6 1279.6,1082.5 1278.1,1082.5 1276.6,1082.5 1275.1,1082.5 1273.6,1082.5 1272.1,1082.5 1270.6,1082.5 1269.1,1082.5 1267.6,1082.4 1266.1,1082.4 1264.6,1082.4 1263.1,1082.4 1261.6,1082.4 1260.1,1082.3 1258.6,1082.3 1257.1,1082.3 1255.6,1082.3 1254.1,1082.3 1252.6,1082.2 1251.1,1082.2 1249.6,1082.2 1248.1,1082.2 1246.6,1082.1 1245.1,1082.1 1243.6,1082.1 1242.1,1082.1 1240.6,1082.0 1239.1,1082.0 1237.6,1082.0 1236.1,1081.9 1234.6,1081.9 1233.1,1081.9 1231.6,1081.8 1230.1,1081.8 1228.6,1081.8 1227.1,1081.7 1225.6,1081.7 1224.1,1081.6 1222.6,1081.6 1221.1,1081.6 1219.6,1081.5 1218.1,1081.5 1216.6,1081.5 1215.1,1081.4 1213.6,1081.4 1212.1,1081.3 1210.6,1081.3 1209.1,1081.3 1207.6,1081.2 1206.1,1081.2 1204.6,1081.1 1203.1,1081.1 1201.6,1081.0 1200.1,1081.0 1198.6,1080.9 1197.1,1080.9 1195.6,1080.9 1194.1,1080.8 1192.6,1080.8 1191.1,1080.7 1189.6,1080.7 1188.1,1080.6 1186.6,1080.6 1185.1,1080.5 1183.6,1080.5 1182.1,1080.5 1180.6,1080.4 1179.1,1080.4 1177.6,1080.3 1176.1,1080.3 1174.6,1080.2 1173.1,1080.2 1171.6,1080.2 1170.1,1080.1 1168.6,1080.1 1167.1,1080.0 1165.6,1080.0 1164.1,1080.0 1162.6,1079.9 1161.1,1079.9 1159.6,1079.8 1158.1,1079.8 1156.6,1079.8 1155.1,1079.7 1153.6,1079.7 1152.1,1079.7 1150.6,1079.6 1149.1,1079.6 1147.6,1079.6 1146.1,1079.5 1144.6,1079.5 1143.1,1079.5 1141.6,1079.5 1140.1,1079.4 1138.6,1079.4 1137.1,1079.4 1135.6,1079.4 1134.1,1079.3 1132.6,1079.3 1131.1,1079.3 1129.6,1079.3 1128.1,1079.2 1126.6,1079.2 1125.1,1079.2 1123.6,1079.2 1122.1,1079.2 1120.6,1079.2 1119.1,1079.1 1117.6,1079.1 1116.1,1079.1 1114.6,1079.1 1113.1,1079.1 1111.6,1079.1 1110.1,1079.1 1108.6,1079.1 1107.1,1079.0 1105.6,1079.0 1104.1,1079.0 1102.6,1079.0 1101.1,1079.0 1099.6,1079.0 1098.1,1079.0 1096.6,1079.0 1095.1,1079.0 1093.6,1079.0 1092.1,1079.0 1090.6,1079.0 1089.1,1079.0 1087.6,1079.0 1086.1,1078.9 1084.6,1078.9 1083.1,1078.9 1081.6,1078.9 1080.1,1078.9 1078.6,1078.9 1077.1,1078.9 1075.6,1078.9 1074.1,1078.9 1072.6,1078.9 1071.1,1078.9 1069.6,1078.9 1068.1,1078.9 1066.6,1078.9 1065.1,1078.9 1063.6,1078.9 1062.1,1078.9 1060.6,1078.9 1059.1,1078.9 1057.6,1078.9 1056.1,1078.9 1054.6,1078.9 1053.1,1078.9 1051.6,1078.9 1050.1,1078.9 1048.6,1078.9 1047.1,1078.9 1045.6,1078.9 1044.1,1078.9 1042.6,1078.9 1041.1,1078.9 1039.6,1078.9 1038.1,1078.9 1036.6,1078.9 1035.1,1078.9 1033.6,1078.9 1032.1,1078.9 1030.6,1078.9 1029.1,1078.9 1027.6,1078.9 1026.1,1078.9 1024.6,1078.9 1023.1,1078.9 1021.6,1078.9 1020.1,1078.9 1018.6,1078.9 1017.1,1078.9 1015.6,1078.9 1014.1,1078.9 1012.6,1078.9 1011.1,1078.9 1009.6,1078.9 1008.1,1078.9 1006.6,1078.9 1005.1,1078.9 1003.6,1078.9 1002.1,1078.9 1000.6,1078.9 999.1,1078.9 997.6,1078.9 996.1,1078.9 994.6,1078.9 993.1,1078.9 991.6,1078.9 990.1,1078.9 988.6,1078.9 987.1,1078.9 985.6,1078.9 984.1,1078.9 982.6,1078.9 981.1,1078.9 979.6,1078.9 978.1,1078.9 976.6,1078.9 975.1,1078.9 973.6,1078.9 972.1,1078.9 970.6,1078.9 969.1,1078.9 967.6,1078.9 966.1,1078.9 964.6,1078.9 963.1,1078.9 961.6,1078.9 960.1,1078.9 958.6,1078.9 957.1,1078.9 955.6,1078.9 954.1,1078.9 952.6,1078.9 951.1,1078.9 949.6,1078.9 948.1,1078.9 946.6,1078.9 945.1,1078.9 943.6,1078.9 942.1,1078.9 940.6,1078.9 939.1,1078.9 937.6,1078.9 936.1,1078.9 934.6,1078.9 933.1,1078.9 931.6,1078.9 930.1,1078.9 928.6,1078.9 927.1,1078.9 925.6,1078.9 924.1,1078.9 922.6,1078.9 921.1,1078.9 919.6,1078.9 918.1,1078.9 916.6,1078.9 915.1,1078.9 913.6,1078.9 912.1,1078.9 910.6,1078.9 909.1,1078.9 907.6,1078.9 906.1,1078.9 904.6,1078.9 903.1,1078.9 901.6,1078.9 900.1,1078.9 898.6,1078.9Z" fill="#808080"/>
</g>
<clipPath id="ccO"><rect x="196.50" y="1246.90" width="554.50" height="449.90"/></clipPath>
<clipPath id="ccOo"><rect x="194.50" y="1244.90" width="558.50" height="453.90"/></clipPath>
<g class="ci" clip-path="url(#ccOo)">
<circle cx="192.5" cy="1696.0" r="6.4"/>
<circle cx="203.2" cy="1696.0" r="6.4"/>
<circle cx="213.9" cy="1696.0" r="6.4"/>
<circle cx="224.7" cy="1696.0" r="6.4"/>
<circle cx="235.4" cy="1696.0" r="6.4"/>
<circle cx="246.1" cy="1696.0" r="6.4"/>
<circle cx="256.8" cy="1696.0" r="6.4"/>
<circle cx="267.5" cy="1696.0" r="6.4"/>
<circle cx="278.3" cy="1696.0" r="6.4"/>
<circle cx="289.0" cy="1696.0" r="6.4"/>
</g>
<g class="ci" clip-path="url(#ccOo)">
<circle cx="680.0" cy="1696.0" r="6.4"/>
<circle cx="690.7" cy="1696.0" r="6.4"/>
<circle cx="701.4" cy="1696.0" r="6.4"/>
<circle cx="712.2" cy="1696.0" r="6.4"/>
<circle cx="722.9" cy="1696.0" r="6.4"/>
<circle cx="733.6" cy="1696.0" r="6.4"/>
<circle cx="744.3" cy="1696.0" r="6.4"/>
<circle cx="755.0" cy="1696.0" r="6.4"/>
</g>
<g class="ci" clip-path="url(#ccOo)">
<circle cx="188.8" cy="1689.0" r="6.4"/>
<circle cx="199.6" cy="1689.0" r="6.4"/>
<circle cx="210.3" cy="1689.0" r="6.4"/>
<circle cx="221.0" cy="1689.0" r="6.4"/>
<circle cx="231.7" cy="1689.0" r="6.4"/>
<circle cx="242.4" cy="1689.0" r="6.4"/>
<circle cx="253.2" cy="1689.0" r="6.4"/>
<circle cx="263.9" cy="1689.0" r="6.4"/>
<circle cx="274.6" cy="1688.6" r="6.4"/>
<circle cx="286.0" cy="1687.5" r="6.4"/>
<circle cx="297.4" cy="1686.0" r="6.4"/>
<circle cx="308.0" cy="1683.7" r="6.4"/>
<circle cx="319.0" cy="1680.3" r="6.4"/>
<circle cx="329.6" cy="1675.4" r="6.4"/>
<circle cx="341.0" cy="1667.8" r="6.4"/>
<circle cx="350.4" cy="1660.2" r="6.4"/>
<circle cx="361.8" cy="1649.6" r="6.4"/>
<circle cx="372.1" cy="1636.7" r="6.4"/>
<circle cx="382.7" cy="1620.4" r="6.4"/>
<circle cx="394.8" cy="1597.6" r="6.4"/>
<circle cx="405.4" cy="1572.2" r="6.4"/>
<circle cx="416.0" cy="1542.7" r="6.4"/>
<circle cx="427.0" cy="1508.5" r="6.4"/>
<circle cx="437.7" cy="1473.7" r="6.4"/>
<circle cx="448.3" cy="1433.5" r="6.4"/>
<circle cx="458.5" cy="1399.3" r="6.4"/>
<circle cx="468.7" cy="1369.0" r="6.4"/>
<circle cx="479.4" cy="1341.0" r="6.4"/>
<circle cx="490.7" cy="1322.7" r="6.4"/>
<circle cx="502.1" cy="1319.0" r="6.4"/>
<circle cx="513.5" cy="1323.5" r="6.4"/>
<circle cx="523.0" cy="1343.6" r="6.4"/>
<circle cx="535.1" cy="1368.2" r="6.4"/>
<circle cx="545.7" cy="1402.4" r="6.4"/>
<circle cx="557.1" cy="1438.4" r="6.4"/>
<circle cx="567.3" cy="1481.2" r="6.4"/>
<circle cx="577.9" cy="1520.7" r="6.4"/>
<circle cx="588.2" cy="1555.9" r="6.4"/>
<circle cx="598.8" cy="1591.2" r="6.4"/>
<circle cx="609.0" cy="1615.5" r="6.4"/>
<circle cx="619.6" cy="1636.7" r="6.4"/>
<circle cx="630.3" cy="1654.5" r="6.4"/>
<circle cx="640.5" cy="1667.0" r="6.4"/>
<circle cx="651.9" cy="1677.3" r="6.4"/>
<circle cx="662.1" cy="1682.9" r="6.4"/>
<circle cx="672.7" cy="1686.7" r="6.4"/>
<circle cx="684.1" cy="1688.6" r="6.4"/>
<circle cx="694.8" cy="1688.7" r="6.4"/>
<circle cx="705.5" cy="1688.7" r="6.4"/>
<circle cx="716.3" cy="1688.8" r="6.4"/>
<circle cx="727.0" cy="1688.8" r="6.4"/>
<circle cx="737.7" cy="1688.9" r="6.4"/>
<circle cx="748.4" cy="1688.9" r="6.4"/>
</g>
<path d="M195.5,1694.6 197.0,1694.6 198.5,1694.6 200.0,1694.6 201.5,1694.6 203.0,1694.6 204.5,1694.6 206.0,1694.6 207.5,1694.6 209.0,1694.6 210.5,1694.6 212.0,1694.6 213.5,1694.6 215.0,1694.6 216.5,1694.6 218.0,1694.6 219.5,1694.6 221.0,1694.6 222.5,1694.6 224.0,1694.6 225.5,1694.6 227.0,1694.6 228.5,1694.6 230.0,1694.6 231.5,1694.6 233.0,1694.6 234.5,1694.6 236.0,1694.6 237.5,1694.6 239.0,1694.6 240.5,1694.6 242.0,1694.6 243.5,1694.6 245.0,1694.6 246.5,1694.6 248.0,1694.6 249.5,1694.6 251.0,1694.6 252.5,1694.6 254.0,1694.6 255.5,1694.6 257.0,1694.6 258.5,1694.6 260.0,1694.6 261.5,1694.6 263.0,1694.6 264.5,1694.6 266.0,1694.6 267.5,1694.6 269.0,1694.6 270.5,1694.6 272.0,1694.6 273.5,1694.6 275.0,1694.6 276.5,1694.6 278.0,1694.6 279.5,1694.6 281.0,1694.6 282.5,1694.6 284.0,1694.6 285.5,1694.6 287.0,1694.6 288.5,1694.6 290.0,1694.6 291.5,1694.6 293.0,1694.6 294.5,1694.6 296.0,1694.6 297.5,1694.6 299.0,1694.6 300.5,1694.6 302.0,1694.6 303.5,1694.6 305.0,1694.6 306.5,1694.6 308.0,1694.6 309.5,1694.6 311.0,1694.6 312.5,1694.6 314.0,1694.6 315.5,1694.6 317.0,1694.6 318.5,1694.6 320.0,1694.6 321.5,1694.6 323.0,1694.6 324.5,1694.6 326.0,1694.6 327.5,1694.6 329.0,1694.6 330.5,1694.6 332.0,1694.6 333.5,1694.6 335.0,1694.6 336.5,1694.6 338.0,1694.6 339.5,1694.6 341.0,1694.6 342.5,1694.6 344.0,1694.6 345.5,1694.6 347.0,1694.6 348.5,1694.6 350.0,1694.6 351.5,1694.6 353.0,1694.6 354.5,1694.6 356.0,1694.6 357.5,1694.6 359.0,1694.6 360.5,1694.6 362.0,1694.6 363.5,1694.6 365.0,1694.6 366.5,1694.6 368.0,1694.6 369.5,1694.6 371.0,1694.6 372.5,1694.6 374.0,1694.6 375.5,1694.6 377.0,1694.6 378.5,1694.6 380.0,1694.6 381.5,1694.6 383.0,1694.6 384.5,1694.6 386.0,1694.6 387.5,1694.6 389.0,1694.6 390.5,1694.6 392.0,1694.6 393.5,1694.6 395.0,1694.6 396.5,1694.6 398.0,1694.6 399.5,1694.6 401.0,1694.6 402.5,1694.6 404.0,1694.6 405.5,1694.6 407.0,1694.6 408.5,1694.6 410.0,1694.6 411.5,1694.6 413.0,1694.6 414.5,1694.7 416.0,1694.7 417.5,1694.7 419.0,1694.7 420.5,1694.7 422.0,1694.7 423.5,1694.7 425.0,1694.7 426.5,1694.7 428.0,1694.7 429.5,1694.7 431.0,1694.7 432.5,1694.7 434.0,1694.7 435.5,1694.7 437.0,1694.7 438.5,1694.7 440.0,1694.7 441.5,1694.7 443.0,1694.7 444.5,1694.7 446.0,1694.7 447.5,1694.7 449.0,1694.7 450.5,1694.7 452.0,1694.7 453.5,1694.7 455.0,1694.7 456.5,1694.7 458.0,1694.7 459.5,1694.7 461.0,1694.7 462.5,1694.7 464.0,1694.7 465.5,1694.7 467.0,1694.7 468.5,1694.7 470.0,1694.7 471.5,1694.7 473.0,1694.7 474.5,1694.7 476.0,1694.8 477.5,1694.8 479.0,1694.8 480.5,1694.8 482.0,1694.8 483.5,1694.8 485.0,1694.8 486.5,1694.8 488.0,1694.8 489.5,1694.8 491.0,1694.8 492.5,1694.8 494.0,1694.8 495.5,1694.8 497.0,1694.8 498.5,1694.8 500.0,1694.8 501.5,1694.8 503.0,1694.8 504.5,1694.8 506.0,1694.8 507.5,1694.8 509.0,1694.8 510.5,1694.8 512.0,1694.8 513.5,1694.8 515.0,1694.8 516.5,1694.9 518.0,1694.9 519.5,1694.9 521.0,1694.9 522.5,1694.9 524.0,1694.9 525.5,1694.9 527.0,1694.9 528.5,1694.9 530.0,1694.9 531.5,1694.9 533.0,1694.9 534.5,1694.9 536.0,1694.9 537.5,1694.9 539.0,1694.9 540.5,1694.9 542.0,1694.9 543.5,1694.9 545.0,1694.9 546.5,1694.9 548.0,1694.9 549.5,1694.9 551.0,1694.9 552.5,1694.9 554.0,1694.9 555.5,1694.9 557.0,1694.9 558.5,1694.9 560.0,1694.9 561.5,1694.9 563.0,1694.9 564.5,1694.9 566.0,1695.0 567.5,1695.0 569.0,1695.0 570.5,1695.0 572.0,1695.0 573.5,1695.0 575.0,1695.0 576.5,1695.0 578.0,1695.0 579.5,1695.0 581.0,1695.0 582.5,1695.0 584.0,1695.0 585.5,1695.0 587.0,1695.0 588.5,1695.0 590.0,1695.0 591.5,1695.0 593.0,1695.0 594.5,1695.0 596.0,1695.0 597.5,1695.0 599.0,1695.0 600.5,1695.0 602.0,1695.0 603.5,1695.0 605.0,1695.0 606.5,1695.0 608.0,1695.0 609.5,1695.0 611.0,1695.0 612.5,1695.0 614.0,1695.0 615.5,1695.0 617.0,1695.0 618.5,1695.0 620.0,1695.0 621.5,1695.0 623.0,1695.0 624.5,1695.0 626.0,1695.0 627.5,1695.0 629.0,1695.0 630.5,1695.0 632.0,1695.0 633.5,1695.0 635.0,1695.0 636.5,1695.0 638.0,1695.0 639.5,1695.0 641.0,1695.0 642.5,1695.0 644.0,1695.0 645.5,1695.0 647.0,1695.0 648.5,1695.0 650.0,1695.0 651.5,1695.0 653.0,1695.0 654.5,1695.0 656.0,1695.0 657.5,1695.0 659.0,1695.0 660.5,1695.0 662.0,1695.0 663.5,1695.0 665.0,1695.0 666.5,1695.0 668.0,1695.0 669.5,1695.0 671.0,1695.0 672.5,1695.0 674.0,1695.0 675.5,1695.0 677.0,1695.0 678.5,1695.0 680.0,1695.0 681.5,1695.0 683.0,1695.0 684.5,1695.0 686.0,1695.0 687.5,1695.0 689.0,1695.0 690.5,1695.0 692.0,1695.0 693.5,1695.0 695.0,1695.0 696.5,1695.0 698.0,1695.0 699.5,1695.0 701.0,1695.0 702.5,1695.0 704.0,1695.0 705.5,1695.0 707.0,1695.0 708.5,1695.0 710.0,1695.0 711.5,1695.0 713.0,1695.0 714.5,1695.0 716.0,1695.0 717.5,1695.0 719.0,1695.0 720.5,1695.0 722.0,1695.0 723.5,1695.0 725.0,1695.0 726.5,1695.0 728.0,1695.0 729.5,1695.0 731.0,1695.0 732.5,1695.0 734.0,1695.0 735.5,1695.0 737.0,1695.0 738.5,1695.0 740.0,1695.0 741.5,1695.0 743.0,1695.0 744.5,1695.0 746.0,1695.0 747.5,1695.0 749.0,1695.0 750.5,1695.0 752.0,1695.0" fill="none" stroke="#f00" stroke-width="2.2" stroke-linejoin="round" stroke-linecap="round" clip-path="url(#ccO)"/>
<path d="M195.5,1691.1 197.0,1691.1 198.5,1691.0 200.0,1690.9 201.5,1690.8 203.0,1690.8 204.5,1690.7 206.0,1690.6 207.5,1690.6 209.0,1690.5 210.5,1690.5 212.0,1690.4 213.5,1690.4 215.0,1690.4 216.5,1690.3 218.0,1690.3 219.5,1690.3 221.0,1690.2 222.5,1690.2 224.0,1690.2 225.5,1690.2 227.0,1690.2 228.5,1690.2 230.0,1690.2 231.5,1690.2 233.0,1690.2 234.5,1690.2 236.0,1690.2 237.5,1690.2 239.0,1690.2 240.5,1690.2 242.0,1690.2 243.5,1690.2 245.0,1690.2 246.5,1690.1 248.0,1690.1 249.5,1690.0 251.0,1690.0 252.5,1689.9 254.0,1689.8 255.5,1689.7 257.0,1689.6 258.5,1689.5 260.0,1689.4 261.5,1689.2 263.0,1689.1 264.5,1689.0 266.0,1688.9 267.5,1688.7 269.0,1688.6 270.5,1688.4 272.0,1688.3 273.5,1688.2 275.0,1688.0 276.5,1687.8 278.0,1687.7 279.5,1687.5 281.0,1687.4 282.5,1687.2 284.0,1687.0 285.5,1686.9 287.0,1686.7 288.5,1686.5 290.0,1686.4 291.5,1686.2 293.0,1686.0 294.5,1685.8 296.0,1685.7 297.5,1685.5 299.0,1685.3 300.5,1685.1 302.0,1684.9 303.5,1684.8 305.0,1684.5 306.5,1684.2 308.0,1683.9 309.5,1683.6 311.0,1683.2 312.5,1682.7 314.0,1682.1 315.5,1681.5 317.0,1680.8 318.5,1680.0 320.0,1679.0 321.5,1677.9 323.0,1677.1 324.5,1676.4 326.0,1675.7 327.5,1675.0 329.0,1674.3 330.5,1673.6 332.0,1672.8 333.5,1672.0 335.0,1671.2 336.5,1670.4 338.0,1669.5 339.5,1668.6 341.0,1667.6 342.5,1666.6 344.0,1665.6 345.5,1664.6 347.0,1663.5 348.5,1662.3 350.0,1661.1 351.5,1659.9 353.0,1658.6 354.5,1657.3 356.0,1655.9 357.5,1654.5 359.0,1653.0 360.5,1651.5 362.0,1649.9 363.5,1648.2 365.0,1646.5 366.5,1644.8 368.0,1642.9 369.5,1641.0 371.0,1639.1 372.5,1637.0 374.0,1634.9 375.5,1632.8 377.0,1630.5 378.5,1628.2 380.0,1625.8 381.5,1623.4 383.0,1620.8 384.5,1618.2 386.0,1615.5 387.5,1612.7 389.0,1609.8 390.5,1606.9 392.0,1603.8 393.5,1600.7 395.0,1597.5 396.5,1594.2 398.0,1590.8 399.5,1587.3 401.0,1583.7 402.5,1580.1 404.0,1576.3 405.5,1572.4 407.0,1568.5 408.5,1564.4 410.0,1560.3 411.5,1556.0 413.0,1551.7 414.5,1547.2 416.0,1542.7 417.5,1538.0 419.0,1533.3 420.5,1528.6 422.0,1524.0 423.5,1519.6 425.0,1515.3 426.5,1511.3 428.0,1507.7 429.5,1504.3 431.0,1501.1 432.5,1498.1 434.0,1495.1 435.5,1492.1 437.0,1489.0 438.5,1485.8 440.0,1482.3 441.5,1478.6 443.0,1474.7 444.5,1470.6 446.0,1466.3 447.5,1461.9 449.0,1457.4 450.5,1452.7 452.0,1447.9 453.5,1443.1 455.0,1438.1 456.5,1433.1 458.0,1428.1 459.5,1423.0 461.0,1417.9 462.5,1412.8 464.0,1407.7 465.5,1402.7 467.0,1397.7 468.5,1392.7 470.0,1387.8 471.5,1383.1 473.0,1378.4 474.5,1373.9 476.0,1369.5 477.5,1365.2 479.0,1361.1 480.5,1357.2 482.0,1353.5 483.5,1350.1 485.0,1346.8 486.5,1343.8 488.0,1340.9 489.5,1338.4 491.0,1336.0 492.5,1333.9 494.0,1331.9 495.5,1330.2 497.0,1328.8 498.5,1327.5 500.0,1326.5 501.5,1325.7 503.0,1325.1 504.5,1324.8 506.0,1324.6 507.5,1324.7 509.0,1325.0 510.5,1325.6 512.0,1326.3 513.5,1327.3 515.0,1328.5 516.5,1329.9 518.0,1331.6 519.5,1333.5 521.0,1335.5 522.5,1337.9 524.0,1340.4 525.5,1343.1 527.0,1346.1 528.5,1349.3 530.0,1352.7 531.5,1356.4 533.0,1360.3 534.5,1364.3 536.0,1368.6 537.5,1373.2 539.0,1377.9 540.5,1382.9 542.0,1388.0 543.5,1393.3 545.0,1398.8 546.5,1404.5 548.0,1410.3 549.5,1416.2 551.0,1422.3 552.5,1428.5 554.0,1435.2 555.5,1442.3 557.0,1449.2 558.5,1456.1 560.0,1462.7 561.5,1469.3 563.0,1475.5 564.5,1481.6 566.0,1487.7 567.5,1493.9 569.0,1500.0 570.5,1506.0 572.0,1512.1 573.5,1518.1 575.0,1524.0 576.5,1529.9 578.0,1535.8 579.5,1541.5 581.0,1547.2 582.5,1552.8 584.0,1558.2 585.5,1563.6 587.0,1568.9 588.5,1574.0 590.0,1579.1 591.5,1584.0 593.0,1588.8 594.5,1593.5 596.0,1598.0 597.5,1602.4 599.0,1606.7 600.5,1610.8 602.0,1614.8 603.5,1618.7 605.0,1622.4 606.5,1626.0 608.0,1629.5 609.5,1632.8 611.0,1636.0 612.5,1639.0 614.0,1642.0 615.5,1644.8 617.0,1647.5 618.5,1650.0 620.0,1652.5 621.5,1654.8 623.0,1657.1 624.5,1659.2 626.0,1661.2 627.5,1663.1 629.0,1664.9 630.5,1666.6 632.0,1668.2 633.5,1669.7 635.0,1671.2 636.5,1672.5 638.0,1673.8 639.5,1675.0 641.0,1676.2 642.5,1677.2 644.0,1678.2 645.5,1679.2 647.0,1680.1 648.5,1680.9 650.0,1681.6 651.5,1682.4 653.0,1683.0 654.5,1683.7 656.0,1684.2 657.5,1684.8 659.0,1685.3 660.5,1685.8 662.0,1686.2 663.5,1686.6 665.0,1687.0 666.5,1687.3 668.0,1687.7 669.5,1688.0 671.0,1688.2 672.5,1688.5 674.0,1688.7 675.5,1688.9 677.0,1689.1 678.5,1689.3 680.0,1689.3 681.5,1689.4 683.0,1689.3 684.5,1689.3 686.0,1689.3 687.5,1689.2 689.0,1689.1 690.5,1689.0 692.0,1689.0 693.5,1688.9 695.0,1688.9 696.5,1688.9 698.0,1688.9 699.5,1689.0 701.0,1689.1 702.5,1689.2 704.0,1689.4 705.5,1689.6 707.0,1689.8 708.5,1690.0 710.0,1690.2 711.5,1690.4 713.0,1690.7 714.5,1690.8 716.0,1691.0 717.5,1691.2 719.0,1691.3 720.5,1691.4 722.0,1691.4 723.5,1691.4 725.0,1691.4 726.5,1691.5 728.0,1691.5 729.5,1691.5 731.0,1691.5 732.5,1691.5 734.0,1691.6 735.5,1691.6 737.0,1691.6 738.5,1691.6 740.0,1691.6 741.5,1691.6 743.0,1691.6 744.5,1691.7 746.0,1691.7 747.5,1691.7 749.0,1691.7 750.5,1691.7 752.0,1691.7" fill="none" stroke="#f00" stroke-width="4.0" stroke-linejoin="round" stroke-linecap="round" clip-path="url(#ccO)"/>
<g clip-path="url(#ccO)">
<path d="M195.5,1692.3 197.0,1692.3 198.5,1692.3 200.0,1692.3 201.5,1692.3 203.0,1692.3 204.5,1692.3 206.0,1692.3 207.5,1692.3 209.0,1692.3 210.5,1692.3 212.0,1692.3 213.5,1692.3 215.0,1692.3 216.5,1692.3 218.0,1692.2 219.5,1692.2 221.0,1692.2 222.5,1692.2 224.0,1692.2 225.5,1692.2 227.0,1692.2 228.5,1692.2 230.0,1692.2 231.5,1692.2 233.0,1692.2 234.5,1692.2 236.0,1692.2 237.5,1692.2 239.0,1692.2 240.5,1692.2 242.0,1692.2 243.5,1692.1 245.0,1692.1 246.5,1692.1 248.0,1692.1 249.5,1692.1 251.0,1692.1 252.5,1692.1 254.0,1692.1 255.5,1692.1 257.0,1692.1 258.5,1692.1 260.0,1692.1 261.5,1692.1 263.0,1692.0 264.5,1692.0 266.0,1692.0 267.5,1692.0 269.0,1692.0 270.5,1692.0 272.0,1692.0 273.5,1692.0 275.0,1692.0 276.5,1692.0 278.0,1692.0 279.5,1691.9 281.0,1691.9 282.5,1691.9 284.0,1691.9 285.5,1691.9 287.0,1691.9 288.5,1691.9 290.0,1691.9 291.5,1691.8 293.0,1691.8 294.5,1691.8 296.0,1691.8 297.5,1691.8 299.0,1691.8 300.5,1691.8 302.0,1691.7 303.5,1691.7 305.0,1691.7 306.5,1691.7 308.0,1691.7 309.5,1691.7 311.0,1691.6 312.5,1691.6 314.0,1691.6 315.5,1691.6 317.0,1691.5 318.5,1691.5 320.0,1691.5 321.5,1691.5 323.0,1691.4 324.5,1691.4 326.0,1691.4 327.5,1691.3 329.0,1691.3 330.5,1691.2 332.0,1691.2 333.5,1691.1 335.0,1691.1 336.5,1691.0 338.0,1690.9 339.5,1690.9 341.0,1690.8 342.5,1690.7 344.0,1690.6 345.5,1690.5 347.0,1690.4 348.5,1690.3 350.0,1690.2 351.5,1690.1 353.0,1689.9 354.5,1689.8 356.0,1689.6 357.5,1689.4 359.0,1689.2 360.5,1689.0 362.0,1688.8 363.5,1688.5 365.0,1688.3 366.5,1688.0 368.0,1687.7 369.5,1687.3 371.0,1687.0 372.5,1686.6 374.0,1686.1 375.5,1685.7 377.0,1685.2 378.5,1684.7 380.0,1684.1 381.5,1683.5 383.0,1682.8 384.5,1682.1 386.0,1681.4 387.5,1680.6 389.0,1679.7 390.5,1678.8 392.0,1677.8 393.5,1676.8 395.0,1675.7 396.5,1674.5 398.0,1673.2 399.5,1671.9 401.0,1670.5 402.5,1669.0 404.0,1667.4 405.5,1665.7 407.0,1663.9 408.5,1662.1 410.0,1660.1 411.5,1658.0 413.0,1655.8 414.5,1653.5 416.0,1651.1 417.5,1648.6 419.0,1646.0 420.5,1643.2 422.0,1640.3 423.5,1637.3 425.0,1634.1 426.5,1630.9 428.0,1627.4 429.5,1623.9 431.0,1620.2 432.5,1616.4 434.0,1612.4 435.5,1608.4 437.0,1604.1 438.5,1599.8 440.0,1595.3 441.5,1590.7 443.0,1585.9 444.5,1581.0 446.0,1576.1 447.5,1570.9 449.0,1565.7 450.5,1560.4 452.0,1554.9 453.5,1549.4 455.0,1543.8 456.5,1538.0 458.0,1532.2 459.5,1526.4 461.0,1520.4 462.5,1514.4 464.0,1508.4 465.5,1502.4 467.0,1496.3 468.5,1490.2 470.0,1484.1 471.5,1478.0 473.0,1471.9 474.5,1465.8 476.0,1459.8 477.5,1453.9 479.0,1448.0 480.5,1442.2 482.0,1436.5 483.5,1430.9 485.0,1425.5 486.5,1420.1 488.0,1414.9 489.5,1409.9 491.0,1405.1 492.5,1400.4 494.0,1395.9 495.5,1391.7 497.0,1387.6 498.5,1383.8 500.0,1380.3 501.5,1377.0 503.0,1373.9 504.5,1371.2 506.0,1368.7 507.5,1366.5 509.0,1364.6 510.5,1363.0 512.0,1361.7 513.5,1360.7 515.0,1360.0 516.5,1359.6 518.0,1359.6 519.5,1359.8 521.0,1360.4 522.5,1361.3 524.0,1362.5 525.5,1364.0 527.0,1365.8 528.5,1368.0 530.0,1370.4 531.5,1373.0 533.0,1376.0 534.5,1379.2 536.0,1382.7 537.5,1386.4 539.0,1390.4 540.5,1394.6 542.0,1399.0 543.5,1403.6 545.0,1408.4 546.5,1413.4 548.0,1418.5 549.5,1423.8 551.0,1429.3 552.5,1434.8 554.0,1440.5 555.5,1446.2 557.0,1452.1 558.5,1458.0 560.0,1464.0 561.5,1470.1 563.0,1476.1 564.5,1482.2 566.0,1488.3 567.5,1494.5 569.0,1500.6 570.5,1506.6 572.0,1512.7 573.5,1518.7 575.0,1524.6 576.5,1530.5 578.0,1536.4 579.5,1542.1 581.0,1547.8 582.5,1553.4 584.0,1558.8 585.5,1564.2 587.0,1569.5 588.5,1574.6 590.0,1579.7 591.5,1584.6 593.0,1589.4 594.5,1594.1 596.0,1598.6 597.5,1603.0 599.0,1607.3 600.5,1611.4 602.0,1615.4 603.5,1619.3 605.0,1623.0 606.5,1626.6 608.0,1630.1 609.5,1633.4 611.0,1636.6 612.5,1639.6 614.0,1642.6 615.5,1645.4 617.0,1648.1 618.5,1650.6 620.0,1653.1 621.5,1655.4 623.0,1657.7 624.5,1659.8 626.0,1661.8 627.5,1663.7 629.0,1665.5 630.5,1667.2 632.0,1668.8 633.5,1670.3 635.0,1671.8 636.5,1673.1 638.0,1674.4 639.5,1675.6 641.0,1676.8 642.5,1677.8 644.0,1678.8 645.5,1679.8 647.0,1680.7 648.5,1681.5 650.0,1682.2 651.5,1683.0 653.0,1683.6 654.5,1684.3 656.0,1684.8 657.5,1685.4 659.0,1685.9 660.5,1686.4 662.0,1686.8 663.5,1687.2 665.0,1687.6 666.5,1687.9 668.0,1688.3 669.5,1688.6 671.0,1688.8 672.5,1689.1 674.0,1689.3 675.5,1689.5 677.0,1689.7 678.5,1689.9 680.0,1690.1 681.5,1690.3 683.0,1690.4 684.5,1690.5 686.0,1690.7 687.5,1690.8 689.0,1690.9 690.5,1691.0 692.0,1691.1 693.5,1691.2 695.0,1691.2 696.5,1691.3 698.0,1691.4 699.5,1691.4 701.0,1691.5 702.5,1691.6 704.0,1691.6 705.5,1691.7 707.0,1691.7 708.5,1691.7 710.0,1691.8 711.5,1691.8 713.0,1691.8 714.5,1691.9 716.0,1691.9 717.5,1691.9 719.0,1692.0 720.5,1692.0 722.0,1692.0 723.5,1692.0 725.0,1692.0 726.5,1692.1 728.0,1692.1 729.5,1692.1 731.0,1692.1 732.5,1692.1 734.0,1692.2 735.5,1692.2 737.0,1692.2 738.5,1692.2 740.0,1692.2 741.5,1692.2 743.0,1692.2 744.5,1692.3 746.0,1692.3 747.5,1692.3 749.0,1692.3 750.5,1692.3 752.0,1692.3 752.0,1693.7 750.5,1693.7 749.0,1693.7 747.5,1693.7 746.0,1693.7 744.5,1693.7 743.0,1693.7 741.5,1693.7 740.0,1693.7 738.5,1693.7 737.0,1693.7 735.5,1693.7 734.0,1693.7 732.5,1693.7 731.0,1693.7 729.5,1693.7 728.0,1693.7 726.5,1693.7 725.0,1693.7 723.5,1693.7 722.0,1693.7 720.5,1693.7 719.0,1693.7 717.5,1693.7 716.0,1693.7 714.5,1693.7 713.0,1693.7 711.5,1693.7 710.0,1693.7 708.5,1693.7 707.0,1693.7 705.5,1693.7 704.0,1693.7 702.5,1693.7 701.0,1693.7 699.5,1693.7 698.0,1693.7 696.5,1693.7 695.0,1693.7 693.5,1693.7 692.0,1693.7 690.5,1693.7 689.0,1693.7 687.5,1693.7 686.0,1693.7 684.5,1693.7 683.0,1693.7 681.5,1693.7 680.0,1693.7 678.5,1693.7 677.0,1693.7 675.5,1693.7 674.0,1693.7 672.5,1693.7 671.0,1693.7 669.5,1693.7 668.0,1693.7 666.5,1693.7 665.0,1693.7 663.5,1693.7 662.0,1693.7 660.5,1693.7 659.0,1693.7 657.5,1693.7 656.0,1693.7 654.5,1693.7 653.0,1693.7 651.5,1693.7 650.0,1693.7 648.5,1693.7 647.0,1693.7 645.5,1693.7 644.0,1693.7 642.5,1693.7 641.0,1693.7 639.5,1693.7 638.0,1693.7 636.5,1693.7 635.0,1693.7 633.5,1693.7 632.0,1693.7 630.5,1693.7 629.0,1693.7 627.5,1693.7 626.0,1693.7 624.5,1693.7 623.0,1693.7 621.5,1693.7 620.0,1693.7 618.5,1693.7 617.0,1693.7 615.5,1693.7 614.0,1693.7 612.5,1693.7 611.0,1693.7 609.5,1693.7 608.0,1693.7 606.5,1693.7 605.0,1693.7 603.5,1693.7 602.0,1693.7 600.5,1693.7 599.0,1693.7 597.5,1693.7 596.0,1693.7 594.5,1693.7 593.0,1693.7 591.5,1693.7 590.0,1693.7 588.5,1693.7 587.0,1693.7 585.5,1693.7 584.0,1693.7 582.5,1693.7 581.0,1693.7 579.5,1693.7 578.0,1693.7 576.5,1693.7 575.0,1693.7 573.5,1693.7 572.0,1693.7 570.5,1693.7 569.0,1693.7 567.5,1693.7 566.0,1693.7 564.5,1693.6 563.0,1693.6 561.5,1693.6 560.0,1693.6 558.5,1693.6 557.0,1693.6 555.5,1693.6 554.0,1693.6 552.5,1693.6 551.0,1693.6 549.5,1693.6 548.0,1693.6 546.5,1693.6 545.0,1693.6 543.5,1693.6 542.0,1693.6 540.5,1693.6 539.0,1693.6 537.5,1693.6 536.0,1693.6 534.5,1693.6 533.0,1693.6 531.5,1693.6 530.0,1693.6 528.5,1693.6 527.0,1693.6 525.5,1693.6 524.0,1693.6 522.5,1693.6 521.0,1693.6 519.5,1693.6 518.0,1693.6 516.5,1693.6 515.0,1693.5 513.5,1693.5 512.0,1693.5 510.5,1693.5 509.0,1693.5 507.5,1693.5 506.0,1693.5 504.5,1693.5 503.0,1693.5 501.5,1693.5 500.0,1693.5 498.5,1693.5 497.0,1693.5 495.5,1693.5 494.0,1693.5 492.5,1693.5 491.0,1693.5 489.5,1693.5 488.0,1693.5 486.5,1693.5 485.0,1693.5 483.5,1693.5 482.0,1693.5 480.5,1693.5 479.0,1693.5 477.5,1693.5 476.0,1693.5 474.5,1693.4 473.0,1693.4 471.5,1693.4 470.0,1693.4 468.5,1693.4 467.0,1693.4 465.5,1693.4 464.0,1693.4 462.5,1693.4 461.0,1693.4 459.5,1693.4 458.0,1693.4 456.5,1693.4 455.0,1693.4 453.5,1693.4 452.0,1693.4 450.5,1693.4 449.0,1693.4 447.5,1693.4 446.0,1693.4 444.5,1693.4 443.0,1693.4 441.5,1693.4 440.0,1693.4 438.5,1693.4 437.0,1693.4 435.5,1693.4 434.0,1693.4 432.5,1693.4 431.0,1693.4 429.5,1693.4 428.0,1693.4 426.5,1693.4 425.0,1693.4 423.5,1693.4 422.0,1693.4 420.5,1693.4 419.0,1693.4 417.5,1693.4 416.0,1693.4 414.5,1693.4 413.0,1693.3 411.5,1693.3 410.0,1693.3 408.5,1693.3 407.0,1693.3 405.5,1693.3 404.0,1693.3 402.5,1693.3 401.0,1693.3 399.5,1693.3 398.0,1693.3 396.5,1693.3 395.0,1693.3 393.5,1693.3 392.0,1693.3 390.5,1693.3 389.0,1693.3 387.5,1693.3 386.0,1693.3 384.5,1693.3 383.0,1693.3 381.5,1693.3 380.0,1693.3 378.5,1693.3 377.0,1693.3 375.5,1693.3 374.0,1693.3 372.5,1693.3 371.0,1693.3 369.5,1693.3 368.0,1693.3 366.5,1693.3 365.0,1693.3 363.5,1693.3 362.0,1693.3 360.5,1693.3 359.0,1693.3 357.5,1693.3 356.0,1693.3 354.5,1693.3 353.0,1693.3 351.5,1693.3 350.0,1693.3 348.5,1693.3 347.0,1693.3 345.5,1693.3 344.0,1693.3 342.5,1693.3 341.0,1693.3 339.5,1693.3 338.0,1693.3 336.5,1693.3 335.0,1693.3 333.5,1693.3 332.0,1693.3 330.5,1693.3 329.0,1693.3 327.5,1693.3 326.0,1693.3 324.5,1693.3 323.0,1693.3 321.5,1693.3 320.0,1693.3 318.5,1693.3 317.0,1693.3 315.5,1693.3 314.0,1693.3 312.5,1693.3 311.0,1693.3 309.5,1693.3 308.0,1693.3 306.5,1693.3 305.0,1693.3 303.5,1693.3 302.0,1693.3 300.5,1693.3 299.0,1693.3 297.5,1693.3 296.0,1693.3 294.5,1693.3 293.0,1693.3 291.5,1693.3 290.0,1693.3 288.5,1693.3 287.0,1693.3 285.5,1693.3 284.0,1693.3 282.5,1693.3 281.0,1693.3 279.5,1693.3 278.0,1693.3 276.5,1693.3 275.0,1693.3 273.5,1693.3 272.0,1693.3 270.5,1693.3 269.0,1693.3 267.5,1693.3 266.0,1693.3 264.5,1693.3 263.0,1693.3 261.5,1693.3 260.0,1693.3 258.5,1693.3 257.0,1693.3 255.5,1693.3 254.0,1693.3 252.5,1693.3 251.0,1693.3 249.5,1693.3 248.0,1693.3 246.5,1693.3 245.0,1693.3 243.5,1693.3 242.0,1693.3 240.5,1693.3 239.0,1693.3 237.5,1693.3 236.0,1693.3 234.5,1693.3 233.0,1693.3 231.5,1693.3 230.0,1693.3 228.5,1693.3 227.0,1693.3 225.5,1693.3 224.0,1693.3 222.5,1693.3 221.0,1693.3 219.5,1693.3 218.0,1693.3 216.5,1693.3 215.0,1693.3 213.5,1693.3 212.0,1693.3 210.5,1693.3 209.0,1693.3 207.5,1693.3 206.0,1693.3 204.5,1693.3 203.0,1693.3 201.5,1693.3 200.0,1693.3 198.5,1693.3 197.0,1693.3 195.5,1693.3Z" fill="#c0c0c0"/>
<path d="M195.5,1691.7 197.0,1691.7 198.5,1691.7 200.0,1691.7 201.5,1691.6 203.0,1691.6 204.5,1691.6 206.0,1691.6 207.5,1691.6 209.0,1691.6 210.5,1691.6 212.0,1691.5 213.5,1691.5 215.0,1691.5 216.5,1691.5 218.0,1691.5 219.5,1691.5 221.0,1691.4 222.5,1691.4 224.0,1691.4 225.5,1691.4 227.0,1691.4 228.5,1691.3 230.0,1691.3 231.5,1691.3 233.0,1691.3 234.5,1691.3 236.0,1691.2 237.5,1691.2 239.0,1691.2 240.5,1691.2 242.0,1691.1 243.5,1691.1 245.0,1691.1 246.5,1691.1 248.0,1691.0 249.5,1691.0 251.0,1691.0 252.5,1690.9 254.0,1690.9 255.5,1690.9 257.0,1690.8 258.5,1690.8 260.0,1690.7 261.5,1690.7 263.0,1690.7 264.5,1690.6 266.0,1690.6 267.5,1690.5 269.0,1690.4 270.5,1690.4 272.0,1690.3 273.5,1690.3 275.0,1690.2 276.5,1690.1 278.0,1690.0 279.5,1690.0 281.0,1689.9 282.5,1689.8 284.0,1689.7 285.5,1689.6 287.0,1689.5 288.5,1689.3 290.0,1689.2 291.5,1689.1 293.0,1688.9 294.5,1688.8 296.0,1688.6 297.5,1688.4 299.0,1688.3 300.5,1688.1 302.0,1687.8 303.5,1687.6 305.0,1687.4 306.5,1687.1 308.0,1686.8 309.5,1686.5 311.0,1686.2 312.5,1685.9 314.0,1685.5 315.5,1685.2 317.0,1684.8 318.5,1684.3 320.0,1683.9 321.5,1683.4 323.0,1682.9 324.5,1682.4 326.0,1681.8 327.5,1681.2 329.0,1680.6 330.5,1679.9 332.0,1679.2 333.5,1678.5 335.0,1677.7 336.5,1676.9 338.0,1676.1 339.5,1675.2 341.0,1674.2 342.5,1673.2 344.0,1672.2 345.5,1671.1 347.0,1670.0 348.5,1668.8 350.0,1667.6 351.5,1666.3 353.0,1665.0 354.5,1663.7 356.0,1662.2 357.5,1660.8 359.0,1659.3 360.5,1657.7 362.0,1656.1 363.5,1654.4 365.0,1652.7 366.5,1650.9 368.0,1649.1 369.5,1647.2 371.0,1645.3 372.5,1643.3 374.0,1641.3 375.5,1639.3 377.0,1637.2 378.5,1635.1 380.0,1633.0 381.5,1630.8 383.0,1628.6 384.5,1626.3 386.0,1624.1 387.5,1621.8 389.0,1619.5 390.5,1617.2 392.0,1614.9 393.5,1612.6 395.0,1610.2 396.5,1607.9 398.0,1605.6 399.5,1603.3 401.0,1601.1 402.5,1598.8 404.0,1596.6 405.5,1594.4 407.0,1592.3 408.5,1590.2 410.0,1588.2 411.5,1586.2 413.0,1584.3 414.5,1582.4 416.0,1580.6 417.5,1578.9 419.0,1577.3 420.5,1575.8 422.0,1574.4 423.5,1573.1 425.0,1571.9 426.5,1570.8 428.0,1569.8 429.5,1568.9 431.0,1568.1 432.5,1567.5 434.0,1567.0 435.5,1566.6 437.0,1566.4 438.5,1566.3 440.0,1566.3 441.5,1566.5 443.0,1566.8 444.5,1567.2 446.0,1567.7 447.5,1568.4 449.0,1569.2 450.5,1570.1 452.0,1571.1 453.5,1572.3 455.0,1573.6 456.5,1574.9 458.0,1576.4 459.5,1577.9 461.0,1579.6 462.5,1581.3 464.0,1583.1 465.5,1585.0 467.0,1586.9 468.5,1588.9 470.0,1591.0 471.5,1593.1 473.0,1595.3 474.5,1597.5 476.0,1599.7 477.5,1601.9 479.0,1604.2 480.5,1606.5 482.0,1608.8 483.5,1611.1 485.0,1613.5 486.5,1615.8 488.0,1618.1 489.5,1620.4 491.0,1622.7 492.5,1625.0 494.0,1627.2 495.5,1629.5 497.0,1631.7 498.5,1633.9 500.0,1636.0 501.5,1638.1 503.0,1640.2 504.5,1642.2 506.0,1644.2 507.5,1646.1 509.0,1648.0 510.5,1649.9 512.0,1651.7 513.5,1653.5 515.0,1655.2 516.5,1656.8 518.0,1658.4 519.5,1660.0 521.0,1661.5 522.5,1663.0 524.0,1664.4 525.5,1665.7 527.0,1667.0 528.5,1668.3 530.0,1669.5 531.5,1670.7 533.0,1671.8 534.5,1672.8 536.0,1673.9 537.5,1674.8 539.0,1675.8 540.5,1676.6 542.0,1677.5 543.5,1678.3 545.0,1679.1 546.5,1679.8 548.0,1680.5 549.5,1681.1 551.0,1681.7 552.5,1682.3 554.0,1682.9 555.5,1683.4 557.0,1683.9 558.5,1684.4 560.0,1684.8 561.5,1685.2 563.0,1685.6 564.5,1686.0 566.0,1686.4 567.5,1686.7 569.0,1687.0 570.5,1687.3 572.0,1687.6 573.5,1687.8 575.0,1688.0 576.5,1688.3 578.0,1688.5 579.5,1688.7 581.0,1688.9 582.5,1689.0 584.0,1689.2 585.5,1689.4 587.0,1689.5 588.5,1689.6 590.0,1689.8 591.5,1689.9 593.0,1690.0 594.5,1690.1 596.0,1690.2 597.5,1690.3 599.0,1690.4 600.5,1690.5 602.0,1690.5 603.5,1690.6 605.0,1690.7 606.5,1690.7 608.0,1690.8 609.5,1690.9 611.0,1690.9 612.5,1691.0 614.0,1691.0 615.5,1691.1 617.0,1691.1 618.5,1691.1 620.0,1691.2 621.5,1691.2 623.0,1691.3 624.5,1691.3 626.0,1691.3 627.5,1691.4 629.0,1691.4 630.5,1691.4 632.0,1691.5 633.5,1691.5 635.0,1691.5 636.5,1691.5 638.0,1691.6 639.5,1691.6 641.0,1691.6 642.5,1691.6 644.0,1691.7 645.5,1691.7 647.0,1691.7 648.5,1691.7 650.0,1691.7 651.5,1691.8 653.0,1691.8 654.5,1691.8 656.0,1691.8 657.5,1691.8 659.0,1691.9 660.5,1691.9 662.0,1691.9 663.5,1691.9 665.0,1691.9 666.5,1691.9 668.0,1692.0 669.5,1692.0 671.0,1692.0 672.5,1692.0 674.0,1692.0 675.5,1692.0 677.0,1692.0 678.5,1692.1 680.0,1692.1 681.5,1692.1 683.0,1692.1 684.5,1692.1 686.0,1692.1 687.5,1692.1 689.0,1692.1 690.5,1692.2 692.0,1692.2 693.5,1692.2 695.0,1692.2 696.5,1692.2 698.0,1692.2 699.5,1692.2 701.0,1692.2 702.5,1692.2 704.0,1692.3 705.5,1692.3 707.0,1692.3 708.5,1692.3 710.0,1692.3 711.5,1692.3 713.0,1692.3 714.5,1692.3 716.0,1692.3 717.5,1692.3 719.0,1692.4 720.5,1692.4 722.0,1692.4 723.5,1692.4 725.0,1692.4 726.5,1692.4 728.0,1692.4 729.5,1692.4 731.0,1692.4 732.5,1692.4 734.0,1692.4 735.5,1692.4 737.0,1692.4 738.5,1692.5 740.0,1692.5 741.5,1692.5 743.0,1692.5 744.5,1692.5 746.0,1692.5 747.5,1692.5 749.0,1692.5 750.5,1692.5 752.0,1692.5 752.0,1693.7 750.5,1693.7 749.0,1693.7 747.5,1693.7 746.0,1693.7 744.5,1693.7 743.0,1693.7 741.5,1693.7 740.0,1693.7 738.5,1693.7 737.0,1693.7 735.5,1693.7 734.0,1693.7 732.5,1693.7 731.0,1693.7 729.5,1693.7 728.0,1693.7 726.5,1693.7 725.0,1693.7 723.5,1693.7 722.0,1693.7 720.5,1693.7 719.0,1693.7 717.5,1693.7 716.0,1693.7 714.5,1693.7 713.0,1693.7 711.5,1693.7 710.0,1693.7 708.5,1693.7 707.0,1693.7 705.5,1693.7 704.0,1693.7 702.5,1693.7 701.0,1693.7 699.5,1693.7 698.0,1693.7 696.5,1693.7 695.0,1693.7 693.5,1693.7 692.0,1693.7 690.5,1693.7 689.0,1693.7 687.5,1693.7 686.0,1693.7 684.5,1693.7 683.0,1693.7 681.5,1693.7 680.0,1693.7 678.5,1693.7 677.0,1693.7 675.5,1693.7 674.0,1693.7 672.5,1693.7 671.0,1693.7 669.5,1693.7 668.0,1693.7 666.5,1693.7 665.0,1693.7 663.5,1693.7 662.0,1693.7 660.5,1693.7 659.0,1693.7 657.5,1693.7 656.0,1693.7 654.5,1693.7 653.0,1693.7 651.5,1693.7 650.0,1693.7 648.5,1693.7 647.0,1693.7 645.5,1693.7 644.0,1693.7 642.5,1693.7 641.0,1693.7 639.5,1693.7 638.0,1693.7 636.5,1693.7 635.0,1693.7 633.5,1693.7 632.0,1693.7 630.5,1693.7 629.0,1693.7 627.5,1693.7 626.0,1693.7 624.5,1693.7 623.0,1693.7 621.5,1693.7 620.0,1693.7 618.5,1693.7 617.0,1693.7 615.5,1693.7 614.0,1693.7 612.5,1693.7 611.0,1693.7 609.5,1693.7 608.0,1693.7 606.5,1693.7 605.0,1693.7 603.5,1693.7 602.0,1693.7 600.5,1693.7 599.0,1693.7 597.5,1693.7 596.0,1693.7 594.5,1693.7 593.0,1693.7 591.5,1693.7 590.0,1693.7 588.5,1693.7 587.0,1693.7 585.5,1693.7 584.0,1693.7 582.5,1693.7 581.0,1693.7 579.5,1693.7 578.0,1693.7 576.5,1693.7 575.0,1693.7 573.5,1693.7 572.0,1693.7 570.5,1693.7 569.0,1693.7 567.5,1693.7 566.0,1693.7 564.5,1693.6 563.0,1693.6 561.5,1693.6 560.0,1693.6 558.5,1693.6 557.0,1693.6 555.5,1693.6 554.0,1693.6 552.5,1693.6 551.0,1693.6 549.5,1693.6 548.0,1693.6 546.5,1693.6 545.0,1693.6 543.5,1693.6 542.0,1693.6 540.5,1693.6 539.0,1693.6 537.5,1693.6 536.0,1693.6 534.5,1693.6 533.0,1693.6 531.5,1693.6 530.0,1693.6 528.5,1693.6 527.0,1693.6 525.5,1693.6 524.0,1693.6 522.5,1693.6 521.0,1693.6 519.5,1693.6 518.0,1693.6 516.5,1693.6 515.0,1693.5 513.5,1693.5 512.0,1693.5 510.5,1693.5 509.0,1693.5 507.5,1693.5 506.0,1693.5 504.5,1693.5 503.0,1693.5 501.5,1693.5 500.0,1693.5 498.5,1693.5 497.0,1693.5 495.5,1693.5 494.0,1693.5 492.5,1693.5 491.0,1693.5 489.5,1693.5 488.0,1693.5 486.5,1693.5 485.0,1693.5 483.5,1693.5 482.0,1693.5 480.5,1693.5 479.0,1693.5 477.5,1693.5 476.0,1693.5 474.5,1693.4 473.0,1693.4 471.5,1693.4 470.0,1693.4 468.5,1693.4 467.0,1693.4 465.5,1693.4 464.0,1693.4 462.5,1693.4 461.0,1693.4 459.5,1693.4 458.0,1693.4 456.5,1693.4 455.0,1693.4 453.5,1693.4 452.0,1693.4 450.5,1693.4 449.0,1693.4 447.5,1693.4 446.0,1693.4 444.5,1693.4 443.0,1693.4 441.5,1693.4 440.0,1693.4 438.5,1693.4 437.0,1693.4 435.5,1693.4 434.0,1693.4 432.5,1693.4 431.0,1693.4 429.5,1693.4 428.0,1693.4 426.5,1693.4 425.0,1693.4 423.5,1693.4 422.0,1693.4 420.5,1693.4 419.0,1693.4 417.5,1693.4 416.0,1693.4 414.5,1693.4 413.0,1693.3 411.5,1693.3 410.0,1693.3 408.5,1693.3 407.0,1693.3 405.5,1693.3 404.0,1693.3 402.5,1693.3 401.0,1693.3 399.5,1693.3 398.0,1693.3 396.5,1693.3 395.0,1693.3 393.5,1693.3 392.0,1693.3 390.5,1693.3 389.0,1693.3 387.5,1693.3 386.0,1693.3 384.5,1693.3 383.0,1693.3 381.5,1693.3 380.0,1693.3 378.5,1693.3 377.0,1693.3 375.5,1693.3 374.0,1693.3 372.5,1693.3 371.0,1693.3 369.5,1693.3 368.0,1693.3 366.5,1693.3 365.0,1693.3 363.5,1693.3 362.0,1693.3 360.5,1693.3 359.0,1693.3 357.5,1693.3 356.0,1693.3 354.5,1693.3 353.0,1693.3 351.5,1693.3 350.0,1693.3 348.5,1693.3 347.0,1693.3 345.5,1693.3 344.0,1693.3 342.5,1693.3 341.0,1693.3 339.5,1693.3 338.0,1693.3 336.5,1693.3 335.0,1693.3 333.5,1693.3 332.0,1693.3 330.5,1693.3 329.0,1693.3 327.5,1693.3 326.0,1693.3 324.5,1693.3 323.0,1693.3 321.5,1693.3 320.0,1693.3 318.5,1693.3 317.0,1693.3 315.5,1693.3 314.0,1693.3 312.5,1693.3 311.0,1693.3 309.5,1693.3 308.0,1693.3 306.5,1693.3 305.0,1693.3 303.5,1693.3 302.0,1693.3 300.5,1693.3 299.0,1693.3 297.5,1693.3 296.0,1693.3 294.5,1693.3 293.0,1693.3 291.5,1693.3 290.0,1693.3 288.5,1693.3 287.0,1693.3 285.5,1693.3 284.0,1693.3 282.5,1693.3 281.0,1693.3 279.5,1693.3 278.0,1693.3 276.5,1693.3 275.0,1693.3 273.5,1693.3 272.0,1693.3 270.5,1693.3 269.0,1693.3 267.5,1693.3 266.0,1693.3 264.5,1693.3 263.0,1693.3 261.5,1693.3 260.0,1693.3 258.5,1693.3 257.0,1693.3 255.5,1693.3 254.0,1693.3 252.5,1693.3 251.0,1693.3 249.5,1693.3 248.0,1693.3 246.5,1693.3 245.0,1693.3 243.5,1693.3 242.0,1693.3 240.5,1693.3 239.0,1693.3 237.5,1693.3 236.0,1693.3 234.5,1693.3 233.0,1693.3 231.5,1693.3 230.0,1693.3 228.5,1693.3 227.0,1693.3 225.5,1693.3 224.0,1693.3 222.5,1693.3 221.0,1693.3 219.5,1693.3 218.0,1693.3 216.5,1693.3 215.0,1693.3 213.5,1693.3 212.0,1693.3 210.5,1693.3 209.0,1693.3 207.5,1693.3 206.0,1693.3 204.5,1693.3 203.0,1693.3 201.5,1693.3 200.0,1693.3 198.5,1693.3 197.0,1693.3 195.5,1693.3Z" fill="#808080"/>
<path d="M195.5,1692.5 197.0,1692.4 198.5,1692.4 200.0,1692.4 201.5,1692.4 203.0,1692.4 204.5,1692.3 206.0,1692.3 207.5,1692.3 209.0,1692.3 210.5,1692.2 212.0,1692.2 213.5,1692.2 215.0,1692.1 216.5,1692.1 218.0,1692.1 219.5,1692.0 221.0,1692.0 222.5,1691.9 224.0,1691.9 225.5,1691.9 227.0,1691.8 228.5,1691.8 230.0,1691.7 231.5,1691.6 233.0,1691.6 234.5,1691.5 236.0,1691.4 237.5,1691.4 239.0,1691.3 240.5,1691.2 242.0,1691.2 243.5,1691.1 245.0,1691.0 246.5,1690.9 248.0,1690.8 249.5,1690.7 251.0,1690.6 252.5,1690.5 254.0,1690.4 255.5,1690.3 257.0,1690.2 258.5,1690.1 260.0,1690.0 261.5,1689.8 263.0,1689.7 264.5,1689.6 266.0,1689.5 267.5,1689.3 269.0,1689.2 270.5,1689.0 272.0,1688.9 273.5,1688.8 275.0,1688.6 276.5,1688.4 278.0,1688.3 279.5,1688.1 281.0,1688.0 282.5,1687.8 284.0,1687.6 285.5,1687.5 287.0,1687.3 288.5,1687.1 290.0,1687.0 291.5,1686.8 293.0,1686.6 294.5,1686.4 296.0,1686.3 297.5,1686.1 299.0,1685.9 300.5,1685.7 302.0,1685.5 303.5,1685.4 305.0,1685.2 306.5,1685.0 308.0,1684.8 309.5,1684.7 311.0,1684.5 312.5,1684.3 314.0,1684.2 315.5,1684.0 317.0,1683.9 318.5,1683.7 320.0,1683.6 321.5,1683.4 323.0,1683.3 324.5,1683.1 326.0,1683.0 327.5,1682.9 329.0,1682.8 330.5,1682.6 332.0,1682.5 333.5,1682.4 335.0,1682.3 336.5,1682.3 338.0,1682.2 339.5,1682.1 341.0,1682.0 342.5,1682.0 344.0,1681.9 345.5,1681.9 347.0,1681.9 348.5,1681.8 350.0,1681.8 351.5,1681.8 353.0,1681.8 354.5,1681.8 356.0,1681.8 357.5,1681.9 359.0,1681.9 360.5,1682.0 362.0,1682.0 363.5,1682.1 365.0,1682.1 366.5,1682.2 368.0,1682.3 369.5,1682.4 371.0,1682.5 372.5,1682.6 374.0,1682.7 375.5,1682.8 377.0,1682.9 378.5,1683.1 380.0,1683.2 381.5,1683.3 383.0,1683.5 384.5,1683.6 386.0,1683.8 387.5,1683.9 389.0,1684.1 390.5,1684.3 392.0,1684.4 393.5,1684.6 395.0,1684.8 396.5,1684.9 398.0,1685.1 399.5,1685.3 401.0,1685.5 402.5,1685.6 404.0,1685.8 405.5,1686.0 407.0,1686.2 408.5,1686.4 410.0,1686.5 411.5,1686.7 413.0,1686.9 414.5,1687.1 416.0,1687.2 417.5,1687.4 419.0,1687.6 420.5,1687.8 422.0,1687.9 423.5,1688.1 425.0,1688.2 426.5,1688.4 428.0,1688.6 429.5,1688.7 431.0,1688.9 432.5,1689.0 434.0,1689.2 435.5,1689.3 437.0,1689.4 438.5,1689.6 440.0,1689.7 441.5,1689.8 443.0,1690.0 444.5,1690.1 446.0,1690.2 447.5,1690.3 449.0,1690.4 450.5,1690.6 452.0,1690.7 453.5,1690.8 455.0,1690.9 456.5,1691.0 458.0,1691.0 459.5,1691.1 461.0,1691.2 462.5,1691.3 464.0,1691.4 465.5,1691.5 467.0,1691.5 468.5,1691.6 470.0,1691.7 471.5,1691.7 473.0,1691.8 474.5,1691.9 476.0,1691.9 477.5,1692.0 479.0,1692.0 480.5,1692.1 482.0,1692.1 483.5,1692.2 485.0,1692.2 486.5,1692.3 488.0,1692.3 489.5,1692.3 491.0,1692.4 492.5,1692.4 494.0,1692.4 495.5,1692.5 497.0,1692.5 498.5,1692.5 500.0,1692.6 501.5,1692.6 503.0,1692.6 504.5,1692.6 506.0,1692.7 507.5,1692.7 509.0,1692.7 510.5,1692.7 512.0,1692.7 513.5,1692.8 515.0,1692.8 516.5,1692.8 518.0,1692.8 519.5,1692.8 521.0,1692.8 522.5,1692.8 524.0,1692.9 525.5,1692.9 527.0,1692.9 528.5,1692.9 530.0,1692.9 531.5,1692.9 533.0,1692.9 534.5,1692.9 536.0,1692.9 537.5,1692.9 539.0,1693.0 540.5,1693.0 542.0,1693.0 543.5,1693.0 545.0,1693.0 546.5,1693.0 548.0,1693.0 549.5,1693.0 551.0,1693.0 552.5,1693.0 554.0,1693.0 555.5,1693.0 557.0,1693.0 558.5,1693.0 560.0,1693.0 561.5,1693.0 563.0,1693.0 564.5,1693.0 566.0,1693.1 567.5,1693.1 569.0,1693.1 570.5,1693.1 572.0,1693.1 573.5,1693.1 575.0,1693.1 576.5,1693.1 578.0,1693.1 579.5,1693.1 581.0,1693.1 582.5,1693.1 584.0,1693.1 585.5,1693.1 587.0,1693.1 588.5,1693.1 590.0,1693.1 591.5,1693.1 593.0,1693.1 594.5,1693.1 596.0,1693.1 597.5,1693.1 599.0,1693.1 600.5,1693.1 602.0,1693.1 603.5,1693.1 605.0,1693.1 606.5,1693.1 608.0,1693.1 609.5,1693.1 611.0,1693.1 612.5,1693.1 614.0,1693.1 615.5,1693.1 617.0,1693.1 618.5,1693.1 620.0,1693.1 621.5,1693.1 623.0,1693.1 624.5,1693.1 626.0,1693.1 627.5,1693.1 629.0,1693.1 630.5,1693.1 632.0,1693.1 633.5,1693.1 635.0,1693.1 636.5,1693.1 638.0,1693.1 639.5,1693.1 641.0,1693.1 642.5,1693.1 644.0,1693.1 645.5,1693.1 647.0,1693.1 648.5,1693.1 650.0,1693.1 651.5,1693.1 653.0,1693.1 654.5,1693.1 656.0,1693.1 657.5,1693.2 659.0,1693.2 660.5,1693.2 662.0,1693.2 663.5,1693.2 665.0,1693.2 666.5,1693.2 668.0,1693.2 669.5,1693.2 671.0,1693.2 672.5,1693.2 674.0,1693.2 675.5,1693.2 677.0,1693.2 678.5,1693.2 680.0,1693.2 681.5,1693.2 683.0,1693.2 684.5,1693.2 686.0,1693.2 687.5,1693.2 689.0,1693.2 690.5,1693.2 692.0,1693.2 693.5,1693.2 695.0,1693.2 696.5,1693.2 698.0,1693.2 699.5,1693.2 701.0,1693.2 702.5,1693.2 704.0,1693.2 705.5,1693.2 707.0,1693.2 708.5,1693.2 710.0,1693.2 711.5,1693.2 713.0,1693.2 714.5,1693.2 716.0,1693.2 717.5,1693.2 719.0,1693.2 720.5,1693.2 722.0,1693.2 723.5,1693.2 725.0,1693.2 726.5,1693.2 728.0,1693.2 729.5,1693.2 731.0,1693.2 732.5,1693.2 734.0,1693.2 735.5,1693.2 737.0,1693.2 738.5,1693.2 740.0,1693.2 741.5,1693.2 743.0,1693.2 744.5,1693.2 746.0,1693.2 747.5,1693.2 749.0,1693.2 750.5,1693.2 752.0,1693.2 752.0,1693.7 750.5,1693.7 749.0,1693.7 747.5,1693.7 746.0,1693.7 744.5,1693.7 743.0,1693.7 741.5,1693.7 740.0,1693.7 738.5,1693.7 737.0,1693.7 735.5,1693.7 734.0,1693.7 732.5,1693.7 731.0,1693.7 729.5,1693.7 728.0,1693.7 726.5,1693.7 725.0,1693.7 723.5,1693.7 722.0,1693.7 720.5,1693.7 719.0,1693.7 717.5,1693.7 716.0,1693.7 714.5,1693.7 713.0,1693.7 711.5,1693.7 710.0,1693.7 708.5,1693.7 707.0,1693.7 705.5,1693.7 704.0,1693.7 702.5,1693.7 701.0,1693.7 699.5,1693.7 698.0,1693.7 696.5,1693.7 695.0,1693.7 693.5,1693.7 692.0,1693.7 690.5,1693.7 689.0,1693.7 687.5,1693.7 686.0,1693.7 684.5,1693.7 683.0,1693.7 681.5,1693.7 680.0,1693.7 678.5,1693.7 677.0,1693.7 675.5,1693.7 674.0,1693.7 672.5,1693.7 671.0,1693.7 669.5,1693.7 668.0,1693.7 666.5,1693.7 665.0,1693.7 663.5,1693.7 662.0,1693.7 660.5,1693.7 659.0,1693.7 657.5,1693.7 656.0,1693.7 654.5,1693.7 653.0,1693.7 651.5,1693.7 650.0,1693.7 648.5,1693.7 647.0,1693.7 645.5,1693.7 644.0,1693.7 642.5,1693.7 641.0,1693.7 639.5,1693.7 638.0,1693.7 636.5,1693.7 635.0,1693.7 633.5,1693.7 632.0,1693.7 630.5,1693.7 629.0,1693.7 627.5,1693.7 626.0,1693.7 624.5,1693.7 623.0,1693.7 621.5,1693.7 620.0,1693.7 618.5,1693.7 617.0,1693.7 615.5,1693.7 614.0,1693.7 612.5,1693.7 611.0,1693.7 609.5,1693.7 608.0,1693.7 606.5,1693.7 605.0,1693.7 603.5,1693.7 602.0,1693.7 600.5,1693.7 599.0,1693.7 597.5,1693.7 596.0,1693.7 594.5,1693.7 593.0,1693.7 591.5,1693.7 590.0,1693.7 588.5,1693.7 587.0,1693.7 585.5,1693.7 584.0,1693.7 582.5,1693.7 581.0,1693.7 579.5,1693.7 578.0,1693.7 576.5,1693.7 575.0,1693.7 573.5,1693.7 572.0,1693.7 570.5,1693.7 569.0,1693.7 567.5,1693.7 566.0,1693.7 564.5,1693.6 563.0,1693.6 561.5,1693.6 560.0,1693.6 558.5,1693.6 557.0,1693.6 555.5,1693.6 554.0,1693.6 552.5,1693.6 551.0,1693.6 549.5,1693.6 548.0,1693.6 546.5,1693.6 545.0,1693.6 543.5,1693.6 542.0,1693.6 540.5,1693.6 539.0,1693.6 537.5,1693.6 536.0,1693.6 534.5,1693.6 533.0,1693.6 531.5,1693.6 530.0,1693.6 528.5,1693.6 527.0,1693.6 525.5,1693.6 524.0,1693.6 522.5,1693.6 521.0,1693.6 519.5,1693.6 518.0,1693.6 516.5,1693.6 515.0,1693.5 513.5,1693.5 512.0,1693.5 510.5,1693.5 509.0,1693.5 507.5,1693.5 506.0,1693.5 504.5,1693.5 503.0,1693.5 501.5,1693.5 500.0,1693.5 498.5,1693.5 497.0,1693.5 495.5,1693.5 494.0,1693.5 492.5,1693.5 491.0,1693.5 489.5,1693.5 488.0,1693.5 486.5,1693.5 485.0,1693.5 483.5,1693.5 482.0,1693.5 480.5,1693.5 479.0,1693.5 477.5,1693.5 476.0,1693.5 474.5,1693.4 473.0,1693.4 471.5,1693.4 470.0,1693.4 468.5,1693.4 467.0,1693.4 465.5,1693.4 464.0,1693.4 462.5,1693.4 461.0,1693.4 459.5,1693.4 458.0,1693.4 456.5,1693.4 455.0,1693.4 453.5,1693.4 452.0,1693.4 450.5,1693.4 449.0,1693.4 447.5,1693.4 446.0,1693.4 444.5,1693.4 443.0,1693.4 441.5,1693.4 440.0,1693.4 438.5,1693.4 437.0,1693.4 435.5,1693.4 434.0,1693.4 432.5,1693.4 431.0,1693.4 429.5,1693.4 428.0,1693.4 426.5,1693.4 425.0,1693.4 423.5,1693.4 422.0,1693.4 420.5,1693.4 419.0,1693.4 417.5,1693.4 416.0,1693.4 414.5,1693.4 413.0,1693.3 411.5,1693.3 410.0,1693.3 408.5,1693.3 407.0,1693.3 405.5,1693.3 404.0,1693.3 402.5,1693.3 401.0,1693.3 399.5,1693.3 398.0,1693.3 396.5,1693.3 395.0,1693.3 393.5,1693.3 392.0,1693.3 390.5,1693.3 389.0,1693.3 387.5,1693.3 386.0,1693.3 384.5,1693.3 383.0,1693.3 381.5,1693.3 380.0,1693.3 378.5,1693.3 377.0,1693.3 375.5,1693.3 374.0,1693.3 372.5,1693.3 371.0,1693.3 369.5,1693.3 368.0,1693.3 366.5,1693.3 365.0,1693.3 363.5,1693.3 362.0,1693.3 360.5,1693.3 359.0,1693.3 357.5,1693.3 356.0,1693.3 354.5,1693.3 353.0,1693.3 351.5,1693.3 350.0,1693.3 348.5,1693.3 347.0,1693.3 345.5,1693.3 344.0,1693.3 342.5,1693.3 341.0,1693.3 339.5,1693.3 338.0,1693.3 336.5,1693.3 335.0,1693.3 333.5,1693.3 332.0,1693.3 330.5,1693.3 329.0,1693.3 327.5,1693.3 326.0,1693.3 324.5,1693.3 323.0,1693.3 321.5,1693.3 320.0,1693.3 318.5,1693.3 317.0,1693.3 315.5,1693.3 314.0,1693.3 312.5,1693.3 311.0,1693.3 309.5,1693.3 308.0,1693.3 306.5,1693.3 305.0,1693.3 303.5,1693.3 302.0,1693.3 300.5,1693.3 299.0,1693.3 297.5,1693.3 296.0,1693.3 294.5,1693.3 293.0,1693.3 291.5,1693.3 290.0,1693.3 288.5,1693.3 287.0,1693.3 285.5,1693.3 284.0,1693.3 282.5,1693.3 281.0,1693.3 279.5,1693.3 278.0,1693.3 276.5,1693.3 275.0,1693.3 273.5,1693.3 272.0,1693.3 270.5,1693.3 269.0,1693.3 267.5,1693.3 266.0,1693.3 264.5,1693.3 263.0,1693.3 261.5,1693.3 260.0,1693.3 258.5,1693.3 257.0,1693.3 255.5,1693.3 254.0,1693.3 252.5,1693.3 251.0,1693.3 249.5,1693.3 248.0,1693.3 246.5,1693.3 245.0,1693.3 243.5,1693.3 242.0,1693.3 240.5,1693.3 239.0,1693.3 237.5,1693.3 236.0,1693.3 234.5,1693.3 233.0,1693.3 231.5,1693.3 230.0,1693.3 228.5,1693.3 227.0,1693.3 225.5,1693.3 224.0,1693.3 222.5,1693.3 221.0,1693.3 219.5,1693.3 218.0,1693.3 216.5,1693.3 215.0,1693.3 213.5,1693.3 212.0,1693.3 210.5,1693.3 209.0,1693.3 207.5,1693.3 206.0,1693.3 204.5,1693.3 203.0,1693.3 201.5,1693.3 200.0,1693.3 198.5,1693.3 197.0,1693.3 195.5,1693.3Z" fill="#404040"/>
</g>
<clipPath id="ccS"><rect x="899.60" y="1246.90" width="551.40" height="449.90"/></clipPath>
<clipPath id="ccSo"><rect x="897.60" y="1244.90" width="555.40" height="453.90"/></clipPath>
<g class="ci" clip-path="url(#ccSo)">
<circle cx="896.6" cy="1696.0" r="6.4"/>
<circle cx="905.3" cy="1696.0" r="6.4"/>
<circle cx="914.0" cy="1696.0" r="6.4"/>
<circle cx="922.6" cy="1696.0" r="6.4"/>
<circle cx="931.3" cy="1696.0" r="6.4"/>
<circle cx="940.0" cy="1696.0" r="6.4"/>
<circle cx="948.7" cy="1696.0" r="6.4"/>
<circle cx="957.4" cy="1696.0" r="6.4"/>
<circle cx="966.0" cy="1696.0" r="6.4"/>
<circle cx="974.7" cy="1696.0" r="6.4"/>
<circle cx="983.4" cy="1696.0" r="6.4"/>
<circle cx="992.1" cy="1696.0" r="6.4"/>
<circle cx="1000.8" cy="1696.0" r="6.4"/>
<circle cx="1009.4" cy="1696.0" r="6.4"/>
<circle cx="1018.1" cy="1696.0" r="6.4"/>
<circle cx="1026.8" cy="1696.0" r="6.4"/>
<circle cx="1035.5" cy="1696.0" r="6.4"/>
</g>
<g class="ci" clip-path="url(#ccSo)">
<circle cx="1346.0" cy="1696.0" r="6.4"/>
<circle cx="1354.7" cy="1696.0" r="6.4"/>
<circle cx="1363.4" cy="1696.0" r="6.4"/>
<circle cx="1372.0" cy="1696.0" r="6.4"/>
<circle cx="1380.7" cy="1696.0" r="6.4"/>
<circle cx="1389.4" cy="1696.0" r="6.4"/>
<circle cx="1398.1" cy="1696.0" r="6.4"/>
<circle cx="1406.8" cy="1696.0" r="6.4"/>
<circle cx="1415.4" cy="1696.0" r="6.4"/>
<circle cx="1424.1" cy="1696.0" r="6.4"/>
<circle cx="1432.8" cy="1696.0" r="6.4"/>
<circle cx="1441.5" cy="1696.0" r="6.4"/>
<circle cx="1450.2" cy="1696.0" r="6.4"/>
<circle cx="1458.8" cy="1696.0" r="6.4"/>
</g>
<g class="ci" clip-path="url(#ccSo)">
<circle cx="889.9" cy="1690.5" r="6.4"/>
<circle cx="898.6" cy="1690.3" r="6.4"/>
<circle cx="907.3" cy="1690.0" r="6.4"/>
<circle cx="916.0" cy="1689.8" r="6.4"/>
<circle cx="924.6" cy="1689.6" r="6.4"/>
<circle cx="933.3" cy="1689.3" r="6.4"/>
<circle cx="942.0" cy="1689.1" r="6.4"/>
<circle cx="950.7" cy="1688.8" r="6.4"/>
<circle cx="959.4" cy="1688.6" r="6.4"/>
<circle cx="968.0" cy="1688.4" r="6.4"/>
<circle cx="976.7" cy="1688.1" r="6.4"/>
<circle cx="985.4" cy="1687.9" r="6.4"/>
<circle cx="994.1" cy="1687.7" r="6.4"/>
<circle cx="1002.8" cy="1687.4" r="6.4"/>
<circle cx="1011.4" cy="1687.2" r="6.4"/>
<circle cx="1020.1" cy="1686.9" r="6.4"/>
<circle cx="1028.8" cy="1686.7" r="6.4"/>
<circle cx="1038.3" cy="1684.8" r="6.4"/>
<circle cx="1047.8" cy="1682.9" r="6.4"/>
<circle cx="1057.2" cy="1679.1" r="6.4"/>
<circle cx="1066.7" cy="1673.5" r="6.4"/>
<circle cx="1076.2" cy="1665.9" r="6.4"/>
<circle cx="1084.9" cy="1654.5" r="6.4"/>
<circle cx="1093.3" cy="1635.5" r="6.4"/>
<circle cx="1102.7" cy="1610.9" r="6.4"/>
<circle cx="1110.3" cy="1580.6" r="6.4"/>
<circle cx="1119.8" cy="1548.3" r="6.4"/>
<circle cx="1127.4" cy="1516.1" r="6.4"/>
<circle cx="1135.7" cy="1476.3" r="6.4"/>
<circle cx="1143.7" cy="1444.8" r="6.4"/>
<circle cx="1152.8" cy="1410.7" r="6.4"/>
<circle cx="1161.5" cy="1380.4" r="6.4"/>
<circle cx="1170.2" cy="1348.5" r="6.4"/>
<circle cx="1179.3" cy="1327.3" r="6.4"/>
<circle cx="1189.2" cy="1318.2" r="6.4"/>
<circle cx="1197.5" cy="1326.5" r="6.4"/>
<circle cx="1207.0" cy="1341.7" r="6.4"/>
<circle cx="1215.3" cy="1358.8" r="6.4"/>
<circle cx="1224.1" cy="1391.0" r="6.4"/>
<circle cx="1232.4" cy="1423.2" r="6.4"/>
<circle cx="1241.1" cy="1459.2" r="6.4"/>
<circle cx="1250.6" cy="1497.2" r="6.4"/>
<circle cx="1260.1" cy="1535.8" r="6.4"/>
<circle cx="1269.6" cy="1567.3" r="6.4"/>
<circle cx="1277.9" cy="1590.0" r="6.4"/>
<circle cx="1286.6" cy="1618.5" r="6.4"/>
<circle cx="1295.3" cy="1633.7" r="6.4"/>
<circle cx="1304.4" cy="1650.7" r="6.4"/>
<circle cx="1313.2" cy="1660.2" r="6.4"/>
<circle cx="1320.7" cy="1669.7" r="6.4"/>
<circle cx="1330.2" cy="1677.3" r="6.4"/>
<circle cx="1338.6" cy="1682.9" r="6.4"/>
<circle cx="1347.3" cy="1686.0" r="6.4"/>
<circle cx="1356.8" cy="1688.6" r="6.4"/>
<circle cx="1365.5" cy="1688.8" r="6.4"/>
<circle cx="1374.2" cy="1688.9" r="6.4"/>
<circle cx="1382.8" cy="1689.1" r="6.4"/>
<circle cx="1391.5" cy="1689.2" r="6.4"/>
<circle cx="1400.2" cy="1689.4" r="6.4"/>
<circle cx="1408.9" cy="1689.6" r="6.4"/>
<circle cx="1417.6" cy="1689.7" r="6.4"/>
<circle cx="1426.2" cy="1689.9" r="6.4"/>
<circle cx="1434.9" cy="1690.0" r="6.4"/>
<circle cx="1443.6" cy="1690.2" r="6.4"/>
<circle cx="1452.3" cy="1690.4" r="6.4"/>
</g>
<path d="M898.6,1690.0 900.1,1690.0 901.6,1690.0 903.1,1690.0 904.6,1690.0 906.1,1690.0 907.6,1690.0 909.1,1690.0 910.6,1690.0 912.1,1690.0 913.6,1690.0 915.1,1690.0 916.6,1690.0 918.1,1690.0 919.6,1690.0 921.1,1690.0 922.6,1690.0 924.1,1690.0 925.6,1690.0 927.1,1690.0 928.6,1690.0 930.1,1690.0 931.6,1690.0 933.1,1690.0 934.6,1690.0 936.1,1690.0 937.6,1690.0 939.1,1690.0 940.6,1690.0 942.1,1690.0 943.6,1690.0 945.1,1690.0 946.6,1690.0 948.1,1690.0 949.6,1690.0 951.1,1690.0 952.6,1690.0 954.1,1690.0 955.6,1690.0 957.1,1690.0 958.6,1690.0 960.1,1690.0 961.6,1690.0 963.1,1690.0 964.6,1690.0 966.1,1690.0 967.6,1690.0 969.1,1690.0 970.6,1690.0 972.1,1690.0 973.6,1690.0 975.1,1690.0 976.6,1690.0 978.1,1690.0 979.6,1690.0 981.1,1690.0 982.6,1690.0 984.1,1690.0 985.6,1690.0 987.1,1690.0 988.6,1690.0 990.1,1690.0 991.6,1690.0 993.1,1690.0 994.6,1690.0 996.1,1690.0 997.6,1690.0 999.1,1690.0 1000.6,1690.0 1002.1,1690.0 1003.6,1690.0 1005.1,1690.0 1006.6,1690.0 1008.1,1690.0 1009.6,1690.0 1011.1,1690.0 1012.6,1690.0 1014.1,1690.0 1015.6,1690.0 1017.1,1690.0 1018.6,1690.0 1020.1,1690.0 1021.6,1690.0 1023.1,1690.0 1024.6,1690.0 1026.1,1690.0 1027.6,1690.0 1029.1,1690.0 1030.6,1690.0 1032.1,1690.0 1033.6,1690.0 1035.1,1690.0 1036.6,1690.0 1038.1,1690.0 1039.6,1690.0 1041.1,1690.0 1042.6,1690.0 1044.1,1690.0 1045.6,1690.0 1047.1,1690.0 1048.6,1690.0 1050.1,1690.0 1051.6,1690.0 1053.1,1690.0 1054.6,1690.0 1056.1,1690.0 1057.6,1690.0 1059.1,1690.0 1060.6,1690.0 1062.1,1690.0 1063.6,1690.0 1065.1,1690.0 1066.6,1690.0 1068.1,1690.0 1069.6,1690.0 1071.1,1690.0 1072.6,1690.0 1074.1,1690.0 1075.6,1690.0 1077.1,1690.0 1078.6,1690.0 1080.1,1690.0 1081.6,1690.0 1083.1,1690.0 1084.6,1690.0 1086.1,1690.0 1087.6,1690.1 1089.1,1690.1 1090.6,1690.1 1092.1,1690.1 1093.6,1690.1 1095.1,1690.1 1096.6,1690.1 1098.1,1690.1 1099.6,1690.1 1101.1,1690.1 1102.6,1690.1 1104.1,1690.1 1105.6,1690.1 1107.1,1690.1 1108.6,1690.1 1110.1,1690.2 1111.6,1690.2 1113.1,1690.2 1114.6,1690.2 1116.1,1690.2 1117.6,1690.2 1119.1,1690.2 1120.6,1690.3 1122.1,1690.3 1123.6,1690.3 1125.1,1690.3 1126.6,1690.3 1128.1,1690.3 1129.6,1690.4 1131.1,1690.4 1132.6,1690.4 1134.1,1690.4 1135.6,1690.5 1137.1,1690.5 1138.6,1690.5 1140.1,1690.5 1141.6,1690.6 1143.1,1690.6 1144.6,1690.6 1146.1,1690.6 1147.6,1690.7 1149.1,1690.7 1150.6,1690.7 1152.1,1690.8 1153.6,1690.8 1155.1,1690.8 1156.6,1690.9 1158.1,1690.9 1159.6,1690.9 1161.1,1691.0 1162.6,1691.0 1164.1,1691.1 1165.6,1691.1 1167.1,1691.1 1168.6,1691.2 1170.1,1691.2 1171.6,1691.3 1173.1,1691.3 1174.6,1691.3 1176.1,1691.4 1177.6,1691.4 1179.1,1691.5 1180.6,1691.5 1182.1,1691.6 1183.6,1691.6 1185.1,1691.6 1186.6,1691.7 1188.1,1691.7 1189.6,1691.8 1191.1,1691.8 1192.6,1691.9 1194.1,1691.9 1195.6,1691.9 1197.1,1692.0 1198.6,1692.0 1200.1,1692.1 1201.6,1692.1 1203.1,1692.2 1204.6,1692.2 1206.1,1692.3 1207.6,1692.3 1209.1,1692.3 1210.6,1692.4 1212.1,1692.4 1213.6,1692.5 1215.1,1692.5 1216.6,1692.5 1218.1,1692.6 1219.6,1692.6 1221.1,1692.7 1222.6,1692.7 1224.1,1692.7 1225.6,1692.8 1227.1,1692.8 1228.6,1692.8 1230.1,1692.9 1231.6,1692.9 1233.1,1693.0 1234.6,1693.0 1236.1,1693.0 1237.6,1693.1 1239.1,1693.1 1240.6,1693.1 1242.1,1693.1 1243.6,1693.2 1245.1,1693.2 1246.6,1693.2 1248.1,1693.3 1249.6,1693.3 1251.1,1693.3 1252.6,1693.3 1254.1,1693.4 1255.6,1693.4 1257.1,1693.4 1258.6,1693.4 1260.1,1693.4 1261.6,1693.5 1263.1,1693.5 1264.6,1693.5 1266.1,1693.5 1267.6,1693.5 1269.1,1693.5 1270.6,1693.6 1272.1,1693.6 1273.6,1693.6 1275.1,1693.6 1276.6,1693.6 1278.1,1693.6 1279.6,1693.6 1281.1,1693.7 1282.6,1693.7 1284.1,1693.7 1285.6,1693.7 1287.1,1693.7 1288.6,1693.7 1290.1,1693.7 1291.6,1693.7 1293.1,1693.7 1294.6,1693.7 1296.1,1693.7 1297.6,1693.7 1299.1,1693.7 1300.6,1693.7 1302.1,1693.8 1303.6,1693.8 1305.1,1693.8 1306.6,1693.8 1308.1,1693.8 1309.6,1693.8 1311.1,1693.8 1312.6,1693.8 1314.1,1693.8 1315.6,1693.8 1317.1,1693.8 1318.6,1693.8 1320.1,1693.8 1321.6,1693.8 1323.1,1693.8 1324.6,1693.8 1326.1,1693.8 1327.6,1693.8 1329.1,1693.8 1330.6,1693.8 1332.1,1693.8 1333.6,1693.8 1335.1,1693.8 1336.6,1693.8 1338.1,1693.8 1339.6,1693.8 1341.1,1693.8 1342.6,1693.8 1344.1,1693.8 1345.6,1693.8 1347.1,1693.8 1348.6,1693.8 1350.1,1693.8 1351.6,1693.8 1353.1,1693.8 1354.6,1693.8 1356.1,1693.8 1357.6,1693.8 1359.1,1693.8 1360.6,1693.8 1362.1,1693.8 1363.6,1693.8 1365.1,1693.8 1366.6,1693.8 1368.1,1693.8 1369.6,1693.8 1371.1,1693.8 1372.6,1693.8 1374.1,1693.8 1375.6,1693.8 1377.1,1693.8 1378.6,1693.8 1380.1,1693.8 1381.6,1693.8 1383.1,1693.8 1384.6,1693.8 1386.1,1693.8 1387.6,1693.8 1389.1,1693.8 1390.6,1693.8 1392.1,1693.8 1393.6,1693.8 1395.1,1693.8 1396.6,1693.8 1398.1,1693.8 1399.6,1693.8 1401.1,1693.8 1402.6,1693.8 1404.1,1693.8 1405.6,1693.8 1407.1,1693.8 1408.6,1693.8 1410.1,1693.8 1411.6,1693.8 1413.1,1693.8 1414.6,1693.8 1416.1,1693.8 1417.6,1693.8 1419.1,1693.8 1420.6,1693.8 1422.1,1693.8 1423.6,1693.8 1425.1,1693.8 1426.6,1693.8 1428.1,1693.8 1429.6,1693.8 1431.1,1693.8 1432.6,1693.8 1434.1,1693.8 1435.6,1693.8 1437.1,1693.8 1438.6,1693.8 1440.1,1693.8 1441.6,1693.8 1443.1,1693.8 1444.6,1693.8 1446.1,1693.8 1447.6,1693.8 1449.1,1693.8 1450.6,1693.8 1452.0,1693.8" fill="none" stroke="#f00" stroke-width="2.2" stroke-linejoin="round" stroke-linecap="round" clip-path="url(#ccS)"/>
<path d="M898.6,1687.0 900.1,1687.0 901.6,1687.0 903.1,1687.0 904.6,1687.0 906.1,1687.0 907.6,1687.0 909.1,1687.0 910.6,1687.0 912.1,1687.0 913.6,1687.0 915.1,1687.0 916.6,1687.0 918.1,1687.0 919.6,1687.0 921.1,1687.0 922.6,1687.0 924.1,1687.0 925.6,1687.0 927.1,1687.0 928.6,1687.0 930.1,1687.0 931.6,1687.0 933.1,1687.0 934.6,1687.0 936.1,1687.0 937.6,1687.0 939.1,1687.0 940.6,1687.0 942.1,1687.0 943.6,1687.0 945.1,1687.0 946.6,1687.0 948.1,1687.0 949.6,1687.0 951.1,1687.0 952.6,1687.0 954.1,1687.0 955.6,1687.0 957.1,1687.0 958.6,1687.0 960.1,1687.0 961.6,1687.0 963.1,1687.0 964.6,1687.0 966.1,1687.0 967.6,1687.0 969.1,1687.0 970.6,1687.0 972.1,1687.0 973.6,1687.0 975.1,1687.0 976.6,1687.0 978.1,1687.0 979.6,1687.0 981.1,1687.0 982.6,1687.0 984.1,1687.0 985.6,1687.0 987.1,1687.0 988.6,1687.0 990.1,1687.0 991.6,1687.0 993.1,1687.0 994.6,1687.0 996.1,1687.0 997.6,1687.0 999.1,1686.9 1000.6,1686.9 1002.1,1686.9 1003.6,1686.9 1005.1,1686.9 1006.6,1686.9 1008.1,1686.9 1009.6,1686.9 1011.1,1686.8 1012.6,1686.8 1014.1,1686.8 1015.6,1686.7 1017.1,1686.7 1018.6,1686.7 1020.1,1686.6 1021.6,1686.6 1023.1,1686.5 1024.6,1686.5 1026.1,1686.4 1027.6,1686.3 1029.1,1686.2 1030.6,1686.1 1032.1,1686.0 1033.6,1685.9 1035.1,1685.7 1036.6,1685.6 1038.1,1685.4 1039.6,1685.2 1041.1,1685.0 1042.6,1684.8 1044.1,1684.5 1045.6,1684.2 1047.1,1683.9 1048.6,1683.6 1050.1,1683.2 1051.6,1682.8 1053.1,1682.3 1054.6,1681.8 1056.1,1681.3 1057.6,1680.7 1059.1,1680.0 1060.6,1679.3 1062.1,1678.6 1063.6,1677.8 1065.1,1676.9 1066.6,1675.9 1068.1,1674.9 1069.6,1673.7 1071.1,1672.5 1072.6,1671.2 1074.1,1669.8 1075.6,1668.3 1077.1,1666.7 1078.6,1665.0 1080.1,1663.2 1081.6,1661.2 1083.1,1659.1 1084.6,1656.9 1086.1,1654.6 1087.6,1652.1 1089.1,1649.5 1090.6,1646.7 1092.1,1643.8 1093.6,1640.7 1095.1,1637.5 1096.6,1634.1 1098.1,1630.5 1099.6,1626.8 1101.1,1622.9 1102.6,1618.8 1104.1,1614.6 1105.6,1610.2 1107.1,1605.7 1108.6,1600.9 1110.1,1596.1 1111.6,1591.0 1113.1,1585.8 1114.6,1580.4 1116.1,1575.0 1117.6,1569.3 1119.1,1563.5 1120.6,1557.7 1122.1,1551.7 1123.6,1545.5 1125.1,1539.3 1126.6,1533.1 1128.1,1526.7 1129.6,1520.3 1131.1,1513.8 1132.6,1507.4 1134.1,1500.9 1135.6,1494.3 1137.1,1483.1 1138.6,1474.6 1140.1,1467.8 1141.6,1462.1 1143.1,1456.9 1144.6,1451.5 1146.1,1445.4 1147.6,1438.7 1149.1,1431.5 1150.6,1424.1 1152.1,1416.7 1153.6,1409.4 1155.1,1402.4 1156.6,1395.6 1158.1,1389.2 1159.6,1383.0 1161.1,1377.1 1162.6,1371.4 1164.1,1366.1 1165.6,1361.0 1167.1,1356.2 1168.6,1351.7 1170.1,1347.5 1171.6,1343.6 1173.1,1339.9 1174.6,1336.6 1176.1,1333.5 1177.6,1330.8 1179.1,1328.3 1180.6,1326.1 1182.1,1324.3 1183.6,1322.7 1185.1,1321.4 1186.6,1320.5 1188.1,1319.8 1189.6,1319.4 1191.1,1319.4 1192.6,1319.6 1194.1,1320.2 1195.6,1321.1 1197.1,1322.3 1198.6,1323.8 1200.1,1325.6 1201.6,1327.7 1203.1,1330.2 1204.6,1332.9 1206.1,1335.9 1207.6,1339.2 1209.1,1342.8 1210.6,1346.6 1212.1,1350.6 1213.6,1354.9 1215.1,1359.4 1216.6,1364.0 1218.1,1368.9 1219.6,1374.0 1221.1,1379.2 1222.6,1384.6 1224.1,1390.1 1225.6,1395.7 1227.1,1401.5 1228.6,1407.4 1230.1,1413.4 1231.6,1419.5 1233.1,1425.6 1234.6,1431.8 1236.1,1438.1 1237.6,1444.4 1239.1,1450.7 1240.6,1457.0 1242.1,1463.4 1243.6,1469.7 1245.1,1476.1 1246.6,1482.4 1248.1,1488.6 1249.6,1494.8 1251.1,1501.0 1252.6,1507.0 1254.1,1513.0 1255.6,1518.9 1257.1,1524.8 1258.6,1530.5 1260.1,1536.2 1261.6,1541.7 1263.1,1547.2 1264.6,1552.5 1266.1,1557.7 1267.6,1562.8 1269.1,1567.8 1270.6,1572.6 1272.1,1577.3 1273.6,1581.8 1275.1,1586.3 1276.6,1590.6 1278.1,1594.8 1279.6,1598.8 1281.1,1602.7 1282.6,1606.5 1284.1,1610.2 1285.6,1613.8 1287.1,1617.3 1288.6,1620.6 1290.1,1623.8 1291.6,1627.0 1293.1,1630.0 1294.6,1632.9 1296.1,1635.7 1297.6,1638.5 1299.1,1641.1 1300.6,1643.6 1302.1,1646.0 1303.6,1648.4 1305.1,1650.6 1306.6,1652.8 1308.1,1654.9 1309.6,1656.9 1311.1,1658.8 1312.6,1660.6 1314.1,1662.4 1315.6,1664.1 1317.1,1665.7 1318.6,1667.2 1320.1,1668.7 1321.6,1670.1 1323.1,1671.5 1324.6,1672.8 1326.1,1674.0 1327.6,1675.2 1329.1,1676.3 1330.6,1677.3 1332.1,1678.3 1333.6,1679.3 1335.1,1680.2 1336.6,1681.1 1338.1,1681.9 1339.6,1682.7 1341.1,1683.4 1342.6,1684.1 1344.1,1684.7 1345.6,1685.4 1347.1,1686.0 1348.6,1686.5 1350.1,1687.3 1351.6,1688.0 1353.1,1688.6 1354.6,1689.0 1356.1,1689.4 1357.6,1689.7 1359.1,1689.9 1360.6,1690.1 1362.1,1690.2 1363.6,1690.3 1365.1,1690.3 1366.6,1690.4 1368.1,1690.4 1369.6,1690.5 1371.1,1690.5 1372.6,1690.6 1374.1,1690.6 1375.6,1690.6 1377.1,1690.6 1378.6,1690.7 1380.1,1690.7 1381.6,1690.7 1383.1,1690.7 1384.6,1690.7 1386.1,1690.7 1387.6,1690.7 1389.1,1690.8 1390.6,1690.8 1392.1,1690.8 1393.6,1690.8 1395.1,1690.8 1396.6,1690.8 1398.1,1690.8 1399.6,1690.8 1401.1,1690.8 1402.6,1690.8 1404.1,1690.7 1405.6,1690.7 1407.1,1690.6 1408.6,1690.5 1410.1,1690.5 1411.6,1690.4 1413.1,1690.3 1414.6,1690.1 1416.1,1690.0 1417.6,1689.9 1419.1,1689.8 1420.6,1689.7 1422.1,1689.6 1423.6,1689.5 1425.1,1689.4 1426.6,1689.3 1428.1,1689.3 1429.6,1689.2 1431.1,1689.2 1432.6,1689.3 1434.1,1689.3 1435.6,1689.4 1437.1,1689.5 1438.6,1689.6 1440.1,1689.8 1441.6,1689.9 1443.1,1690.1 1444.6,1690.3 1446.1,1690.5 1447.6,1690.6 1449.1,1690.7 1450.6,1690.8 1452.0,1690.8" fill="none" stroke="#f00" stroke-width="4.0" stroke-linejoin="round" stroke-linecap="round" clip-path="url(#ccS)"/>
<g clip-path="url(#ccS)">
<path d="M898.6,1687.6 900.1,1687.6 901.6,1687.6 903.1,1687.6 904.6,1687.6 906.1,1687.6 907.6,1687.6 909.1,1687.6 910.6,1687.6 912.1,1687.6 913.6,1687.6 915.1,1687.6 916.6,1687.6 918.1,1687.6 919.6,1687.6 921.1,1687.6 922.6,1687.6 924.1,1687.6 925.6,1687.6 927.1,1687.6 928.6,1687.6 930.1,1687.6 931.6,1687.6 933.1,1687.6 934.6,1687.6 936.1,1687.6 937.6,1687.6 939.1,1687.6 940.6,1687.6 942.1,1687.6 943.6,1687.6 945.1,1687.6 946.6,1687.6 948.1,1687.6 949.6,1687.6 951.1,1687.6 952.6,1687.6 954.1,1687.6 955.6,1687.6 957.1,1687.6 958.6,1687.6 960.1,1687.6 961.6,1687.6 963.1,1687.6 964.6,1687.6 966.1,1687.6 967.6,1687.6 969.1,1687.6 970.6,1687.6 972.1,1687.6 973.6,1687.6 975.1,1687.6 976.6,1687.6 978.1,1687.6 979.6,1687.6 981.1,1687.6 982.6,1687.6 984.1,1687.6 985.6,1687.6 987.1,1687.6 988.6,1687.6 990.1,1687.6 991.6,1687.6 993.1,1687.6 994.6,1687.6 996.1,1687.6 997.6,1687.6 999.1,1687.5 1000.6,1687.5 1002.1,1687.5 1003.6,1687.5 1005.1,1687.5 1006.6,1687.5 1008.1,1687.5 1009.6,1687.5 1011.1,1687.4 1012.6,1687.4 1014.1,1687.4 1015.6,1687.3 1017.1,1687.3 1018.6,1687.3 1020.1,1687.2 1021.6,1687.2 1023.1,1687.1 1024.6,1687.1 1026.1,1687.0 1027.6,1686.9 1029.1,1686.8 1030.6,1686.7 1032.1,1686.6 1033.6,1686.5 1035.1,1686.3 1036.6,1686.2 1038.1,1686.0 1039.6,1685.8 1041.1,1685.6 1042.6,1685.4 1044.1,1685.1 1045.6,1684.8 1047.1,1684.5 1048.6,1684.2 1050.1,1683.8 1051.6,1683.4 1053.1,1682.9 1054.6,1682.4 1056.1,1681.9 1057.6,1681.3 1059.1,1680.6 1060.6,1679.9 1062.1,1679.2 1063.6,1678.4 1065.1,1677.5 1066.6,1676.5 1068.1,1675.5 1069.6,1674.3 1071.1,1673.1 1072.6,1671.8 1074.1,1670.4 1075.6,1668.9 1077.1,1667.3 1078.6,1665.6 1080.1,1663.8 1081.6,1661.8 1083.1,1659.7 1084.6,1657.5 1086.1,1655.2 1087.6,1652.7 1089.1,1650.1 1090.6,1647.3 1092.1,1644.4 1093.6,1641.3 1095.1,1638.1 1096.6,1634.7 1098.1,1631.1 1099.6,1627.4 1101.1,1623.5 1102.6,1619.4 1104.1,1615.2 1105.6,1610.8 1107.1,1606.3 1108.6,1601.5 1110.1,1596.7 1111.6,1591.6 1113.1,1586.4 1114.6,1581.0 1116.1,1575.6 1117.6,1569.9 1119.1,1564.1 1120.6,1558.3 1122.1,1552.3 1123.6,1546.1 1125.1,1539.9 1126.6,1533.7 1128.1,1527.3 1129.6,1520.9 1131.1,1514.4 1132.6,1508.0 1134.1,1501.5 1135.6,1495.0 1137.1,1488.5 1138.6,1482.1 1140.1,1475.7 1141.6,1469.4 1143.1,1463.2 1144.6,1457.1 1146.1,1451.1 1147.6,1445.2 1149.1,1439.6 1150.6,1434.1 1152.1,1428.8 1153.6,1423.7 1155.1,1418.8 1156.6,1414.2 1158.1,1409.9 1159.6,1405.8 1161.1,1402.1 1162.6,1398.6 1164.1,1395.5 1165.6,1392.7 1167.1,1390.2 1168.6,1388.1 1170.1,1386.3 1171.6,1384.9 1173.1,1383.9 1174.6,1383.3 1176.1,1383.0 1177.6,1383.1 1179.1,1383.6 1180.6,1384.4 1182.1,1385.7 1183.6,1387.3 1185.1,1389.2 1186.6,1391.6 1188.1,1394.2 1189.6,1397.2 1191.1,1400.5 1192.6,1404.2 1194.1,1408.1 1195.6,1412.4 1197.1,1416.9 1198.6,1421.6 1200.1,1426.6 1201.6,1431.9 1203.1,1437.3 1204.6,1443.0 1206.1,1448.8 1207.6,1454.7 1209.1,1460.8 1210.6,1467.0 1212.1,1473.4 1213.6,1479.8 1215.1,1486.2 1216.6,1492.7 1218.1,1499.3 1219.6,1505.8 1221.1,1512.4 1222.6,1518.9 1224.1,1525.4 1225.6,1531.9 1227.1,1538.3 1228.6,1544.6 1230.1,1550.8 1231.6,1556.9 1233.1,1562.9 1234.6,1568.8 1236.1,1574.6 1237.6,1580.2 1239.1,1585.7 1240.6,1591.1 1242.1,1596.3 1243.6,1601.3 1245.1,1606.2 1246.6,1610.9 1248.1,1615.4 1249.6,1619.8 1251.1,1624.0 1252.6,1628.1 1254.1,1631.9 1255.6,1635.6 1257.1,1639.2 1258.6,1642.5 1260.1,1645.7 1261.6,1648.8 1263.1,1651.7 1264.6,1654.4 1266.1,1657.0 1267.6,1659.5 1269.1,1661.8 1270.6,1664.0 1272.1,1666.0 1273.6,1668.0 1275.1,1669.8 1276.6,1671.5 1278.1,1673.0 1279.6,1674.5 1281.1,1675.9 1282.6,1677.2 1284.1,1678.4 1285.6,1679.5 1287.1,1680.5 1288.6,1681.5 1290.1,1682.3 1291.6,1683.1 1293.1,1683.9 1294.6,1684.6 1296.1,1685.2 1297.6,1685.8 1299.1,1686.3 1300.6,1686.8 1302.1,1687.3 1303.6,1687.7 1305.1,1688.0 1306.6,1688.4 1308.1,1688.7 1309.6,1689.0 1311.1,1689.2 1312.6,1689.4 1314.1,1689.7 1315.6,1689.8 1317.1,1690.0 1318.6,1690.2 1320.1,1690.3 1321.6,1690.4 1323.1,1690.5 1324.6,1690.6 1326.1,1690.7 1327.6,1690.8 1329.1,1690.9 1330.6,1690.9 1332.1,1691.0 1333.6,1691.0 1335.1,1691.1 1336.6,1691.1 1338.1,1691.2 1339.6,1691.2 1341.1,1691.2 1342.6,1691.2 1344.1,1691.3 1345.6,1691.3 1347.1,1691.3 1348.6,1691.3 1350.1,1691.3 1351.6,1691.3 1353.1,1691.3 1354.6,1691.3 1356.1,1691.4 1357.6,1691.4 1359.1,1691.4 1360.6,1691.4 1362.1,1691.4 1363.6,1691.4 1365.1,1691.4 1366.6,1691.4 1368.1,1691.4 1369.6,1691.4 1371.1,1691.4 1372.6,1691.4 1374.1,1691.4 1375.6,1691.4 1377.1,1691.4 1378.6,1691.4 1380.1,1691.4 1381.6,1691.4 1383.1,1691.4 1384.6,1691.4 1386.1,1691.4 1387.6,1691.4 1389.1,1691.4 1390.6,1691.4 1392.1,1691.4 1393.6,1691.4 1395.1,1691.4 1396.6,1691.4 1398.1,1691.4 1399.6,1691.4 1401.1,1691.4 1402.6,1691.4 1404.1,1691.4 1405.6,1691.4 1407.1,1691.4 1408.6,1691.4 1410.1,1691.4 1411.6,1691.4 1413.1,1691.4 1414.6,1691.4 1416.1,1691.4 1417.6,1691.4 1419.1,1691.4 1420.6,1691.4 1422.1,1691.4 1423.6,1691.4 1425.1,1691.4 1426.6,1691.4 1428.1,1691.4 1429.6,1691.4 1431.1,1691.4 1432.6,1691.4 1434.1,1691.4 1435.6,1691.4 1437.1,1691.4 1438.6,1691.4 1440.1,1691.4 1441.6,1691.4 1443.1,1691.4 1444.6,1691.4 1446.1,1691.4 1447.6,1691.4 1449.1,1691.4 1450.6,1691.4 1452.0,1691.4 1452.0,1692.5 1450.6,1692.5 1449.1,1692.5 1447.6,1692.5 1446.1,1692.5 1444.6,1692.5 1443.1,1692.5 1441.6,1692.5 1440.1,1692.5 1438.6,1692.5 1437.1,1692.5 1435.6,1692.5 1434.1,1692.5 1432.6,1692.5 1431.1,1692.5 1429.6,1692.5 1428.1,1692.5 1426.6,1692.5 1425.1,1692.5 1423.6,1692.5 1422.1,1692.5 1420.6,1692.5 1419.1,1692.5 1417.6,1692.5 1416.1,1692.5 1414.6,1692.5 1413.1,1692.5 1411.6,1692.5 1410.1,1692.5 1408.6,1692.5 1407.1,1692.5 1405.6,1692.5 1404.1,1692.5 1402.6,1692.5 1401.1,1692.5 1399.6,1692.5 1398.1,1692.5 1396.6,1692.5 1395.1,1692.5 1393.6,1692.5 1392.1,1692.5 1390.6,1692.5 1389.1,1692.5 1387.6,1692.5 1386.1,1692.5 1384.6,1692.5 1383.1,1692.5 1381.6,1692.5 1380.1,1692.5 1378.6,1692.5 1377.1,1692.5 1375.6,1692.5 1374.1,1692.5 1372.6,1692.5 1371.1,1692.5 1369.6,1692.5 1368.1,1692.5 1366.6,1692.5 1365.1,1692.5 1363.6,1692.5 1362.1,1692.5 1360.6,1692.5 1359.1,1692.5 1357.6,1692.5 1356.1,1692.5 1354.6,1692.5 1353.1,1692.5 1351.6,1692.5 1350.1,1692.5 1348.6,1692.5 1347.1,1692.5 1345.6,1692.5 1344.1,1692.5 1342.6,1692.5 1341.1,1692.5 1339.6,1692.5 1338.1,1692.5 1336.6,1692.5 1335.1,1692.5 1333.6,1692.5 1332.1,1692.5 1330.6,1692.5 1329.1,1692.5 1327.6,1692.5 1326.1,1692.5 1324.6,1692.5 1323.1,1692.5 1321.6,1692.5 1320.1,1692.5 1318.6,1692.5 1317.1,1692.5 1315.6,1692.5 1314.1,1692.5 1312.6,1692.5 1311.1,1692.5 1309.6,1692.5 1308.1,1692.5 1306.6,1692.5 1305.1,1692.5 1303.6,1692.5 1302.1,1692.5 1300.6,1692.4 1299.1,1692.4 1297.6,1692.4 1296.1,1692.4 1294.6,1692.4 1293.1,1692.4 1291.6,1692.4 1290.1,1692.4 1288.6,1692.4 1287.1,1692.4 1285.6,1692.4 1284.1,1692.4 1282.6,1692.4 1281.1,1692.4 1279.6,1692.3 1278.1,1692.3 1276.6,1692.3 1275.1,1692.3 1273.6,1692.3 1272.1,1692.3 1270.6,1692.3 1269.1,1692.2 1267.6,1692.2 1266.1,1692.2 1264.6,1692.2 1263.1,1692.2 1261.6,1692.2 1260.1,1692.1 1258.6,1692.1 1257.1,1692.1 1255.6,1692.1 1254.1,1692.1 1252.6,1692.0 1251.1,1692.0 1249.6,1692.0 1248.1,1692.0 1246.6,1691.9 1245.1,1691.9 1243.6,1691.9 1242.1,1691.8 1240.6,1691.8 1239.1,1691.8 1237.6,1691.8 1236.1,1691.7 1234.6,1691.7 1233.1,1691.7 1231.6,1691.6 1230.1,1691.6 1228.6,1691.5 1227.1,1691.5 1225.6,1691.5 1224.1,1691.4 1222.6,1691.4 1221.1,1691.4 1219.6,1691.3 1218.1,1691.3 1216.6,1691.2 1215.1,1691.2 1213.6,1691.2 1212.1,1691.1 1210.6,1691.1 1209.1,1691.0 1207.6,1691.0 1206.1,1691.0 1204.6,1690.9 1203.1,1690.9 1201.6,1690.8 1200.1,1690.8 1198.6,1690.7 1197.1,1690.7 1195.6,1690.6 1194.1,1690.6 1192.6,1690.6 1191.1,1690.5 1189.6,1690.5 1188.1,1690.4 1186.6,1690.4 1185.1,1690.3 1183.6,1690.3 1182.1,1690.3 1180.6,1690.2 1179.1,1690.2 1177.6,1690.1 1176.1,1690.1 1174.6,1690.0 1173.1,1690.0 1171.6,1690.0 1170.1,1689.9 1168.6,1689.9 1167.1,1689.8 1165.6,1689.8 1164.1,1689.8 1162.6,1689.7 1161.1,1689.7 1159.6,1689.6 1158.1,1689.6 1156.6,1689.6 1155.1,1689.5 1153.6,1689.5 1152.1,1689.5 1150.6,1689.4 1149.1,1689.4 1147.6,1689.4 1146.1,1689.3 1144.6,1689.3 1143.1,1689.3 1141.6,1689.3 1140.1,1689.2 1138.6,1689.2 1137.1,1689.2 1135.6,1689.2 1134.1,1689.1 1132.6,1689.1 1131.1,1689.1 1129.6,1689.1 1128.1,1689.0 1126.6,1689.0 1125.1,1689.0 1123.6,1689.0 1122.1,1689.0 1120.6,1689.0 1119.1,1688.9 1117.6,1688.9 1116.1,1688.9 1114.6,1688.9 1113.1,1688.9 1111.6,1688.9 1110.1,1688.9 1108.6,1688.8 1107.1,1688.8 1105.6,1688.8 1104.1,1688.8 1102.6,1688.8 1101.1,1688.8 1099.6,1688.8 1098.1,1688.8 1096.6,1688.8 1095.1,1688.8 1093.6,1688.8 1092.1,1688.8 1090.6,1688.8 1089.1,1688.8 1087.6,1688.8 1086.1,1688.7 1084.6,1688.7 1083.1,1688.7 1081.6,1688.7 1080.1,1688.7 1078.6,1688.7 1077.1,1688.7 1075.6,1688.7 1074.1,1688.7 1072.6,1688.7 1071.1,1688.7 1069.6,1688.7 1068.1,1688.7 1066.6,1688.7 1065.1,1688.7 1063.6,1688.7 1062.1,1688.7 1060.6,1688.7 1059.1,1688.7 1057.6,1688.7 1056.1,1688.7 1054.6,1688.7 1053.1,1688.7 1051.6,1688.7 1050.1,1688.7 1048.6,1688.7 1047.1,1688.7 1045.6,1688.7 1044.1,1688.7 1042.6,1688.7 1041.1,1688.7 1039.6,1688.7 1038.1,1688.7 1036.6,1688.7 1035.1,1688.7 1033.6,1688.7 1032.1,1688.7 1030.6,1688.7 1029.1,1688.7 1027.6,1688.7 1026.1,1688.7 1024.6,1688.7 1023.1,1688.7 1021.6,1688.7 1020.1,1688.7 1018.6,1688.7 1017.1,1688.7 1015.6,1688.7 1014.1,1688.7 1012.6,1688.7 1011.1,1688.7 1009.6,1688.7 1008.1,1688.7 1006.6,1688.7 1005.1,1688.7 1003.6,1688.7 1002.1,1688.7 1000.6,1688.7 999.1,1688.7 997.6,1688.7 996.1,1688.7 994.6,1688.7 993.1,1688.7 991.6,1688.7 990.1,1688.7 988.6,1688.7 987.1,1688.7 985.6,1688.7 984.1,1688.7 982.6,1688.7 981.1,1688.7 979.6,1688.7 978.1,1688.7 976.6,1688.7 975.1,1688.7 973.6,1688.7 972.1,1688.7 970.6,1688.7 969.1,1688.7 967.6,1688.7 966.1,1688.7 964.6,1688.7 963.1,1688.7 961.6,1688.7 960.1,1688.7 958.6,1688.7 957.1,1688.7 955.6,1688.7 954.1,1688.7 952.6,1688.7 951.1,1688.7 949.6,1688.7 948.1,1688.7 946.6,1688.7 945.1,1688.7 943.6,1688.7 942.1,1688.7 940.6,1688.7 939.1,1688.7 937.6,1688.7 936.1,1688.7 934.6,1688.7 933.1,1688.7 931.6,1688.7 930.1,1688.7 928.6,1688.7 927.1,1688.7 925.6,1688.7 924.1,1688.7 922.6,1688.7 921.1,1688.7 919.6,1688.7 918.1,1688.7 916.6,1688.7 915.1,1688.7 913.6,1688.7 912.1,1688.7 910.6,1688.7 909.1,1688.7 907.6,1688.7 906.1,1688.7 904.6,1688.7 903.1,1688.7 901.6,1688.7 900.1,1688.7 898.6,1688.7Z" fill="#c0c0c0"/>
<path d="M898.6,1687.6 900.1,1687.6 901.6,1687.6 903.1,1687.6 904.6,1687.6 906.1,1687.6 907.6,1687.6 909.1,1687.6 910.6,1687.6 912.1,1687.6 913.6,1687.6 915.1,1687.6 916.6,1687.6 918.1,1687.6 919.6,1687.6 921.1,1687.6 922.6,1687.6 924.1,1687.6 925.6,1687.6 927.1,1687.6 928.6,1687.6 930.1,1687.6 931.6,1687.6 933.1,1687.6 934.6,1687.6 936.1,1687.6 937.6,1687.6 939.1,1687.6 940.6,1687.6 942.1,1687.6 943.6,1687.6 945.1,1687.6 946.6,1687.6 948.1,1687.6 949.6,1687.6 951.1,1687.6 952.6,1687.6 954.1,1687.6 955.6,1687.6 957.1,1687.6 958.6,1687.6 960.1,1687.6 961.6,1687.6 963.1,1687.6 964.6,1687.6 966.1,1687.6 967.6,1687.6 969.1,1687.6 970.6,1687.6 972.1,1687.6 973.6,1687.6 975.1,1687.6 976.6,1687.6 978.1,1687.6 979.6,1687.6 981.1,1687.6 982.6,1687.6 984.1,1687.6 985.6,1687.6 987.1,1687.6 988.6,1687.6 990.1,1687.6 991.6,1687.6 993.1,1687.6 994.6,1687.6 996.1,1687.6 997.6,1687.6 999.1,1687.6 1000.6,1687.6 1002.1,1687.6 1003.6,1687.6 1005.1,1687.6 1006.6,1687.6 1008.1,1687.6 1009.6,1687.6 1011.1,1687.6 1012.6,1687.6 1014.1,1687.6 1015.6,1687.6 1017.1,1687.6 1018.6,1687.6 1020.1,1687.6 1021.6,1687.6 1023.1,1687.6 1024.6,1687.6 1026.1,1687.6 1027.6,1687.6 1029.1,1687.6 1030.6,1687.6 1032.1,1687.6 1033.6,1687.6 1035.1,1687.6 1036.6,1687.6 1038.1,1687.6 1039.6,1687.6 1041.1,1687.6 1042.6,1687.6 1044.1,1687.6 1045.6,1687.6 1047.1,1687.6 1048.6,1687.6 1050.1,1687.6 1051.6,1687.6 1053.1,1687.6 1054.6,1687.6 1056.1,1687.6 1057.6,1687.6 1059.1,1687.6 1060.6,1687.6 1062.1,1687.6 1063.6,1687.6 1065.1,1687.6 1066.6,1687.6 1068.1,1687.6 1069.6,1687.6 1071.1,1687.6 1072.6,1687.6 1074.1,1687.6 1075.6,1687.6 1077.1,1687.6 1078.6,1687.6 1080.1,1687.6 1081.6,1687.6 1083.1,1687.6 1084.6,1687.6 1086.1,1687.6 1087.6,1687.5 1089.1,1687.5 1090.6,1687.5 1092.1,1687.5 1093.6,1687.5 1095.1,1687.5 1096.6,1687.4 1098.1,1687.4 1099.6,1687.4 1101.1,1687.3 1102.6,1687.3 1104.1,1687.2 1105.6,1687.2 1107.1,1687.1 1108.6,1687.0 1110.1,1687.0 1111.6,1686.9 1113.1,1686.7 1114.6,1686.6 1116.1,1686.5 1117.6,1686.3 1119.1,1686.1 1120.6,1685.9 1122.1,1685.7 1123.6,1685.5 1125.1,1685.2 1126.6,1684.9 1128.1,1684.6 1129.6,1684.2 1131.1,1683.8 1132.6,1683.4 1134.1,1682.9 1135.6,1682.4 1137.1,1681.8 1138.6,1681.2 1140.1,1680.5 1141.6,1679.7 1143.1,1678.9 1144.6,1678.1 1146.1,1677.1 1147.6,1676.1 1149.1,1675.0 1150.6,1673.8 1152.1,1672.6 1153.6,1671.2 1155.1,1669.8 1156.6,1668.3 1158.1,1666.6 1159.6,1664.9 1161.1,1663.1 1162.6,1661.1 1164.1,1659.1 1165.6,1657.0 1167.1,1654.7 1168.6,1652.3 1170.1,1649.9 1171.6,1647.3 1173.1,1644.6 1174.6,1641.8 1176.1,1638.9 1177.6,1635.9 1179.1,1632.8 1180.6,1629.6 1182.1,1626.3 1183.6,1622.9 1185.1,1619.4 1186.6,1615.9 1188.1,1612.3 1189.6,1608.7 1191.1,1605.0 1192.6,1601.3 1194.1,1597.5 1195.6,1593.7 1197.1,1590.0 1198.6,1586.2 1200.1,1582.5 1201.6,1578.7 1203.1,1575.1 1204.6,1571.5 1206.1,1567.9 1207.6,1564.5 1209.1,1561.1 1210.6,1557.9 1212.1,1554.7 1213.6,1551.7 1215.1,1548.9 1216.6,1546.2 1218.1,1543.7 1219.6,1541.4 1221.1,1539.3 1222.6,1537.4 1224.1,1535.7 1225.6,1534.2 1227.1,1532.9 1228.6,1531.9 1230.1,1531.1 1231.6,1530.5 1233.1,1530.2 1234.6,1530.2 1236.1,1530.4 1237.6,1530.8 1239.1,1531.5 1240.6,1532.4 1242.1,1533.6 1243.6,1535.0 1245.1,1536.6 1246.6,1538.4 1248.1,1540.4 1249.6,1542.7 1251.1,1545.1 1252.6,1547.7 1254.1,1550.5 1255.6,1553.4 1257.1,1556.5 1258.6,1559.8 1260.1,1563.1 1261.6,1566.5 1263.1,1570.1 1264.6,1573.7 1266.1,1577.4 1267.6,1581.1 1269.1,1584.9 1270.6,1588.7 1272.1,1592.6 1273.6,1596.4 1275.1,1600.2 1276.6,1604.0 1278.1,1607.8 1279.6,1611.5 1281.1,1615.2 1282.6,1618.8 1284.1,1622.4 1285.6,1625.9 1287.1,1629.3 1288.6,1632.6 1290.1,1635.8 1291.6,1639.0 1293.1,1642.0 1294.6,1644.9 1296.1,1647.8 1297.6,1650.5 1299.1,1653.1 1300.6,1655.6 1302.1,1657.9 1303.6,1660.2 1305.1,1662.4 1306.6,1664.4 1308.1,1666.4 1309.6,1668.2 1311.1,1670.0 1312.6,1671.6 1314.1,1673.1 1315.6,1674.6 1317.1,1675.9 1318.6,1677.2 1320.1,1678.4 1321.6,1679.5 1323.1,1680.5 1324.6,1681.5 1326.1,1682.4 1327.6,1683.2 1329.1,1683.9 1330.6,1684.6 1332.1,1685.3 1333.6,1685.9 1335.1,1686.4 1336.6,1686.9 1338.1,1687.4 1339.6,1687.8 1341.1,1688.1 1342.6,1688.5 1344.1,1688.8 1345.6,1689.1 1347.1,1689.3 1348.6,1689.6 1350.1,1689.8 1351.6,1689.9 1353.1,1690.1 1354.6,1690.3 1356.1,1690.4 1357.6,1690.5 1359.1,1690.6 1360.6,1690.7 1362.1,1690.8 1363.6,1690.9 1365.1,1690.9 1366.6,1691.0 1368.1,1691.0 1369.6,1691.1 1371.1,1691.1 1372.6,1691.2 1374.1,1691.2 1375.6,1691.2 1377.1,1691.2 1378.6,1691.3 1380.1,1691.3 1381.6,1691.3 1383.1,1691.3 1384.6,1691.3 1386.1,1691.3 1387.6,1691.3 1389.1,1691.4 1390.6,1691.4 1392.1,1691.4 1393.6,1691.4 1395.1,1691.4 1396.6,1691.4 1398.1,1691.4 1399.6,1691.4 1401.1,1691.4 1402.6,1691.4 1404.1,1691.4 1405.6,1691.4 1407.1,1691.4 1408.6,1691.4 1410.1,1691.4 1411.6,1691.4 1413.1,1691.4 1414.6,1691.4 1416.1,1691.4 1417.6,1691.4 1419.1,1691.4 1420.6,1691.4 1422.1,1691.4 1423.6,1691.4 1425.1,1691.4 1426.6,1691.4 1428.1,1691.4 1429.6,1691.4 1431.1,1691.4 1432.6,1691.4 1434.1,1691.4 1435.6,1691.4 1437.1,1691.4 1438.6,1691.4 1440.1,1691.4 1441.6,1691.4 1443.1,1691.4 1444.6,1691.4 1446.1,1691.4 1447.6,1691.4 1449.1,1691.4 1450.6,1691.4 1452.0,1691.4 1452.0,1692.5 1450.6,1692.5 1449.1,1692.5 1447.6,1692.5 1446.1,1692.5 1444.6,1692.5 1443.1,1692.5 1441.6,1692.5 1440.1,1692.5 1438.6,1692.5 1437.1,1692.5 1435.6,1692.5 1434.1,1692.5 1432.6,1692.5 1431.1,1692.5 1429.6,1692.5 1428.1,1692.5 1426.6,1692.5 1425.1,1692.5 1423.6,1692.5 1422.1,1692.5 1420.6,1692.5 1419.1,1692.5 1417.6,1692.5 1416.1,1692.5 1414.6,1692.5 1413.1,1692.5 1411.6,1692.5 1410.1,1692.5 1408.6,1692.5 1407.1,1692.5 1405.6,1692.5 1404.1,1692.5 1402.6,1692.5 1401.1,1692.5 1399.6,1692.5 1398.1,1692.5 1396.6,1692.5 1395.1,1692.5 1393.6,1692.5 1392.1,1692.5 1390.6,1692.5 1389.1,1692.5 1387.6,1692.5 1386.1,1692.5 1384.6,1692.5 1383.1,1692.5 1381.6,1692.5 1380.1,1692.5 1378.6,1692.5 1377.1,1692.5 1375.6,1692.5 1374.1,1692.5 1372.6,1692.5 1371.1,1692.5 1369.6,1692.5 1368.1,1692.5 1366.6,1692.5 1365.1,1692.5 1363.6,1692.5 1362.1,1692.5 1360.6,1692.5 1359.1,1692.5 1357.6,1692.5 1356.1,1692.5 1354.6,1692.5 1353.1,1692.5 1351.6,1692.5 1350.1,1692.5 1348.6,1692.5 1347.1,1692.5 1345.6,1692.5 1344.1,1692.5 1342.6,1692.5 1341.1,1692.5 1339.6,1692.5 1338.1,1692.5 1336.6,1692.5 1335.1,1692.5 1333.6,1692.5 1332.1,1692.5 1330.6,1692.5 1329.1,1692.5 1327.6,1692.5 1326.1,1692.5 1324.6,1692.5 1323.1,1692.5 1321.6,1692.5 1320.1,1692.5 1318.6,1692.5 1317.1,1692.5 1315.6,1692.5 1314.1,1692.5 1312.6,1692.5 1311.1,1692.5 1309.6,1692.5 1308.1,1692.5 1306.6,1692.5 1305.1,1692.5 1303.6,1692.5 1302.1,1692.5 1300.6,1692.4 1299.1,1692.4 1297.6,1692.4 1296.1,1692.4 1294.6,1692.4 1293.1,1692.4 1291.6,1692.4 1290.1,1692.4 1288.6,1692.4 1287.1,1692.4 1285.6,1692.4 1284.1,1692.4 1282.6,1692.4 1281.1,1692.4 1279.6,1692.3 1278.1,1692.3 1276.6,1692.3 1275.1,1692.3 1273.6,1692.3 1272.1,1692.3 1270.6,1692.3 1269.1,1692.2 1267.6,1692.2 1266.1,1692.2 1264.6,1692.2 1263.1,1692.2 1261.6,1692.2 1260.1,1692.1 1258.6,1692.1 1257.1,1692.1 1255.6,1692.1 1254.1,1692.1 1252.6,1692.0 1251.1,1692.0 1249.6,1692.0 1248.1,1692.0 1246.6,1691.9 1245.1,1691.9 1243.6,1691.9 1242.1,1691.8 1240.6,1691.8 1239.1,1691.8 1237.6,1691.8 1236.1,1691.7 1234.6,1691.7 1233.1,1691.7 1231.6,1691.6 1230.1,1691.6 1228.6,1691.5 1227.1,1691.5 1225.6,1691.5 1224.1,1691.4 1222.6,1691.4 1221.1,1691.4 1219.6,1691.3 1218.1,1691.3 1216.6,1691.2 1215.1,1691.2 1213.6,1691.2 1212.1,1691.1 1210.6,1691.1 1209.1,1691.0 1207.6,1691.0 1206.1,1691.0 1204.6,1690.9 1203.1,1690.9 1201.6,1690.8 1200.1,1690.8 1198.6,1690.7 1197.1,1690.7 1195.6,1690.6 1194.1,1690.6 1192.6,1690.6 1191.1,1690.5 1189.6,1690.5 1188.1,1690.4 1186.6,1690.4 1185.1,1690.3 1183.6,1690.3 1182.1,1690.3 1180.6,1690.2 1179.1,1690.2 1177.6,1690.1 1176.1,1690.1 1174.6,1690.0 1173.1,1690.0 1171.6,1690.0 1170.1,1689.9 1168.6,1689.9 1167.1,1689.8 1165.6,1689.8 1164.1,1689.8 1162.6,1689.7 1161.1,1689.7 1159.6,1689.6 1158.1,1689.6 1156.6,1689.6 1155.1,1689.5 1153.6,1689.5 1152.1,1689.5 1150.6,1689.4 1149.1,1689.4 1147.6,1689.4 1146.1,1689.3 1144.6,1689.3 1143.1,1689.3 1141.6,1689.3 1140.1,1689.2 1138.6,1689.2 1137.1,1689.2 1135.6,1689.2 1134.1,1689.1 1132.6,1689.1 1131.1,1689.1 1129.6,1689.1 1128.1,1689.0 1126.6,1689.0 1125.1,1689.0 1123.6,1689.0 1122.1,1689.0 1120.6,1689.0 1119.1,1688.9 1117.6,1688.9 1116.1,1688.9 1114.6,1688.9 1113.1,1688.9 1111.6,1688.9 1110.1,1688.9 1108.6,1688.8 1107.1,1688.8 1105.6,1688.8 1104.1,1688.8 1102.6,1688.8 1101.1,1688.8 1099.6,1688.8 1098.1,1688.8 1096.6,1688.8 1095.1,1688.8 1093.6,1688.8 1092.1,1688.8 1090.6,1688.8 1089.1,1688.8 1087.6,1688.8 1086.1,1688.7 1084.6,1688.7 1083.1,1688.7 1081.6,1688.7 1080.1,1688.7 1078.6,1688.7 1077.1,1688.7 1075.6,1688.7 1074.1,1688.7 1072.6,1688.7 1071.1,1688.7 1069.6,1688.7 1068.1,1688.7 1066.6,1688.7 1065.1,1688.7 1063.6,1688.7 1062.1,1688.7 1060.6,1688.7 1059.1,1688.7 1057.6,1688.7 1056.1,1688.7 1054.6,1688.7 1053.1,1688.7 1051.6,1688.7 1050.1,1688.7 1048.6,1688.7 1047.1,1688.7 1045.6,1688.7 1044.1,1688.7 1042.6,1688.7 1041.1,1688.7 1039.6,1688.7 1038.1,1688.7 1036.6,1688.7 1035.1,1688.7 1033.6,1688.7 1032.1,1688.7 1030.6,1688.7 1029.1,1688.7 1027.6,1688.7 1026.1,1688.7 1024.6,1688.7 1023.1,1688.7 1021.6,1688.7 1020.1,1688.7 1018.6,1688.7 1017.1,1688.7 1015.6,1688.7 1014.1,1688.7 1012.6,1688.7 1011.1,1688.7 1009.6,1688.7 1008.1,1688.7 1006.6,1688.7 1005.1,1688.7 1003.6,1688.7 1002.1,1688.7 1000.6,1688.7 999.1,1688.7 997.6,1688.7 996.1,1688.7 994.6,1688.7 993.1,1688.7 991.6,1688.7 990.1,1688.7 988.6,1688.7 987.1,1688.7 985.6,1688.7 984.1,1688.7 982.6,1688.7 981.1,1688.7 979.6,1688.7 978.1,1688.7 976.6,1688.7 975.1,1688.7 973.6,1688.7 972.1,1688.7 970.6,1688.7 969.1,1688.7 967.6,1688.7 966.1,1688.7 964.6,1688.7 963.1,1688.7 961.6,1688.7 960.1,1688.7 958.6,1688.7 957.1,1688.7 955.6,1688.7 954.1,1688.7 952.6,1688.7 951.1,1688.7 949.6,1688.7 948.1,1688.7 946.6,1688.7 945.1,1688.7 943.6,1688.7 942.1,1688.7 940.6,1688.7 939.1,1688.7 937.6,1688.7 936.1,1688.7 934.6,1688.7 933.1,1688.7 931.6,1688.7 930.1,1688.7 928.6,1688.7 927.1,1688.7 925.6,1688.7 924.1,1688.7 922.6,1688.7 921.1,1688.7 919.6,1688.7 918.1,1688.7 916.6,1688.7 915.1,1688.7 913.6,1688.7 912.1,1688.7 910.6,1688.7 909.1,1688.7 907.6,1688.7 906.1,1688.7 904.6,1688.7 903.1,1688.7 901.6,1688.7 900.1,1688.7 898.6,1688.7Z" fill="#808080"/>
</g>
<rect x="195.00" y="24.00" width="556.50" height="452.00" fill="none" stroke="#000" stroke-width="2"/>
<line x1="751.50" y1="476.00" x2="751.50" y2="467.00" stroke="#000" stroke-width="1.8" />
<line x1="711.75" y1="476.00" x2="711.75" y2="471.00" stroke="#000" stroke-width="1.8" />
<line x1="672.00" y1="476.00" x2="672.00" y2="467.00" stroke="#000" stroke-width="1.8" />
<line x1="632.25" y1="476.00" x2="632.25" y2="471.00" stroke="#000" stroke-width="1.8" />
<line x1="592.50" y1="476.00" x2="592.50" y2="467.00" stroke="#000" stroke-width="1.8" />
<line x1="552.75" y1="476.00" x2="552.75" y2="471.00" stroke="#000" stroke-width="1.8" />
<line x1="513.00" y1="476.00" x2="513.00" y2="467.00" stroke="#000" stroke-width="1.8" />
<line x1="473.25" y1="476.00" x2="473.25" y2="471.00" stroke="#000" stroke-width="1.8" />
<line x1="433.50" y1="476.00" x2="433.50" y2="467.00" stroke="#000" stroke-width="1.8" />
<line x1="393.75" y1="476.00" x2="393.75" y2="471.00" stroke="#000" stroke-width="1.8" />
<line x1="354.00" y1="476.00" x2="354.00" y2="467.00" stroke="#000" stroke-width="1.8" />
<line x1="314.25" y1="476.00" x2="314.25" y2="471.00" stroke="#000" stroke-width="1.8" />
<line x1="274.50" y1="476.00" x2="274.50" y2="467.00" stroke="#000" stroke-width="1.8" />
<line x1="234.75" y1="476.00" x2="234.75" y2="471.00" stroke="#000" stroke-width="1.8" />
<line x1="195.00" y1="476.00" x2="195.00" y2="467.00" stroke="#000" stroke-width="1.8" />
<line x1="195.00" y1="476.00" x2="204.00" y2="476.00" stroke="#000" stroke-width="1.8" />
<line x1="195.00" y1="430.80" x2="200.00" y2="430.80" stroke="#000" stroke-width="1.8" />
<line x1="195.00" y1="385.60" x2="204.00" y2="385.60" stroke="#000" stroke-width="1.8" />
<line x1="195.00" y1="340.40" x2="200.00" y2="340.40" stroke="#000" stroke-width="1.8" />
<line x1="195.00" y1="295.20" x2="204.00" y2="295.20" stroke="#000" stroke-width="1.8" />
<line x1="195.00" y1="250.00" x2="200.00" y2="250.00" stroke="#000" stroke-width="1.8" />
<line x1="195.00" y1="204.80" x2="204.00" y2="204.80" stroke="#000" stroke-width="1.8" />
<line x1="195.00" y1="159.60" x2="200.00" y2="159.60" stroke="#000" stroke-width="1.8" />
<line x1="195.00" y1="114.40" x2="204.00" y2="114.40" stroke="#000" stroke-width="1.8" />
<line x1="195.00" y1="69.20" x2="200.00" y2="69.20" stroke="#000" stroke-width="1.8" />
<line x1="195.00" y1="24.00" x2="204.00" y2="24.00" stroke="#000" stroke-width="1.8" />
<rect x="897.00" y="25.00" width="555.00" height="451.80" fill="none" stroke="#000" stroke-width="1.8"/>
<line x1="897.00" y1="476.80" x2="897.00" y2="467.30" stroke="#000" stroke-width="1.8" />
<line x1="897.00" y1="25.00" x2="897.00" y2="26.50" stroke="#000" stroke-width="1" />
<line x1="943.25" y1="476.80" x2="943.25" y2="471.30" stroke="#000" stroke-width="1.8" />
<line x1="989.50" y1="476.80" x2="989.50" y2="471.30" stroke="#000" stroke-width="1.8" />
<line x1="989.50" y1="25.00" x2="989.50" y2="26.50" stroke="#000" stroke-width="1" />
<line x1="1035.75" y1="476.80" x2="1035.75" y2="471.30" stroke="#000" stroke-width="1.8" />
<line x1="1082.00" y1="476.80" x2="1082.00" y2="467.30" stroke="#000" stroke-width="1.8" />
<line x1="1082.00" y1="25.00" x2="1082.00" y2="26.50" stroke="#000" stroke-width="1" />
<line x1="1128.25" y1="476.80" x2="1128.25" y2="471.30" stroke="#000" stroke-width="1.8" />
<line x1="1174.50" y1="476.80" x2="1174.50" y2="471.30" stroke="#000" stroke-width="1.8" />
<line x1="1174.50" y1="25.00" x2="1174.50" y2="26.50" stroke="#000" stroke-width="1" />
<line x1="1220.75" y1="476.80" x2="1220.75" y2="471.30" stroke="#000" stroke-width="1.8" />
<line x1="1267.00" y1="476.80" x2="1267.00" y2="467.30" stroke="#000" stroke-width="1.8" />
<line x1="1267.00" y1="25.00" x2="1267.00" y2="26.50" stroke="#000" stroke-width="1" />
<line x1="1313.25" y1="476.80" x2="1313.25" y2="471.30" stroke="#000" stroke-width="1.8" />
<line x1="1359.50" y1="476.80" x2="1359.50" y2="471.30" stroke="#000" stroke-width="1.8" />
<line x1="1359.50" y1="25.00" x2="1359.50" y2="26.50" stroke="#000" stroke-width="1" />
<line x1="1405.75" y1="476.80" x2="1405.75" y2="471.30" stroke="#000" stroke-width="1.8" />
<line x1="1452.00" y1="476.80" x2="1452.00" y2="467.30" stroke="#000" stroke-width="1.8" />
<line x1="1452.00" y1="25.00" x2="1452.00" y2="26.50" stroke="#000" stroke-width="1" />
<line x1="897.00" y1="476.80" x2="906.50" y2="476.80" stroke="#000" stroke-width="1.8" />
<line x1="1452.00" y1="476.80" x2="1450.50" y2="476.80" stroke="#000" stroke-width="1" />
<line x1="897.00" y1="420.32" x2="902.50" y2="420.32" stroke="#000" stroke-width="1.8" />
<line x1="1452.00" y1="420.32" x2="1450.50" y2="420.32" stroke="#000" stroke-width="1" />
<line x1="897.00" y1="363.85" x2="906.50" y2="363.85" stroke="#000" stroke-width="1.8" />
<line x1="1452.00" y1="363.85" x2="1450.50" y2="363.85" stroke="#000" stroke-width="1" />
<line x1="897.00" y1="307.38" x2="902.50" y2="307.38" stroke="#000" stroke-width="1.8" />
<line x1="1452.00" y1="307.38" x2="1450.50" y2="307.38" stroke="#000" stroke-width="1" />
<line x1="897.00" y1="250.90" x2="906.50" y2="250.90" stroke="#000" stroke-width="1.8" />
<line x1="1452.00" y1="250.90" x2="1450.50" y2="250.90" stroke="#000" stroke-width="1" />
<line x1="897.00" y1="194.43" x2="902.50" y2="194.43" stroke="#000" stroke-width="1.8" />
<line x1="1452.00" y1="194.43" x2="1450.50" y2="194.43" stroke="#000" stroke-width="1" />
<line x1="897.00" y1="137.95" x2="906.50" y2="137.95" stroke="#000" stroke-width="1.8" />
<line x1="1452.00" y1="137.95" x2="1450.50" y2="137.95" stroke="#000" stroke-width="1" />
<line x1="897.00" y1="81.48" x2="902.50" y2="81.48" stroke="#000" stroke-width="1.8" />
<line x1="1452.00" y1="81.48" x2="1450.50" y2="81.48" stroke="#000" stroke-width="1" />
<line x1="897.00" y1="25.00" x2="906.50" y2="25.00" stroke="#000" stroke-width="1.8" />
<line x1="1452.00" y1="25.00" x2="1450.50" y2="25.00" stroke="#000" stroke-width="1" />
<text x="751.50" y="510.50" font-size="33" text-anchor="middle" >0</text>
<text x="672.00" y="510.50" font-size="33" text-anchor="middle" >100</text>
<text x="592.50" y="510.50" font-size="33" text-anchor="middle" >200</text>
<text x="513.00" y="510.50" font-size="33" text-anchor="middle" >300</text>
<text x="433.50" y="510.50" font-size="33" text-anchor="middle" >400</text>
<text x="354.00" y="510.50" font-size="33" text-anchor="middle" >500</text>
<text x="274.50" y="510.50" font-size="33" text-anchor="middle" >600</text>
<text x="195.00" y="510.50" font-size="33" text-anchor="middle" >700</text>
<text x="186.00" y="481.50" font-size="33" text-anchor="end" >0.0</text>
<text x="186.0" y="398.20" font-size="32.4" text-anchor="end">2.0x10<tspan font-size="19" dy="-18.6">4</tspan></text>
<text x="186.0" y="307.80" font-size="32.4" text-anchor="end">4.0x10<tspan font-size="19" dy="-18.6">4</tspan></text>
<text x="186.0" y="217.40" font-size="32.4" text-anchor="end">6.0x10<tspan font-size="19" dy="-18.6">4</tspan></text>
<text x="186.0" y="127.00" font-size="32.4" text-anchor="end">8.0x10<tspan font-size="19" dy="-18.6">4</tspan></text>
<text x="186.0" y="36.60" font-size="32.4" text-anchor="end">1.0x10<tspan font-size="19" dy="-18.6">5</tspan></text>
<text x="897.00" y="511.00" font-size="33" text-anchor="middle" >470</text>
<text x="1082.00" y="511.00" font-size="33" text-anchor="middle" >465</text>
<text x="1267.00" y="511.00" font-size="33" text-anchor="middle" >460</text>
<text x="1452.00" y="511.00" font-size="33" text-anchor="middle" >455</text>
<text x="886.50" y="486.60" font-size="33" text-anchor="end" >0</text>
<text x="886.50" y="373.65" font-size="33" text-anchor="end" >50</text>
<text x="886.50" y="260.70" font-size="33" text-anchor="end" >100</text>
<text x="886.50" y="147.75" font-size="33" text-anchor="end" >150</text>
<text x="886.50" y="34.80" font-size="33" text-anchor="end" >200</text>
<text x="666.38" y="1121.80" font-size="33" text-anchor="middle" >531</text>
<text x="580.77" y="1121.80" font-size="33" text-anchor="middle" >532</text>
<text x="495.15" y="1121.80" font-size="33" text-anchor="middle" >533</text>
<text x="409.54" y="1121.80" font-size="33" text-anchor="middle" >534</text>
<text x="323.92" y="1121.80" font-size="33" text-anchor="middle" >535</text>
<text x="238.31" y="1121.80" font-size="33" text-anchor="middle" >536</text>
<text x="752.00" y="1121.80" font-size="33" text-anchor="middle" >530</text>
<text x="666.38" y="1731.60" font-size="33" text-anchor="middle" >531</text>
<text x="580.77" y="1731.60" font-size="33" text-anchor="middle" >532</text>
<text x="495.15" y="1731.60" font-size="33" text-anchor="middle" >533</text>
<text x="409.54" y="1731.60" font-size="33" text-anchor="middle" >534</text>
<text x="323.92" y="1731.60" font-size="33" text-anchor="middle" >535</text>
<text x="238.31" y="1731.60" font-size="33" text-anchor="middle" >536</text>
<text x="752.00" y="1731.60" font-size="33" text-anchor="middle" >530</text>
<text x="1452.00" y="1121.80" font-size="33" text-anchor="middle" >100</text>
<text x="1382.83" y="1121.80" font-size="33" text-anchor="middle" >101</text>
<text x="1313.65" y="1121.80" font-size="33" text-anchor="middle" >102</text>
<text x="1244.47" y="1121.80" font-size="33" text-anchor="middle" >103</text>
<text x="1175.30" y="1121.80" font-size="33" text-anchor="middle" >104</text>
<text x="1106.12" y="1121.80" font-size="33" text-anchor="middle" >105</text>
<text x="1036.95" y="1121.80" font-size="33" text-anchor="middle" >106</text>
<text x="967.77" y="1121.80" font-size="33" text-anchor="middle" >107</text>
<text x="898.60" y="1121.80" font-size="33" text-anchor="middle" >108</text>
<text x="1452.00" y="1731.60" font-size="33" text-anchor="middle" >100</text>
<text x="1382.83" y="1731.60" font-size="33" text-anchor="middle" >101</text>
<text x="1313.65" y="1731.60" font-size="33" text-anchor="middle" >102</text>
<text x="1244.47" y="1731.60" font-size="33" text-anchor="middle" >103</text>
<text x="1175.30" y="1731.60" font-size="33" text-anchor="middle" >104</text>
<text x="1106.12" y="1731.60" font-size="33" text-anchor="middle" >105</text>
<text x="1036.95" y="1731.60" font-size="33" text-anchor="middle" >106</text>
<text x="967.77" y="1731.60" font-size="33" text-anchor="middle" >107</text>
<text x="898.60" y="1731.60" font-size="33" text-anchor="middle" >108</text>
<text x="473.30" y="560.00" font-size="42" text-anchor="middle" >Binding Energy (eV)</text>
<text x="1175.50" y="565.00" font-size="42" text-anchor="middle" >Binding Energy (eV)</text>
<text x="473.75" y="1171.50" font-size="42" text-anchor="middle" >Binding Energy (eV)</text>
<text x="1177.30" y="1171.50" font-size="42" text-anchor="middle" >Binding Energy (eV)</text>
<text x="473.75" y="1781.30" font-size="42" text-anchor="middle" >Binding Energy (eV)</text>
<text x="1177.30" y="1781.30" font-size="42" text-anchor="middle" >Binding Energy (eV)</text>
<text transform="translate(54.00,251.50) rotate(-90)" x="0" y="0" font-size="42.3" text-anchor="middle">Intensity (a.u.)</text>
<text transform="translate(822.80,278.70) rotate(-90)" x="0" y="0" font-size="42.3" text-anchor="middle">Intensity (a.u.)</text>
<text transform="translate(171.80,868.65) rotate(-90)" x="0" y="0" font-size="42.3" text-anchor="middle">Normalized Intensity (a.u.)</text>
<text transform="translate(171.80,1478.45) rotate(-90)" x="0" y="0" font-size="42.3" text-anchor="middle">Normalized Intensity (a.u.)</text>
<text transform="translate(874.80,868.65) rotate(-90)" x="0" y="0" font-size="42.3" text-anchor="middle">Normalized Intensity (a.u.)</text>
<text transform="translate(874.80,1478.45) rotate(-90)" x="0" y="0" font-size="42.3" text-anchor="middle">Normalized Intensity (a.u.)</text>
<text transform="translate(339.50,141.00) rotate(-90)" x="0" y="0" font-size="32.5">O 1<tspan font-style="italic">s</tspan></text>
<text transform="translate(445.00,444.00) rotate(-90)" x="0" y="0" font-size="32.5">Ti 2<tspan font-style="italic">p</tspan></text>
<text transform="translate(534.00,442.00) rotate(-90)" x="0" y="0" font-size="32.5">C 1<tspan font-style="italic">s</tspan></text>
<text transform="translate(639.00,398.80) rotate(-90)" x="0" y="0" font-size="32.5">Si 2<tspan font-style="italic">s</tspan></text>
<text transform="translate(679.50,378.80) rotate(-90)" x="0" y="0" font-size="32.5">Si 2<tspan font-style="italic">p</tspan></text>
<line x1="440.60" y1="48.40" x2="515.00" y2="48.40" stroke="#000" stroke-width="4.5" />
<line x1="440.60" y1="98.80" x2="515.00" y2="98.80" stroke="#f00" stroke-width="4.5" />
<text x="522.2" y="59.2" font-size="32.5">SiO<tspan font-size="19.5" dy="11.7">x</tspan></text>
<text x="522.2" y="110" font-size="32.5">SiO<tspan font-size="19.5" dy="11.7">x</tspan><tspan dy="-11.7">@TiO</tspan><tspan font-size="19.5" dy="11.7">2</tspan><tspan dy="-11.7"> NPs</tspan></text>
<rect x="404.50" y="340.70" width="7.4" height="7.4" fill="#808080"/>
<rect x="458.30" y="340.70" width="7.4" height="7.4" fill="#808080"/>
<rect x="404.50" y="355.90" width="7.4" height="7.4" fill="#808080"/>
<rect x="458.30" y="355.90" width="7.4" height="7.4" fill="#808080"/>
<rect x="404.50" y="371.00" width="7.4" height="7.4" fill="#808080"/>
<rect x="458.30" y="371.00" width="7.4" height="7.4" fill="#808080"/>
<rect x="404.50" y="386.10" width="7.4" height="7.4" fill="#808080"/>
<rect x="458.30" y="386.10" width="7.4" height="7.4" fill="#808080"/>
<rect x="404.50" y="401.20" width="7.4" height="7.4" fill="#808080"/>
<rect x="458.30" y="401.20" width="7.4" height="7.4" fill="#808080"/>
<rect x="404.50" y="416.30" width="7.4" height="7.4" fill="#808080"/>
<rect x="458.30" y="416.30" width="7.4" height="7.4" fill="#808080"/>
<rect x="404.50" y="431.40" width="7.4" height="7.4" fill="#808080"/>
<rect x="458.30" y="431.40" width="7.4" height="7.4" fill="#808080"/>
<rect x="404.50" y="446.50" width="7.4" height="7.4" fill="#808080"/>
<rect x="458.30" y="446.50" width="7.4" height="7.4" fill="#808080"/>
<rect x="415.90" y="337.30" width="7.4" height="7.4" fill="#808080"/>
<rect x="431.10" y="337.30" width="7.4" height="7.4" fill="#808080"/>
<rect x="446.40" y="337.30" width="7.4" height="7.4" fill="#808080"/>
<rect x="417.10" y="464.70" width="7.4" height="7.4" fill="#808080"/>
<rect x="432.30" y="464.70" width="7.4" height="7.4" fill="#808080"/>
<rect x="447.00" y="464.70" width="7.4" height="7.4" fill="#808080"/>
<rect x="404.50" y="461.50" width="7.4" height="7.4" fill="#808080"/>
<rect x="458.30" y="461.30" width="7.4" height="7.4" fill="#808080"/>
<path d="M465.5,336.8 L898,23.5" stroke="#808080" stroke-width="7.2" fill="none" stroke-dasharray="7.5 7.6"/>
<path d="M468.8,466.2 L897,474.5" stroke="#808080" stroke-width="7.2" fill="none" stroke-dasharray="7.5 7.6"/>
<text x="924" y="59" font-size="32.5">SiO<tspan font-size="19.5" dy="11.7">x</tspan><tspan dy="-11.7">@TiO</tspan><tspan font-size="19.5" dy="11.7">2</tspan><tspan dy="-11.7"> NPs</tspan></text>
<text x="1071" y="378" font-size="32.5">Ti 2<tspan font-style="italic">p</tspan><tspan font-size="19.5" dy="11">1/2</tspan></text>
<text x="1267" y="266" font-size="32.5">Ti 2<tspan font-style="italic">p</tspan><tspan font-size="19.5" dy="11">3/2</tspan></text>
<rect x="215.10" y="652.10" width="31.90" height="19.40" fill="#c0c0c0"/>
<rect x="215.10" y="701.40" width="31.90" height="19.40" fill="#808080"/>
<rect x="215.10" y="750.70" width="31.90" height="19.40" fill="#404040"/>
<line x1="215.10" y1="810.70" x2="247.00" y2="810.70" stroke="#f00" stroke-width="3.9" />
<text x="258.3" y="673.20" font-size="32.5">O1: 63.1 %</text>
<text x="258.3" y="723.20" font-size="32.5">O2: 27.6 %</text>
<text x="258.3" y="771.50" font-size="32.5">O3: 9.3 %</text>
<text x="258.3" y="819.00" font-size="32.5">fit</text>
<rect x="215.10" y="1263.50" width="31.90" height="19.40" fill="#c0c0c0"/>
<rect x="215.10" y="1312.80" width="31.90" height="19.40" fill="#808080"/>
<rect x="215.10" y="1362.40" width="31.90" height="19.40" fill="#404040"/>
<line x1="215.10" y1="1422.00" x2="247.00" y2="1422.00" stroke="#f00" stroke-width="3.9" />
<text x="258.3" y="1282.00" font-size="32.5">O1: 62.5 %</text>
<text x="258.3" y="1332.30" font-size="32.5">O2: 27.7 %</text>
<text x="258.3" y="1380.40" font-size="32.5">O3: 9.8 %</text>
<text x="258.3" y="1426.00" font-size="32.5">fit</text>
<rect x="918.10" y="653.90" width="31.90" height="19.20" fill="#c0c0c0"/>
<rect x="918.10" y="703.30" width="31.90" height="19.20" fill="#808080"/>
<line x1="918.10" y1="762.70" x2="950.00" y2="762.70" stroke="#f00" stroke-width="3.9" />
<text x="961.4" y="673.20" font-size="32.5">Si<tspan font-size="19.5" dy="-17.3">4+</tspan><tspan dy="17.3">: 62.01 %</tspan></text>
<text x="961.4" y="723.50" font-size="32.5">Si<tspan font-size="19.5" dy="-17.3">3+</tspan><tspan dy="17.3">: 37.99 %</tspan></text>
<text x="961.4" y="769.70" font-size="32.5">fit</text>
<rect x="918.10" y="1263.50" width="31.90" height="19.20" fill="#c0c0c0"/>
<rect x="918.10" y="1312.80" width="31.90" height="19.20" fill="#808080"/>
<line x1="918.10" y1="1371.50" x2="950.00" y2="1371.50" stroke="#f00" stroke-width="3.9" />
<text x="961.4" y="1283.10" font-size="32.5">Si<tspan font-size="19.5" dy="-17.3">4+</tspan><tspan dy="17.3">: 62.74 %</tspan></text>
<text x="961.4" y="1333.20" font-size="32.5">Si<tspan font-size="19.5" dy="-17.3">3+</tspan><tspan dy="17.3">: 37.26 %</tspan></text>
<text x="961.4" y="1379.50" font-size="32.5">fit</text>
<text x="669.6" y="673.3" font-size="32.5">SiO<tspan font-size="19.5" dy="11.7">x</tspan></text>
<text x="1372.0" y="673.3" font-size="32.5">SiO<tspan font-size="19.5" dy="11.7">x</tspan></text>
<text x="504.2" y="1282.5" font-size="32.5">SiO<tspan font-size="19.5" dy="11.7">x</tspan><tspan dy="-11.7">@TiO</tspan><tspan font-size="19.5" dy="11.7">2</tspan><tspan dy="-11.7"> NPs</tspan></text>
<text x="1205.0" y="1282.5" font-size="32.5">SiO<tspan font-size="19.5" dy="11.7">x</tspan><tspan dy="-11.7">@TiO</tspan><tspan font-size="19.5" dy="11.7">2</tspan><tspan dy="-11.7"> NPs</tspan></text>
<text x="504.2" y="932.80" font-size="32.5">O1</text>
<text x="426.0" y="1024.20" font-size="32.5">O2</text>
<text x="302.00" y="1024.80" font-size="32.5">O3</text>
<path d="M306.2,1038.70 C298,1045.00 288,1054.00 289.6,1063.00 C290.5,1069.00 294,1072.50 298,1074.50" fill="none" stroke="#000" stroke-width="2.8" stroke-linecap="round"/>
<path d="M296.1,1079.10 L299.9,1070.90 L314.6,1080.60 Z" fill="#000" stroke="#000" stroke-width="1" stroke-linejoin="round"/>
<text x="504.2" y="1542.60" font-size="32.5">O1</text>
<text x="426.0" y="1634.00" font-size="32.5">O2</text>
<text x="297.60" y="1632.30" font-size="32.5">O3</text>
<path d="M306.2,1648.50 C298,1654.80 288,1663.80 289.6,1672.80 C290.5,1678.80 294,1682.30 298,1684.30" fill="none" stroke="#000" stroke-width="2.8" stroke-linecap="round"/>
<path d="M296.1,1688.90 L299.9,1680.70 L314.6,1690.40 Z" fill="#000" stroke="#000" stroke-width="1" stroke-linejoin="round"/>
<text x="1167.8" y="936.00" font-size="32.5">Si<tspan font-size="19.5" dy="-17.3">4+</tspan></text>
<text x="1217.5" y="1043.80" font-size="32.5">Si<tspan font-size="19.5" dy="-17.3">3+</tspan></text>
<text x="1167.8" y="1546.20" font-size="32.5">Si<tspan font-size="19.5" dy="-17.3">4+</tspan></text>
<text x="1217.5" y="1654.00" font-size="32.5">Si<tspan font-size="19.5" dy="-17.3">3+</tspan></text>
</svg>
</body></html>
